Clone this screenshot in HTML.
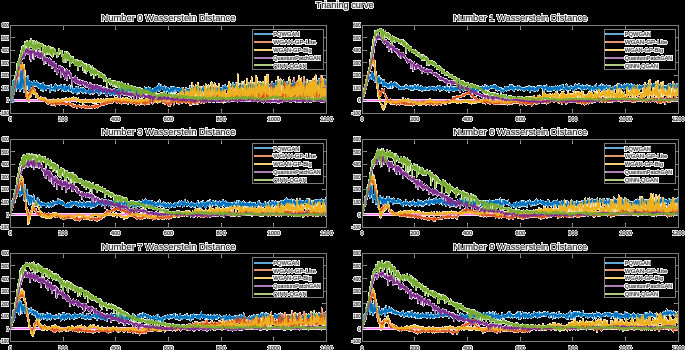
<!DOCTYPE html><html><head><meta charset="utf-8"><style>html,body{margin:0;padding:0;background:#000;width:685px;height:350px;overflow:hidden}svg{display:block}text{font-family:"Liberation Sans",sans-serif;fill:#1a1a1a;stroke:#d6d6d6;stroke-width:1.15px;paint-order:stroke fill;stroke-linejoin:round}.c{fill:none;stroke-width:1.10;stroke-linejoin:round;vector-effect:non-scaling-stroke}</style></head><body>
<svg width="685" height="350" viewBox="0 0 685 350">
<defs><filter id="key" x="0" y="0" width="685" height="350" filterUnits="userSpaceOnUse" color-interpolation-filters="sRGB"><feOffset in="SourceGraphic" dx="0" dy="0" result="b"/><feColorMatrix in="b" type="matrix" values="0 0 0 0 0 0 0 0 0 0 0 0 0 0 0 0.33334 0.33334 0.33334 0 0" result="lum"/><feComponentTransfer in="lum" result="mask"><feFuncA type="linear" slope="-255" intercept="255"/></feComponentTransfer><feComposite in="b" in2="mask" operator="in"/></filter></defs>
<rect width="685" height="350" fill="#000"/><g filter="url(#key)"><rect width="685" height="350" fill="#fff"/>
<text x="344.8" y="7.8" font-size="9.2" text-anchor="middle">Trianing curve</text>
<clipPath id="c0"><rect x="10.30" y="25.00" width="316.30" height="88.00"/></clipPath>
<text x="168.45" y="21.10" font-size="9.40" font-weight="normal" text-anchor="middle">Number 0 Wasserstein Distance</text>
<g clip-path="url(#c0)">
<path d="M10.30 100.50H326.60" stroke="#FF00FF" stroke-width="1.5" stroke-opacity="0.55" fill="none"/>
<g transform="matrix(0.263583 0 0 -0.125714 10.300 100.429)">
<path class="c" d="M0 0l1 5 1 7 1-2 1 46 1-70 1 123 1-71 1 49 1-19 1 88 1-170 1 91 1 2 1 82 1-109 1 52 1-32 1 52 1 33 1-86 1 118 1-11 1-20 1 23 1-83 1 31 1-42 1 37 1 44 1-64 1 15 1-16 1-8 1 8 1 37 1-62 1 76 1 80 1-51 1-53 1-40 1 7 1 140 1-95 1-40 1 48 1 111 1-116 1 29 1-19 1-39 1-48 1 47 1 8 1 48 1 13 1 1 1-36 1 28 1-80 1 89 1-34 1-33 1 28 1-21 1 39 1 12 1 20 1-113 1-1 1 29 1 20 1 21 1-16 1-68 1 49 1 32 1-17 1 15 1-27 1 1 1 10 1 7 1-5 1-2 1-20 1 27 1-6 1 23 1 2 1-24 1-12 1-6 1 24 1-7 1-10 1 8 1-14 1 26 1-23 1 32 1-16 1 3 1-33 1 23 1 10 1-33 1 12 1 4 1-26 1 29 1 8 1-31 1 20 1-30 1 21 1-28 1 46 1-13 1-8 1-13 1 33 1 11 1-64 1 50 1 6 1-22 1-24 1 32 1-17 1-6 1-10 1 27 1 3 1-22 1 17 1-25 1 29 1-12 1-3 1 0 1 14 1-3 1-4 1-5 1-2 1 8 1-6 1 5 1-14 1-27 1 45 1 14 1-23 1-7 1-1 1 0 1 2 1-15 1 7 1-6 1 16 1-7 1 11 1-10 1 16 1-10 1 26 1-53 1 17 1 21 1 19 1-33 1 3 1-3 1 21 1-21 1 13 1-13 1-12 1 21 1 3 1 10 1-18 1-7 1 16 1-6 1 1 1-5 1 17 1-11 1 20 1-10 1-7 1-30 1 29 1-2 1 4 1 3 1-19 1 16 1-19 1 33 1-44 1-5 1 1 1 10 1-3 1 40 1-30 1-14 1 32 1-23 1-9 1 28 1-4 1-14 1 24 1-18 1 19 1-15 1 13 1-19 1-18 1 47 1-40 1 4 1-7 1 6 1 6 1-1 1 5 1 15 1-26 1-15 1 1 1 6 1-14 1 34 1-19 1 2 1 5 1-19 1 7 1 20 1 0 1-14 1 30 1-42 1 13 1 2 1-29 1 57 1-20 1-19 1 41 1-19 1-3 1-14 1 10 1-22 1 31 1-15 1 6 1 14 1-13 1 0 1 0 1-14 1 21 1 9 1-11 1 2 1-24 1 0 1-8 1 35 1-20 1 22 1-30 1 5 1 6 1 11 1-12 1 1 1-3 1 2 1-18 1 16 1-3 1 1 1 7 1-16 1 8 1-4 1 10 1 5 1-24 1 21 1 19 1-47 1 8 1-1 1 8 1 26 1-22 1-9 1 18 1-17 1 24 1-11 1 15 1-27 1 40 1-20 1-2 1-9 1-8 1-2 1 10 1-9 1 14 1-14 1 19 1 5 1-22 1 25 1-19 1 19 1-9 1 9 1-28 1 12 1 21 1-28 1-19 1 1 1-6 1 3 1 23 1 22 1-23 1 10 1-6 1 2 1-3 1-1 1 8 1-22 1 30 1-2 1-15 1 13 1-20 1 2 1 9 1-5 1-4 1-3 1 2 1 19 1-38 1 31 1-9 1 13 1-3 1-39 1 39 1-3 1-4 1-7 1 17 1-17 1 30 1-18 1 21 1-39 1-14 1 33 1 1 1-10 1-22 1 14 1 15 1-11 1 0 1 0 1-11 1 6 1-12 1 43 1-29 1 13 1-20 1 25 1-35 1 38 1-12 1 29 1-45 1 19 1 4 1 12 1-21 1 7 1-29 1 18 1 18 1 9 1-18 1 32 1-4 1-24 1-31 1 8 1 14 1 26 1-11 1-32 1 25 1 25 1-27 1-5 1 38 1-27 1-7 1 12 1-5 1-5 1 22 1-1 1-3 1-13 1 18 1-16 1 7 1 8 1-2 1 14 1-18 1-29 1 8 1 34 1-22 1 10 1-17 1 25 1-18 1 25 1-27 1 22 1-5 1-20 1 25 1-27 1 1 1 20 1-18 1 0 1 3 1-9 1 28 1-7 1-9 1-1 1 7 1 17 1-13 1-19 1 17 1-12 1-2 1 28 1-32 1-1 1-21 1 7 1 25 1-16 1 16 1-22 1 5 1 19 1 11 1-12 1 8 1 7 1-9 1-27 1 11 1 10 1-14 1 13 1-27 1 10 1 19 1-38 1 17 1 15 1-22 1 24 1-11 1 7 1 1 1 7 1-11 1 9 1-8 1 16 1 15 1-20 1-1 1-17 1 25 1-20 1 0 1 18 1-5 1 12 1 4 1-27 1 9 1 22 1-11 1-4 1 7 1-26 1 17 1 10 1 2 1-33 1 7 1 9 1-9 1-2 1 15 1-14 1-20 1 30 1-10 1-4 1-11 1 35 1-43 1 8 1 20 1 21 1 2 1-33 1 15 1-17 1 35 1-33 1 19 1 18 1-16 1 23 1-30 1 18 1 7 1-13 1 22 1-11 1-29 1 54 1-23 1-7 1-20 1 20 1-7 1 15 1-4 1 20 1-24 1 4 1-3 1-8 1 0 1 16 1-5 1-20 1-8 1 13 1 16 1-17 1 24 1-35 1 11 1-35 1 24 1 3 1 11 1 15 1-23 1 19 1-11 1 4 1-19 1 25 1-33 1 21 1-19 1 6 1-12 1 13 1 12 1-5 1-17 1 39 1-15 1 10 1-2 1-19 1-17 1 15 1 30 1-31 1 25 1-19 1 14 1-30 1 41 1-16 1 12 1-9 1 8 1-13 1 12 1-32 1 6 1 24 1-11 1-2 1-1 1 9 1-16 1 15 1-20 1 6 1 19 1 0 1-30 1 26 1-26 1 23 1-36 1 10 1 8 1 4 1 22 1-7 1 9 1-5 1-21 1 0 1 18 1-14 1-2 1-17 1 17 1-31 1 26 1-7 1 23 1-16 1 2 1 23 1-33 1 19 1-30 1 27 1 5 1 6 1-24 1 17 1 1 1-5 1 3 1 4 1-1 1-18 1-2 1 49 1-5 1-45 1 26 1 3 1 2 1-8 1-14 1 11 1-4 1 9 1-5 1 3 1 16 1 3 1-33 1 11 1-5 1 29 1-18 1 21 1-26 1 6 1-19 1 37 1-24 1-15 1 12 1-24 1 31 1 1 1 2 1 16 1-25 1 15 1-8 1-7 1-27 1 41 1-21 1 7 1-19 1 21 1-3 1-1 1-3 1 16 1-2 1-4 1 23 1-41 1 3 1-9 1 20 1-15 1-23 1 16 1 17 1 14 1-35 1 14 1 7 1-8 1 18 1-7 1 5 1-14 1 32 1-20 1 18 1-23 1 15 1-18 1-3 1 4 1 9 1-2 1 24 1-36 1 1 1 39 1-15 1-35 1 33 1-3 1-33 1 24 1 5 1 11 1 3 1-13 1 13 1-17 1-10 1 0 1 20 1-35 1 36 1-25 1 10 1 11 1 10 1-44 1 16 1 11 1-9 1 20 1-41 1 33 1 1 1-5 1 15 1-33 1 32 1-25 1 20 1-15 1 16 1 0 1-31 1 19 1 1 1-1 1-7 1 37 1-22 1 19 1-29 1-7 1 17 1-9 1 42 1-29 1 12 1-18 1-1 1 4 1 6 1 8 1-13 1-7 1-5 1 14 1 9 1-1 1-6 1-8 1 11 1 6 1-7 1 2 1-3 1 15 1-18 1 9 1 3 1 5 1 11 1-11 1 0 1-29 1 29 1 24 1-44 1-3 1 12 1 17 1-7 1-14 1 6 1 15 1-5 1 24 1-20 1-9 1 4 1-14 1-9 1 16 1 5 1-27 1 13 1 2 1 9 1-7 1 10 1-5 1 14 1-39 1 48 1-4 1-18 1 8 1 0 1-19 1 13 1 8 1-6 1 11 1-13 1 0 1-12 1 6 1-1 1 30 1-20 1-17 1 20 1-9 1-30 1 40 1-28 1 30 1-22 1-7 1 28 1-27 1 15 1 9 1 6 1 2 1-11 1-10 1 39 1-35 1 33 1-31 1 23 1-2 1-29 1 20 1 5 1-1 1-12 1 7 1-10 1-11 1 30 1-22 1 28 1-11 1-21 1 10 1-1 1-8 1 19 1-14 1 30 1-10 1-25 1 13 1-3 1-18 1 35 1 1 1 0 1-19 1 22 1-17 1 16 1 13 1-23 1-21 1 15 1 13 1 9 1-34 1 14 1 6 1 3 1 6 1-26 1 6 1 20 1-9 1 1 1 9 1-15 1 5 1-12 1-15 1 0 1 19 1-4 1-7 1 14 1-17 1 14 1-3 1-11 1-21 1 53 1-16 1-37 1 27 1 12 1-8 1 11 1-21 1 16 1-3 1-1 1 0 1 7 1 10 1-20 1 2 1 9 1-3 1 7 1 6 1 8 1-19 1-30 1 32 1 7 1-7 1 1 1-31 1 41 1-11 1-15 1 9 1 1 1 21 1 0 1 14 1-12 1-28 1 0 1 37 1 6 1-25 1 11 1-28 1-7 1 11 1 12 1-2 1 3 1-3 1 16 1 10 1-20 1 28 1-38 1 0 1 12 1-11 1 21 1-26 1 27 1-17 1 30 1-41 1 4 1 4 1-33 1 39 1-2 1-6 1-24 1 0 1 30 1 9 1 6 1-35 1-2 1 11 1-24 1 19 1 21 1 11 1-18 1 20 1-18 1-3 1-5 1 6 1-7 1 2 1-7 1 12 1-3 1-21 1 17 1-9 1-17 1 35 1 15 1 11 1-12 1-35 1 29 1-1 1-45 1 40 1-4 1-7 1 1 1-3 1 22 1-29 1 3 1 3 1 4 1-29 1 45 1-16 1 5 1-4 1-6 1-2 1 7 1 1 1 14 1-11 1-7 1 31 1-46 1-1 1 25 1-9 1-22 1 21 1-6 1 26 1-25 1 24 1-9 1-10 1 3 1 6 1-40 1 38 1-10 1 30 1-35 1 26 1-50 1 46 1-8 1-7 1 1 1-1 1 10 1-7 1-23 1 23 1 35 1-31 1 4 1-10 1 9 1 1 1-6 1 17 1-25 1 12 1 9 1-10 1-13 1 25 1-21 1 8 1-5 1 10 1-4 1-1 1 17 1 16 1-30 1 13 1-12 1 7 1 15 1-15 1-12 1 2 1 2 1 10 1 13 1-31 1 5 1 2 1-11 1 44 1-18 1 28 1-47 1 40 1-28 1 4 1-7 1 0 1-5 1 22 1-22 1 16 1 3 1 10 1-8 1 3 1 2 1-8 1 5 1-20 1 3 1 38 1-28 1-11 1 29 1-23 1-8 1-11 1 31 1-27 1 7" stroke="#0072BD"/>
<path class="c" d="M0 0l1 5 1-1 1 18 1-7 1 9 1 11 1-3 1 6 1 6 1 13 1 15 1-7 1-2 1 16 1-3 1 13 1 17 1-6 1 15 1 1 1 14 1 12 1-2 1 14 1 9 1 5 1 3 1 5 1 22 1 5 1 33 1-45 1 33 1 9 1 18 1-4 1-10 1 15 1 13 1-4 1 18 1-26 1 50 1-8 1-26 1 7 1-12 1-15 1 7 1 7 1-41 1-24 1-20 1-17 1-12 1-49 1-9 1-27 1-33 1 14 1 0 1-4 1 0 1-36 1 23 1-14 1-5 1 29 1 8 1-13 1 23 1-10 1 11 1-9 1 36 1-41 1 31 1 12 1-28 1 23 1 4 1 12 1 7 1-14 1-8 1 31 1 1 1-21 1 3 1-4 1-3 1-8 1 7 1-34 1 21 1-11 1-9 1 7 1-34 1 24 1-11 1-18 1 9 1-11 1 18 1-9 1-12 1-10 1 1 1 2 1-3 1-3 1 3 1 2 1-2 1-2 1-2 1 27 1-31 1 3 1 12 1-7 1 6 1 3 1 3 1-5 1-15 1 16 1-24 1 12 1-4 1-5 1 11 1-7 1 8 1-21 1 17 1-5 1-4 1-14 1 8 1-12 1-5 1 33 1-12 1 6 1-18 1 8 1-1 1-1 1-5 1-3 1-15 1 20 1-3 1 5 1-11 1 16 1-18 1-6 1 17 1-12 1-6 1 11 1 4 1-4 1 2 1 14 1-12 1 6 1-27 1 18 1 3 1-9 1-3 1 10 1-6 1-2 1 14 1 1 1-7 1-5 1 7 1 3 1-1 1-16 1 9 1 5 1 3 1 2 1-1 1-14 1 3 1-4 1 22 1-11 1 2 1 4 1-10 1-7 1 6 1 2 1 13 1-5 1-15 1 13 1 0 1-14 1 7 1-13 1 15 1-5 1-7 1 4 1 7 1-7 1 6 1 2 1-10 1 3 1 17 1-15 1-7 1 5 1-10 1 17 1-6 1 4 1-1 1-5 1 4 1-6 1-7 1-4 1 4 1-14 1 29 1-26 1 11 1-10 1-5 1 13 1-2 1 0 1 5 1-9 1 7 1 0 1-6 1-1 1 6 1-4 1 1 1-18 1 17 1 2 1-4 1 3 1 11 1-12 1 4 1-11 1 1 1 2 1-3 1 6 1-6 1 5 1-9 1-1 1 7 1-3 1 3 1 0 1 1 1 10 1 2 1-5 1-7 1 12 1-21 1-3 1 15 1-3 1-1 1 0 1-11 1 2 1 16 1-2 1-12 1 17 1-20 1 3 1 6 1-9 1 5 1 2 1-1 1 8 1-2 1-11 1 3 1 6 1-1 1-5 1 9 1 3 1-9 1 9 1-16 1 0 1 15 1-9 1-1 1 5 1-3 1 7 1-12 1 7 1 20 1-16 1-14 1 18 1-1 1 6 1-9 1-5 1 15 1-5 1-18 1 19 1-7 1 10 1-10 1 8 1-3 1 3 1-4 1-2 1 4 1 6 1-1 1 11 1-8 1 3 1 12 1-15 1 5 1-7 1 6 1 13 1-9 1 9 1-17 1-2 1 14 1-12 1 29 1-8 1-19 1 9 1-3 1 8 1-3 1 8 1 5 1-13 1-7 1 14 1-5 1 10 1-10 1 8 1-3 1-4 1-2 1 10 1 13 1-11 1-7 1 7 1-4 1-10 1 14 1 10 1-14 1-6 1 13 1 12 1-7 1 1 1 11 1-6 1-7 1-7 1 3 1-2 1 7 1-14 1 20 1-11 1-5 1 10 1-25 1 10 1 1 1 13 1-12 1 17 1-17 1 8 1-11 1 16 1-13 1 6 1-10 1-5 1 7 1 12 1-19 1-5 1 11 1 9 1-16 1 4 1 7 1-5 1 6 1 8 1-10 1-1 1 8 1-7 1-8 1 0 1 0 1 28 1-18 1 6 1 1 1-14 1 14 1-11 1-14 1 17 1-7 1 7 1 7 1 18 1-26 1 3 1 5 1-3 1-2 1-9 1 0 1 7 1-9 1 4 1-6 1 22 1-25 1 32 1-24 1-4 1-2 1 19 1 2 1-18 1 11 1-5 1-1 1 4 1 6 1-26 1-4 1 23 1-2 1 7 1-23 1 7 1 25 1-28 1 16 1-11 1 4 1-10 1 25 1-31 1 7 1 3 1 21 1-9 1 4 1-7 1 2 1 2 1 11 1-14 1-17 1 26 1-10 1-12 1 10 1-8 1 32 1-25 1-17 1 24 1-11 1 22 1-12 1-19 1 13 1-5 1 4 1 1 1-14 1 24 1-11 1 1 1 18 1 12 1-27 1 27 1-40 1 28 1-11 1 5 1-9 1 4 1 3 1 0 1 8 1 22 1-31 1 5 1-17 1-6 1 41 1-29 1 7 1 9 1 10 1-5 1 17 1-22 1-18 1 22 1 1 1-11 1 6 1-3 1 26 1-26 1-8 1 19 1-24 1 26 1-1 1-14 1 3 1-1 1 25 1-15 1-19 1-1 1 13 1-1 1-9 1 11 1-6 1 13 1-8 1-7 1 1 1-13 1 20 1-7 1-10 1 5 1-8 1 33 1-34 1 10 1-3 1-15 1 9 1-5 1 6 1 0 1 6 1 0 1-14 1-2 1 0 1-4 1-10 1 28 1-8 1-1 1-18 1 3 1-10 1 28 1 9 1 0 1-7 1-11 1 14 1 0 1 10 1 2 1-12 1 4 1 10 1-3 1-6 1-24 1 19 1 19 1-8 1 11 1-15 1 5 1 10 1-1 1-3 1 9 1 3 1 1 1-38 1 15 1 3 1-1 1-16 1 37 1-29 1 13 1-31 1 23 1 3 1-10 1 22 1 20 1-41 1 0 1 33 1-15 1-12 1-13 1 26 1-7 1 17 1-32 1 9 1-3 1 1 1 17 1-3 1-20 1 6 1-2 1 15 1-14 1-13 1 10 1 4 1 12 1 5 1 0 1-12 1-12 1 15 1-11 1-6 1 12 1 1 1 6 1-24 1-11 1 30 1-20 1 27 1-28 1 6 1-16 1 52 1-34 1 5 1-5 1 4 1 15 1-10 1-1 1 17 1-35 1 35 1 7 1-40 1 23 1-20 1-10 1 18 1 20 1 4 1-15 1-5 1 6 1-3 1 2 1-23 1 30 1 2 1 32 1-21 1-11 1 4 1 3 1-15 1-19 1 18 1 7 1 4 1-11 1-4 1 9 1 4 1 7 1-12 1 8 1-21 1 25 1-13 1-19 1 15 1 6 1-17 1 26 1-16 1 12 1-20 1 19 1 6 1-16 1 5 1-5 1 14 1-3 1 8 1-7 1-15 1 0 1 15 1 14 1 28 1-19 1-17 1-22 1 41 1-9 1-16 1 31 1-11 1-5 1-18 1 39 1-12 1-4 1-9 1 9 1 35 1-21 1 22 1-14 1-10 1 15 1-17 1-24 1 13 1 14 1-19 1 6 1-5 1 43 1-50 1 4 1 3 1 35 1 12 1-43 1 16 1-10 1 1 1 35 1-21 1-15 1-19 1 15 1-16 1-13 1 51 1-10 1-5 1 11 1-29 1 36 1-37 1 21 1 1 1 44 1-20 1-25 1-11 1 9 1 1 1-17 1 25 1-14 1 13 1-14 1-11 1 18 1 12 1 0 1 38 1-48 1 26 1-36 1 22 1 7 1 37 1-18 1-49 1 33 1-24 1-10 1 60 1-44 1 3 1 22 1-47 1 0 1 20 1-25 1 40 1-25 1-13 1 27 1-7 1 9 1 18 1-10 1-18 1-44 1 10 1-1 1 34 1 18 1-31 1-18 1 31 1-4 1 31 1-31 1-6 1-19 1 29 1-19 1-7 1 21 1 31 1-7 1-9 1 30 1-68 1 21 1-8 1 4 1-9 1-3 1 15 1 8 1 4 1-27 1 20 1 14 1-21 1 1 1 10 1 25 1-18 1 23 1-39 1-7 1 25 1-15 1-6 1 23 1 4 1-19 1-8 1-6 1 71 1-50 1-12 1-13 1 27 1-18 1 14 1-11 1-13 1 25 1 27 1-41 1-32 1 96 1-41 1-22 1-14 1-9 1 88 1-54 1 42 1-38 1-13 1 77 1 7 1-87 1 11 1 0 1-12 1-11 1 4 1 43 1 6 1-36 1-18 1 54 1-49 1 61 1 17 1-26 1 18 1-55 1 41 1-33 1-34 1 13 1 6 1-6 1 7 1 84 1-123 1 47 1-8 1-11 1 58 1-41 1-8 1 9 1-21 1 53 1 49 1-104 1 25 1-9 1 36 1 9 1 24 1-103 1 47 1 4 1 4 1-14 1 9 1-19 1-14 1 92 1-77 1 21 1-3 1-22 1 2 1 6 1 7 1 87 1-50 1-21 1 25 1-59 1 131 1-108 1 6 1-7 1 33 1-43 1 78 1-75 1 46 1-60 1 16 1-18 1 22 1 18 1-24 1 64 1-55 1-24 1 7 1 10 1 9 1-17 1-11 1 16 1-5 1 13 1 26 1 36 1-100 1 16 1 66 1-45 1-2 1-10 1 11 1-22 1 3 1 11 1-24 1 46 1 19 1-67 1 26 1-23 1 31 1 27 1-18 1 105 1-124 1-26 1 27 1 110 1-61 1-46 1 22 1-19 1-22 1 5 1-19 1 38 1 14 1 2 1-39 1-12 1 31 1 8 1-20 1 14 1 111 1-101 1-6 1 4 1 84 1-78 1-11 1 36 1-45 1 2 1-4 1 7 1-3 1-19 1 64 1-31 1 138 1-149 1 90 1-87 1 30 1-11 1-3 1-17 1 6 1 110 1-149 1 22 1-10 1 5 1 30 1 110 1-129 1 23 1-34 1 2 1 56 1-2 1-48 1-18 1 29 1 66 1-84 1 7 1-20 1 19 1-17 1 19 1 25 1-18 1-23 1 28 1-46 1 196 1-158 1-25 1 14 1-10 1 53 1-25 1 84 1-29 1-62 1 122 1-91 1-26 1-33 1 125 1-67 1 80 1-98 1-17 1-3 1 15 1-22 1 91 1-58 1-16 1 5 1-1 1 6 1 3 1 67 1-83 1 21 1-21 1 103 1-2 1-92 1 53 1-28 1 96 1-134 1-16 1 17 1 54 1-36 1 14 1-22 1 85 1-100 1 25 1 13 1 45 1-6 1-77 1 21 1-24 1 22 1 6 1-26 1 29 1-16 1 33 1-31 1 59 1-33 1 136 1-40 1-154 1 49 1-39 1 7 1-31 1 82 1-52 1 8 1-14 1 15 1-11 1 10 1 103 1-106 1 82 1-79 1-26 1 105 1-48 1-20 1 30" stroke="#D95319"/>
<path class="c" d="M0 0l1 7 1 4 1-2 1 11 1 5 1 7 1 2 1 8 1 3 1 1 1 18 1 5 1 11 1-5 1 2 1 9 1 2 1 30 1-7 1 9 1 18 1 25 1-1 1-1 1 12 1 23 1 3 1 3 1 16 1 20 1 18 1-31 1 11 1 3 1-14 1 21 1 3 1 30 1-11 1-13 1 31 1-8 1-13 1 19 1 4 1-9 1 7 1-34 1 20 1 12 1-7 1-1 1-21 1-16 1-56 1 5 1-58 1-4 1-39 1 20 1-17 1-42 1 20 1-40 1 4 1-6 1-22 1 13 1 12 1-43 1 29 1-7 1 29 1-9 1 7 1 6 1 1 1-12 1 37 1-25 1 20 1 7 1-13 1 13 1 13 1-10 1-6 1-12 1 16 1 6 1-4 1-9 1 8 1-13 1 0 1 2 1-17 1 1 1 16 1-16 1-20 1 7 1 2 1 3 1-12 1-8 1-4 1 8 1-4 1-10 1 3 1-2 1 10 1-11 1 10 1 3 1-3 1-10 1 17 1-16 1 9 1-9 1-9 1 16 1 0 1-4 1 3 1-8 1-2 1 4 1 16 1-10 1-11 1 7 1-9 1-1 1 10 1-12 1-10 1 4 1 7 1-1 1 7 1-16 1 10 1-3 1-5 1 8 1-4 1-11 1 15 1-18 1 10 1-1 1 4 1-9 1 6 1-1 1 9 1-13 1 7 1-2 1-7 1 29 1-18 1-11 1 23 1-19 1 12 1 5 1-12 1 3 1-1 1 4 1-12 1 3 1 9 1 9 1-3 1 8 1-7 1-10 1 3 1-15 1 8 1-1 1 10 1 3 1-9 1 0 1-8 1 11 1 2 1 2 1-9 1 21 1-6 1-9 1-3 1 2 1 3 1 0 1 4 1 2 1 5 1-2 1-8 1 4 1-6 1-1 1 19 1-17 1 17 1-17 1 5 1 7 1-8 1 2 1-4 1-2 1 2 1-3 1 17 1-13 1 14 1-29 1 17 1 4 1-6 1 10 1-3 1-6 1 5 1 14 1-14 1 0 1-5 1 5 1-11 1 9 1 18 1-9 1-3 1 3 1 5 1-8 1 10 1-7 1-7 1 10 1-30 1 12 1 5 1-9 1 5 1-5 1-1 1 20 1-13 1-5 1 8 1-11 1 7 1-5 1 8 1-21 1 15 1-6 1-9 1 15 1-14 1 17 1-8 1 1 1-4 1 6 1-19 1 13 1-4 1 6 1-2 1 5 1-9 1 18 1 3 1-17 1 2 1 3 1 6 1 5 1-21 1 5 1-3 1-1 1-3 1 13 1-10 1 18 1-3 1-13 1 0 1 3 1 14 1-16 1-4 1 10 1 3 1-7 1 15 1-9 1 1 1-8 1 5 1-1 1-14 1 17 1-14 1 12 1-9 1 22 1-11 1 4 1 0 1-15 1-6 1 14 1 8 1-5 1 5 1 1 1-16 1 12 1 12 1-17 1-10 1 13 1-1 1 7 1-9 1 6 1-15 1 21 1 5 1-1 1-19 1 12 1-18 1 18 1-2 1-7 1 9 1-1 1 6 1-7 1 1 1-15 1 5 1 5 1 5 1-2 1 10 1-16 1 5 1 3 1-3 1 5 1-7 1 13 1-11 1 10 1-8 1 12 1-20 1 14 1-6 1 5 1 7 1-16 1 0 1 3 1 9 1-15 1 15 1-10 1 1 1 6 1 6 1-7 1 1 1 4 1-2 1-15 1 14 1 4 1 6 1 7 1-10 1-4 1-8 1 8 1 4 1 3 1-16 1 8 1 4 1 7 1-12 1-6 1-2 1 3 1-3 1 10 1 2 1-2 1 3 1-12 1 6 1-6 1 3 1 9 1-9 1-13 1 12 1-3 1-6 1 6 1 12 1 6 1-16 1 11 1 1 1-17 1 9 1 0 1 1 1-14 1 9 1 11 1 1 1 3 1-16 1 16 1-10 1-15 1 14 1-8 1 6 1-5 1 9 1-8 1-4 1 9 1-6 1-6 1 13 1-13 1-2 1 0 1-7 1 7 1 18 1-21 1 7 1-8 1 4 1 16 1-4 1-11 1 4 1-6 1 1 1-1 1 0 1 9 1 2 1 0 1-5 1-9 1 10 1-7 1 14 1-3 1 2 1-9 1-11 1 21 1 1 1-20 1 12 1 8 1-18 1 22 1-16 1-6 1 19 1-8 1-7 1 12 1-21 1 28 1-19 1 8 1-4 1 6 1 5 1-13 1 12 1-7 1-2 1 4 1-6 1 2 1 14 1-8 1 10 1-5 1-11 1-6 1 10 1 7 1-2 1-6 1 14 1-21 1 3 1 11 1 16 1-14 1-12 1 13 1 0 1 2 1-10 1-4 1 8 1 2 1 9 1 4 1-23 1 1 1 4 1-2 1 6 1 0 1-2 1 8 1-12 1-7 1-4 1 4 1 0 1-7 1 20 1-4 1-5 1-4 1-6 1 5 1 21 1-32 1 18 1 5 1-5 1-3 1 8 1-15 1 14 1 6 1-19 1 2 1 8 1 7 1 2 1-5 1-10 1-3 1 11 1 2 1-12 1 10 1 2 1 6 1-16 1 13 1-13 1 6 1 3 1 13 1 7 1-16 1 2 1 4 1-20 1 18 1-17 1 24 1-2 1-7 1-10 1 20 1-11 1-1 1 4 1-18 1 18 1 5 1-4 1-1 1-8 1 14 1-3 1-1 1-3 1 12 1 5 1-6 1 5 1 5 1 2 1-10 1-1 1-1 1 6 1 4 1 7 1-14 1 10 1-14 1 24 1-16 1 8 1-11 1 6 1-5 1 26 1-14 1-6 1-8 1 3 1 14 1 13 1-37 1 36 1 10 1-38 1-14 1 56 1-5 1-52 1 65 1-32 1 9 1-28 1 75 1-62 1-20 1 26 1-31 1 30 1-16 1 14 1-21 1 37 1-4 1 41 1-64 1 42 1-69 1 34 1 0 1 42 1-35 1 27 1-38 1 12 1 5 1 13 1-69 1 69 1-9 1-64 1 42 1 63 1-59 1 65 1-26 1-20 1 2 1-37 1 24 1 99 1-78 1-41 1-17 1 64 1-48 1 67 1 10 1-13 1-63 1 77 1-39 1 59 1-43 1-25 1 5 1-10 1-7 1 1 1 16 1 83 1-30 1-86 1 94 1-84 1 21 1-16 1 4 1 1 1 30 1-13 1 6 1 41 1-70 1-14 1-36 1 63 1-46 1 58 1-26 1-1 1-34 1-4 1 23 1 15 1-5 1 76 1-83 1 65 1-7 1 47 1-99 1-14 1 76 1-34 1 5 1-37 1 6 1-33 1 118 1-31 1-75 1 108 1-113 1-2 1 29 1 50 1-67 1 39 1-58 1 39 1-28 1 136 1-79 1 72 1-72 1 65 1-84 1-18 1-8 1 33 1 17 1-24 1 64 1 25 1-90 1-4 1-14 1 12 1-3 1 78 1-63 1 18 1-15 1-7 1 3 1 7 1 22 1 11 1-62 1 22 1 83 1-47 1-42 1 1 1-15 1-4 1-32 1 85 1-67 1-8 1 41 1 14 1-9 1-13 1 50 1-61 1-29 1-17 1 75 1 16 1-62 1 77 1-81 1 76 1-67 1 2 1-20 1 10 1 42 1-12 1-20 1-19 1 46 1-24 1 14 1 82 1-132 1 165 1-121 1 11 1 95 1-87 1-20 1 29 1 55 1-75 1-26 1 54 1-2 1 15 1-27 1 57 1 20 1-109 1 52 1-24 1 17 1 40 1-97 1 19 1 3 1 46 1-5 1-31 1 83 1-25 1 9 1 23 1-68 1 77 1-89 1 159 1-184 1 80 1-65 1 64 1-40 1-41 1 36 1 32 1-58 1-6 1 75 1-43 1 15 1-10 1 89 1-79 1-31 1 19 1 27 1-21 1 1 1-49 1 44 1 6 1 84 1-48 1-85 1 48 1 53 1-82 1 43 1-44 1 29 1-41 1-17 1 164 1-129 1 12 1-17 1 61 1-31 1 21 1-56 1 102 1-61 1-7 1-13 1-29 1 73 1-5 1-32 1 94 1 29 1-93 1-57 1 32 1 16 1-9 1-23 1 5 1 87 1-55 1-78 1 37 1-54 1 65 1 11 1 127 1-141 1-25 1 85 1 65 1-165 1 97 1-117 1 94 1-20 1-11 1 81 1-42 1 31 1-53 1-13 1 85 1-90 1-26 1 47 1 48 1-90 1 74 1-30 1-30 1 54 1 47 1-101 1 60 1-13 1-11 1-13 1 76 1-71 1 109 1-130 1-31 1 15 1 79 1-45 1-16 1 46 1-45 1 146 1-135 1-5 1-15 1 149 1-133 1-5 1-7 1-25 1 45 1-42 1 52 1-1 1-53 1 23 1-47 1 74 1 27 1-44 1-30 1 32 1 3 1 1 1-22 1 48 1-32 1-25 1 57 1-83 1 18 1 28 1 6 1 54 1-78 1 83 1-89 1 37 1-46 1 24 1 57 1-67 1 148 1-154 1 106 1-82 1-16 1-9 1 124 1-122 1 6 1 73 1 55 1-104 1-23 1 3 1 5 1 28 1-24 1 19 1 79 1-94 1 17 1 13 1 6 1-19 1 14 1-78 1 49 1 31 1-7 1-30 1 23 1 64 1-59 1 31 1-45 1-43 1 98 1-87 1-12 1 8 1 25 1 69 1-84 1 1 1 141 1-175 1 155 1-179 1 64 1-44 1 63 1 13 1-66 1 18 1 75 1-61 1 16 1-48 1 93 1-40 1 42 1-68 1 29 1-5 1 32 1-51 1 2 1 58 1 15 1-58 1 55 1-88 1 119 1-78 1 61 1-96 1 77 1-11 1-4 1-69 1 18 1 148 1-153 1 81 1-78 1 106 1-56 1-43 1-1 1 125 1-60 1 17 1-55 1-55 1 63 1 37 1-23 1 41 1-69 1 87 1-125 1 2 1 37 1 1 1-25 1 58 1-79 1 8 1 2 1 127 1-111 1 17 1 48 1-30 1-51 1 57 1 40 1-107 1 0 1 119 1-56 1-53 1 117 1-118 1 112 1-125 1 57 1 66 1-57 1 69 1-109 1-36 1 31 1 129 1-95 1-4 1 78 1-114 1 72 1 38 1-55 1 33 1-117 1 195 1-145 1 8 1 91 1-44 1-37 1 1 1 46 1-9 1-92 1 35 1-11 1 35 1-29 1 105 1-66 1-22 1 20 1-44 1 46 1-59 1 107 1-72 1-24 1-17 1 159 1-130 1 114 1-135 1 26 1 10 1 100 1-63 1-110 1 12 1 100 1-64 1 67 1-72 1-8 1 0 1-1 1 9" stroke="#EDB120"/>
<path class="c" d="M0 0l1 7 1 10 1 5 1 6 1 1 1 16 1-6 1 10 1 9 1 12 1-3 1 8 1 20 1-10 1 16 1-3 1 18 1 1 1 33 1-3 1 24 1 6 1 12 1-11 1 7 1 26 1-4 1 29 1-1 1 14 1 21 1-28 1 11 1 8 1 22 1 6 1 12 1-3 1 18 1-4 1-22 1 53 1-20 1 12 1 10 1 12 1-19 1 18 1 7 1 17 1-25 1-20 1 17 1 19 1-15 1 45 1-25 1 26 1-22 1 33 1-30 1-4 1 15 1 17 1 1 1-16 1-30 1 30 1-21 1 29 1 9 1-23 1 5 1-33 1 28 1-61 1 65 1-16 1 24 1-89 1 48 1 33 1-11 1 2 1 16 1-23 1 19 1-19 1 24 1-16 1-59 1 40 1 29 1-31 1-10 1 17 1-5 1 13 1-10 1-10 1 8 1-1 1 28 1 4 1-53 1-2 1 38 1-5 1 8 1-30 1-18 1 32 1-30 1 36 1 1 1-24 1 31 1-47 1 44 1-30 1 16 1-2 1 12 1-3 1-56 1-2 1 29 1-55 1 59 1-9 1 6 1-14 1-12 1 4 1 20 1-43 1 4 1 30 1-22 1 5 1 21 1-27 1 7 1 12 1-11 1-24 1 13 1-24 1 54 1-55 1 2 1 34 1 4 1-45 1 41 1-4 1-8 1-46 1 28 1-7 1 25 1-31 1-3 1-6 1 37 1 1 1-12 1-43 1-2 1-14 1 55 1 0 1-16 1 16 1-48 1-23 1 31 1-39 1 35 1-12 1 14 1-21 1 28 1 22 1-29 1 9 1-1 1 18 1-13 1 5 1-29 1 32 1-84 1 53 1 19 1-24 1 31 1-2 1-42 1 3 1-11 1 45 1-55 1 26 1-7 1-47 1 55 1-52 1 21 1 12 1 16 1 23 1-60 1 57 1-80 1 54 1 2 1 18 1-3 1-25 1 12 1 10 1-15 1-15 1 23 1-27 1 8 1-28 1 12 1 22 1-18 1-18 1-10 1 4 1-50 1 47 1 7 1-20 1 11 1 5 1 7 1 2 1-29 1-4 1 3 1 42 1-48 1 16 1 23 1-17 1-30 1 44 1-27 1-13 1 8 1 13 1-30 1 31 1-3 1-20 1 9 1-13 1-10 1 28 1-8 1 20 1-34 1 12 1 10 1-31 1 13 1 16 1-23 1 5 1 10 1-9 1 22 1-2 1-3 1-21 1-13 1 21 1-12 1 3 1 6 1 13 1-7 1-35 1 38 1-12 1-18 1 19 1-13 1 4 1 0 1-21 1 10 1 3 1-19 1 32 1-20 1 7 1 23 1-29 1-4 1-37 1 50 1-22 1 31 1-22 1-10 1 27 1-34 1-36 1 61 1 9 1-35 1 29 1-20 1 8 1-17 1 20 1 19 1-30 1-12 1 35 1 4 1-22 1 18 1 0 1-9 1 4 1-31 1 31 1-21 1-31 1 37 1 13 1-20 1-16 1 8 1 0 1 18 1 11 1-19 1-13 1 19 1-25 1-4 1 25 1-13 1 3 1-17 1 16 1 6 1 15 1-42 1 21 1-3 1 6 1 8 1-16 1 3 1-4 1 12 1 4 1-52 1 16 1 24 1-13 1 18 1-5 1-9 1 3 1 16 1-13 1-1 1-10 1 16 1 3 1-23 1 1 1 14 1-16 1-9 1 8 1 17 1-9 1 3 1 2 1-4 1 17 1-7 1 6 1-11 1 4 1-3 1 7 1-24 1-1 1-13 1 2 1 35 1-20 1-15 1-1 1 16 1 5 1-32 1 28 1-45 1 50 1-20 1 5 1-34 1 47 1-5 1-4 1-8 1 23 1-16 1 19 1-24 1 14 1 4 1-22 1 0 1 22 1-25 1 14 1-15 1 32 1-5 1-23 1 22 1-4 1-24 1 5 1 13 1 2 1-14 1-8 1 13 1 8 1-9 1-13 1 4 1 15 1-11 1 10 1-21 1 17 1 4 1 2 1-21 1 21 1-12 1-10 1-10 1 22 1 9 1-13 1-9 1 1 1 5 1 17 1-19 1-2 1 4 1-37 1 30 1 17 1 3 1-17 1 3 1 14 1-6 1-9 1 17 1-3 1-14 1-32 1 43 1 2 1-7 1 4 1-26 1 20 1 5 1-17 1-4 1 23 1-4 1-13 1 6 1-11 1 3 1 11 1 2 1-14 1-10 1 25 1-19 1 16 1 8 1-3 1-4 1 3 1-26 1 9 1 9 1-2 1-17 1 7 1 9 1-16 1 0 1 9 1-8 1 9 1 7 1-6 1-14 1 27 1-21 1-8 1 13 1 12 1 2 1-24 1-23 1 43 1-1 1 2 1-4 1-18 1 18 1-24 1 4 1-23 1 16 1 18 1 11 1-32 1 6 1 0 1 22 1-1 1-10 1 4 1-4 1 3 1 8 1-27 1 1 1-1 1 17 1-17 1 1 1 22 1 1 1-23 1-7 1 32 1-2 1-19 1 7 1 9 1-23 1 28 1-16 1 7 1-15 1 17 1-16 1-9 1 30 1-18 1 10 1 4 1-7 1 13 1-24 1 0 1 0 1 25 1-12 1-5 1 7 1-14 1 7 1-3 1 10 1-24 1 31 1-25 1 2 1 1 1 22 1-20 1 11 1 0 1-9 1-2 1 12 1-18 1-2 1 10 1-2 1-7 1 1 1-2 1 24 1-18 1-2 1 5 1 8 1-15 1 2 1-3 1 10 1 2 1-3 1-10 1-6 1 12 1-9 1 1 1 25 1-16 1 14 1 2 1-18 1-4 1 17 1-21 1 2 1 2 1-5 1 6 1-7 1 7 1 6 1 3 1-14 1 10 1 4 1-17 1 10 1-2 1-7 1 12 1-13 1 3 1 7 1 8 1-9 1 8 1-11 1-7 1 12 1 2 1-9 1-7 1 15 1 1 1 3 1-7 1 4 1-14 1 3 1 1 1-1 1-1 1 7 1 4 1-7 1 5 1-4 1 3 1-3 1-10 1 16 1-16 1 3 1-4 1 13 1-2 1-10 1-2 1 13 1-1 1 4 1-12 1 3 1-5 1-10 1 13 1-2 1-1 1 13 1 8 1-12 1-15 1 13 1-1 1 10 1-11 1 8 1 8 1-15 1 7 1-5 1 7 1-8 1 10 1-13 1 9 1-11 1 12 1-6 1-6 1 11 1-24 1 23 1 0 1-5 1 0 1 5 1-4 1-18 1 7 1 19 1-10 1 3 1-6 1 0 1 7 1-8 1-4 1-6 1 6 1 9 1 7 1-4 1-12 1 8 1 10 1-6 1-11 1 6 1-4 1-4 1 11 1 3 1-17 1 16 1-4 1-7 1 9 1 6 1-5 1-4 1-8 1 5 1 7 1 1 1-16 1 6 1 12 1-15 1 7 1 4 1-2 1-10 1 3 1-1 1 7 1-6 1 11 1-14 1 6 1 11 1 1 1-14 1-2 1-4 1 14 1-13 1 20 1-15 1 14 1-4 1-14 1 5 1 7 1 6 1-22 1 16 1-4 1-8 1 0 1 0 1 0 1 6 1 10 1 4 1-11 1 7 1 3 1-13 1 7 1 7 1-8 1 3 1-12 1 6 1-2 1 9 1-20 1 20 1-5 1 2 1 6 1-4 1-5 1-5 1 2 1-3 1-9 1 17 1-5 1 12 1-16 1 11 1-10 1 13 1-8 1 8 1 0 1 2 1-4 1-3 1-3 1 8 1-8 1 10 1-4 1-4 1-6 1 1 1-3 1 13 1-2 1 1 1-6 1 11 1-17 1 4 1-5 1-1 1 14 1-9 1-1 1 8 1 5 1-17 1 10 1-2 1 12 1-19 1 1 1 17 1-10 1 0 1 1 1-6 1 9 1 1 1-2 1-1 1-3 1 5 1-12 1 6 1-7 1 6 1 13 1 0 1-4 1-4 1 6 1-12 1 1 1 2 1 2 1 9 1-9 1 2 1 0 1-6 1 4 1 6 1 4 1-5 1 2 1 1 1-2 1 3 1-3 1 4 1 0 1 1 1-4 1-15 1 11 1-10 1 16 1-8 1-10 1 7 1 9 1 0 1 2 1-6 1 2 1-13 1-1 1 1 1 1 1 6 1-5 1 10 1 3 1-14 1 14 1-19 1 18 1-4 1-2 1-2 1 9 1-6 1 4 1 3 1-16 1 2 1 8 1-10 1-1 1 16 1-1 1-6 1-7 1-2 1 6 1-9 1 0 1 2 1 5 1-5 1-9 1 14 1 7 1-15 1 11 1-5 1 13 1-5 1 3 1-3 1-2 1-12 1 7 1-7 1 17 1-7 1-8 1 1 1-5 1 12 1-7 1 13 1-14 1 12 1-7 1-17 1 13 1-1 1 14 1-12 1 5 1-6 1 10 1-7 1 0 1 1 1-7 1 4 1 6 1-1 1 1 1 6 1-14 1 1 1 11 1-7 1-9 1 18 1-1 1-10 1 1 1 3 1-4 1-13 1 20 1-9 1-1 1 10 1-21 1 27 1-15 1 3 1 11 1-6 1-12 1 18 1-12 1-8 1 7 1 6 1 5 1-5 1-1 1 6 1 4 1-9 1-7 1 1 1 16 1 0 1-4 1-11 1 14 1-1 1-1 1-3 1 3 1-7 1 10 1-1 1-5 1-9 1 7 1-5 1 0 1 9 1-12 1 5 1-2 1 8 1-15 1 7 1 9 1-15 1 13 1-6 1-4 1 14 1-7 1 2 1-9 1 3 1-1 1 10 1 0 1 5 1-11 1 9 1-2 1-1 1 3 1 1 1-5 1-12 1-7 1 16 1-1 1 8 1-17 1 5 1 5 1-11 1 5 1 2 1-7 1 7 1 2 1 4 1-3 1-1 1 5 1-16 1 17 1-10 1 4 1-6 1 0 1 4 1 9 1-10 1 11 1-1 1-3 1-11 1 4 1 8 1-8 1-6 1 10 1-5 1 7 1 2 1-1 1 5 1-9 1 8 1-17 1 8 1 2 1 1 1-7 1 11 1 2 1 1 1-17 1 18 1-12 1-2 1 9 1-14 1 4 1-2 1 4 1 11 1-14 1 16 1-4 1 2 1-7 1 9 1-6 1 6 1-12 1 13 1 0 1-11 1-4 1 16 1-15 1 11 1 3 1-18 1 13 1-12 1 8 1 7 1-15 1 2 1 11 1-1 1 1 1-5 1-5 1 1 1 7 1 6 1-21 1 5 1 2 1-4 1 1 1 13 1-14 1 1 1 9 1-13 1 18 1-12 1-3 1 5 1-8 1 8 1 2 1 8 1-5 1-7 1 0 1 1 1-4" stroke="#7E2F8E"/>
<path class="c" d="M0 0l1 11 1 1 1 17 1 1 1 13 1 11 1-1 1 10 1 6 1-3 1 34 1 6 1 5 1 29 1-2 1 15 1 9 1 1 1 32 1 13 1-1 1 11 1 8 1 13 1 3 1-16 1 68 1 10 1-22 1 2 1 13 1 27 1 9 1-62 1 63 1-23 1-13 1 55 1 25 1-31 1-8 1 54 1 10 1-45 1 34 1 36 1-27 1 32 1-14 1-40 1 40 1-27 1 5 1 3 1 12 1 50 1-20 1 15 1-15 1 7 1 14 1 9 1-40 1 34 1-51 1 20 1-23 1 38 1 19 1-52 1 10 1 13 1-8 1 40 1-31 1 21 1-10 1-30 1 64 1 1 1-60 1 51 1-35 1-19 1 19 1-49 1 38 1 8 1-26 1 59 1-54 1 25 1 25 1-64 1 34 1-12 1-20 1 38 1-13 1 40 1-14 1-54 1 8 1 18 1 16 1-27 1 1 1 38 1 1 1-39 1 33 1-41 1-18 1 30 1 8 1 15 1 5 1-15 1-1 1-4 1-2 1 4 1 13 1-77 1 14 1 10 1-2 1 9 1 31 1-53 1 26 1 25 1-90 1 36 1 12 1-12 1 50 1-45 1 1 1 42 1-1 1-16 1 22 1-61 1 62 1-28 1-18 1 35 1-12 1 22 1-61 1 32 1-8 1 12 1-29 1-15 1 35 1-13 1 35 1-72 1 39 1 14 1-8 1 29 1-12 1-20 1-21 1 26 1 10 1 0 1-29 1-8 1 13 1 0 1-8 1 3 1 7 1-39 1 23 1-9 1 12 1-12 1 12 1 25 1-6 1 27 1-29 1-1 1 6 1 6 1-8 1-2 1 2 1-17 1 27 1-45 1 12 1-5 1-47 1 51 1-24 1 9 1-8 1-37 1 55 1 14 1 11 1-11 1-32 1 47 1-52 1-33 1 64 1-11 1-24 1 30 1 21 1-16 1-41 1-6 1 52 1-4 1-12 1-1 1-41 1 42 1-42 1-41 1 51 1-28 1 53 1-46 1 35 1-11 1 10 1-13 1 22 1-38 1 6 1-12 1 24 1-30 1 30 1-46 1 9 1 12 1-20 1 4 1 39 1-30 1-10 1 38 1-17 1 2 1-31 1 35 1-66 1 21 1 33 1 9 1 5 1-38 1 26 1 18 1-42 1 1 1 7 1 9 1 24 1-25 1 17 1-15 1-12 1-11 1 2 1 24 1-37 1-36 1 37 1 26 1-19 1-11 1 6 1-15 1 20 1 21 1-23 1-46 1 20 1 13 1-13 1-3 1 47 1-10 1 6 1-42 1 13 1 30 1-28 1-14 1 42 1-56 1 24 1 7 1-14 1-39 1 37 1-9 1-13 1 39 1 14 1-56 1 45 1-19 1-31 1 1 1 24 1-25 1-36 1 43 1 37 1-30 1-12 1 35 1 0 1-15 1-33 1 39 1-26 1 18 1-5 1-6 1 5 1 1 1-20 1 0 1-22 1 14 1 26 1-36 1 27 1 2 1-34 1 29 1-7 1 16 1-33 1 19 1 3 1-25 1-10 1 7 1 14 1-23 1 30 1-31 1-21 1 20 1 8 1 18 1-22 1 6 1-16 1 5 1-23 1 22 1-5 1-51 1 33 1 7 1-4 1 2 1 20 1 3 1 0 1-27 1 23 1-17 1 19 1-45 1 31 1-10 1-4 1 10 1 3 1-2 1-25 1 1 1 10 1-28 1 37 1-11 1-7 1 8 1 16 1-8 1-7 1-22 1 37 1-29 1 25 1-19 1 8 1 10 1-40 1 11 1-6 1-7 1 14 1 27 1-62 1 23 1 38 1-21 1-1 1 10 1 5 1-28 1-44 1 53 1 18 1 3 1-34 1 22 1-12 1 19 1-28 1-1 1-12 1 37 1-32 1 4 1-38 1 66 1-38 1 11 1 15 1-24 1 18 1-39 1 14 1 25 1-11 1-6 1 33 1-7 1-52 1 29 1-14 1 31 1-20 1 10 1 5 1 5 1-26 1-3 1 29 1-32 1 15 1-16 1-21 1-1 1 54 1-5 1-22 1 14 1-5 1-42 1 35 1 15 1-26 1 3 1 4 1-49 1 64 1-17 1 9 1-5 1 10 1-6 1-11 1-12 1 11 1-17 1-18 1 49 1-35 1 31 1-27 1 15 1 7 1 8 1-1 1-59 1 57 1-18 1-11 1-20 1 33 1 12 1 0 1-14 1 9 1-11 1-17 1 13 1 9 1 2 1-3 1-26 1 26 1 11 1-29 1 18 1-19 1-5 1 32 1-28 1 7 1-4 1 21 1-31 1 26 1-20 1 5 1-8 1 23 1-23 1 5 1 0 1-4 1-3 1 18 1-26 1 25 1-22 1 13 1-18 1 0 1 11 1 5 1 4 1-6 1-18 1 10 1 11 1 7 1-3 1-15 1-3 1-6 1 12 1-14 1-8 1-19 1 30 1-4 1-17 1 27 1 3 1-5 1 7 1-13 1 2 1-8 1 3 1 9 1 11 1-12 1 14 1 2 1-25 1 20 1-25 1 23 1-22 1 24 1-10 1-11 1 28 1-24 1 26 1-6 1 5 1-9 1-9 1-5 1 9 1 9 1 7 1-29 1 4 1 8 1-13 1 11 1 2 1-8 1-5 1 8 1-2 1 14 1-9 1 14 1-19 1 7 1-18 1 18 1-9 1 11 1-10 1-4 1 11 1 4 1-5 1-5 1-1 1-9 1-2 1 1 1 23 1-21 1 8 1 2 1-12 1-6 1 15 1 13 1-6 1-21 1 8 1-7 1 4 1 12 1-11 1 5 1-6 1 3 1-1 1-7 1-16 1 40 1-25 1-2 1 10 1-2 1-11 1 7 1 15 1-2 1-3 1 5 1-10 1 12 1-18 1 6 1 9 1-8 1-9 1 3 1 14 1-9 1-6 1 8 1-13 1 15 1-10 1 4 1-5 1 14 1-18 1 18 1-6 1-13 1 0 1 2 1 5 1 13 1-4 1-13 1 5 1-11 1 7 1 9 1-2 1-1 1-14 1 12 1 1 1 1 1 6 1-14 1-2 1 5 1 4 1 5 1-3 1-13 1 4 1 9 1-9 1 1 1-10 1 12 1-8 1 18 1-21 1-1 1 11 1 11 1-30 1 10 1-1 1-11 1 23 1-19 1 24 1-15 1 8 1-12 1 7 1 13 1-7 1-4 1 11 1-26 1 6 1 9 1 3 1 5 1-10 1 4 1 9 1-7 1-8 1 15 1-8 1 6 1 0 1-3 1-9 1 8 1-12 1 13 1-3 1-5 1 3 1-3 1-8 1 11 1 1 1-24 1 15 1 18 1-16 1-6 1 18 1-7 1-12 1 4 1 9 1 3 1-3 1-2 1-5 1 5 1-8 1 6 1-7 1 4 1-3 1 21 1-10 1-7 1 9 1-8 1 9 1-4 1-14 1 23 1-16 1 17 1-26 1 13 1 6 1-1 1-9 1-11 1 24 1-12 1-8 1 16 1-9 1 10 1-15 1 4 1 15 1-7 1-5 1 11 1-5 1-12 1 3 1 14 1-10 1 6 1-4 1 9 1-5 1 0 1 1 1-11 1 15 1-8 1-5 1-10 1 9 1 7 1-12 1 7 1-2 1-4 1-2 1 8 1 12 1-8 1-19 1-3 1 23 1-4 1 0 1 3 1 6 1-12 1 7 1 7 1-17 1-6 1 25 1-3 1-5 1-1 1-3 1 13 1-8 1-5 1 1 1-7 1-1 1 2 1 12 1 1 1 4 1-18 1 1 1 7 1-6 1 9 1-8 1 2 1 14 1-8 1 5 1-24 1 17 1-1 1 13 1-5 1-8 1-4 1-3 1 16 1-1 1 0 1-6 1-4 1 6 1-2 1-7 1 15 1-8 1-6 1 11 1 8 1-10 1-11 1 21 1-18 1-3 1 20 1-12 1-5 1-5 1 18 1-27 1 26 1-17 1 13 1-14 1 15 1-16 1 14 1-1 1 5 1 2 1-8 1 0 1 9 1-6 1 3 1-7 1 11 1-10 1-9 1-2 1 18 1-17 1 11 1-1 1 7 1-10 1-5 1 0 1-1 1 9 1-10 1 8 1-5 1-12 1 23 1 1 1-1 1-9 1 2 1 5 1-11 1 6 1-7 1 0 1 7 1 5 1-10 1 4 1 10 1-15 1 9 1-5 1-4 1 2 1-10 1 11 1 0 1-12 1 3 1-3 1 1 1 12 1-2 1-8 1 4 1-5 1 13 1 0 1 7 1-6 1 5 1-2 1-5 1-1 1-16 1 9 1 10 1-4 1-6 1 16 1-9 1-7 1 2 1-1 1 4 1 8 1-1 1-6 1-2 1 9 1-3 1-5 1 10 1 9 1-1 1-2 1-8 1-4 1 13 1-7 1-8 1 14 1 4 1-12 1 11 1-1 1-11 1-4 1 0 1 11 1 0 1-9 1 20 1-17 1 12 1-8 1 1 1 8 1 3 1-21 1 15 1-2 1-11 1 4 1-5 1 2 1 14 1-18 1-6 1 18 1-6 1 3 1-1 1 2 1-13 1 12 1-9 1 8 1-8 1 10 1 0 1-5 1-18 1 12 1-1 1-4 1-3 1 3 1 5 1-9 1 13 1-10 1 7 1-9 1 8 1 1 1-9 1-2 1 21 1 0 1-2 1-8 1 5 1-14 1 7 1 6 1-15 1 19 1-1 1-11 1-5 1 13 1-17 1 20 1-4 1 7 1-18 1 9 1 2 1 6 1 1 1-17 1 9 1 3 1-2 1-11 1 17 1-1 1-5 1-8 1 1 1-3 1 12 1 3 1-1 1-3 1-2 1 6 1-3 1 0 1-10 1 11 1-13 1 14 1 1 1-7 1 7 1 1 1-1 1 1 1-13 1 9 1-9 1 9 1-4 1-1 1-4 1 15 1-15 1 1 1 15 1-1 1-3 1-16 1 14 1-8 1-1 1-3 1-5 1 3 1 2 1-6 1 8 1 2 1 10 1-18 1 11 1-10 1 1 1 14 1-9 1 6 1 3 1-9 1 7 1 1 1-11 1-7 1 8 1-4 1 13 1 2 1-25 1 14 1-5 1 5 1-13 1 10 1-5 1 7 1-8 1 8 1 11 1-1 1-8 1-9 1 16 1-6 1-8 1 10 1 3 1-10 1 9 1-9 1 10 1-4 1 6 1-13 1 11 1-10 1 4 1 9 1-4 1 3 1-5 1 1 1 7 1-15 1 13 1-4 1 6 1 2 1-15 1 14 1-15 1-2 1 19 1-17 1 3 1 13 1-11 1 3 1-5 1 5 1 0 1 10" stroke="#77AC30"/>
</g></g>
<rect x="10.50" y="25.50" width="316.00" height="88.00" fill="none" stroke="#7c7c7c" stroke-width="1.00"/>
<path d="M10.50 113.50h4M326.50 113.50h-4M10.50 100.50h4M326.50 100.50h-4M10.50 87.50h4M326.50 87.50h-4M10.50 75.50h4M326.50 75.50h-4M10.50 62.50h4M326.50 62.50h-4M10.50 50.50h4M326.50 50.50h-4M10.50 37.50h4M326.50 37.50h-4M10.50 25.50h4M326.50 25.50h-4M10.50 113.50v-4M10.50 25.50v4M63.50 113.50v-4M63.50 25.50v4M115.50 113.50v-4M115.50 25.50v4M168.50 113.50v-4M168.50 25.50v4M221.50 113.50v-4M221.50 25.50v4M273.50 113.50v-4M273.50 25.50v4M326.50 113.50v-4M326.50 25.50v4" stroke="#7c7c7c" stroke-width="1.00" fill="none"/>
<text x="8.80" y="115.00" font-size="5.6" style="stroke-width:1.00px;stroke:#c4c4c4" text-anchor="end" textLength="9.0" lengthAdjust="spacingAndGlyphs">-100</text>
<text x="8.80" y="102.43" font-size="5.6" style="stroke-width:1.00px;stroke:#c4c4c4" text-anchor="end" textLength="2.6" lengthAdjust="spacingAndGlyphs">0</text>
<text x="8.80" y="89.86" font-size="5.6" style="stroke-width:1.00px;stroke:#c4c4c4" text-anchor="end" textLength="7.3" lengthAdjust="spacingAndGlyphs">100</text>
<text x="8.80" y="77.29" font-size="5.6" style="stroke-width:1.00px;stroke:#c4c4c4" text-anchor="end" textLength="7.3" lengthAdjust="spacingAndGlyphs">200</text>
<text x="8.80" y="64.71" font-size="5.6" style="stroke-width:1.00px;stroke:#c4c4c4" text-anchor="end" textLength="7.3" lengthAdjust="spacingAndGlyphs">300</text>
<text x="8.80" y="52.14" font-size="5.6" style="stroke-width:1.00px;stroke:#c4c4c4" text-anchor="end" textLength="7.3" lengthAdjust="spacingAndGlyphs">400</text>
<text x="8.80" y="39.57" font-size="5.6" style="stroke-width:1.00px;stroke:#c4c4c4" text-anchor="end" textLength="7.3" lengthAdjust="spacingAndGlyphs">500</text>
<text x="8.80" y="27.00" font-size="5.6" style="stroke-width:1.00px;stroke:#c4c4c4" text-anchor="end" textLength="7.3" lengthAdjust="spacingAndGlyphs">600</text>
<text x="10.30" y="121.10" font-size="5.8" style="stroke-width:1.00px;stroke:#c4c4c4" text-anchor="middle" textLength="3.0" lengthAdjust="spacingAndGlyphs">0</text>
<text x="63.02" y="121.10" font-size="5.8" style="stroke-width:1.00px;stroke:#c4c4c4" text-anchor="middle" textLength="9.3" lengthAdjust="spacingAndGlyphs">200</text>
<text x="115.73" y="121.10" font-size="5.8" style="stroke-width:1.00px;stroke:#c4c4c4" text-anchor="middle" textLength="9.3" lengthAdjust="spacingAndGlyphs">400</text>
<text x="168.45" y="121.10" font-size="5.8" style="stroke-width:1.00px;stroke:#c4c4c4" text-anchor="middle" textLength="9.3" lengthAdjust="spacingAndGlyphs">600</text>
<text x="221.17" y="121.10" font-size="5.8" style="stroke-width:1.00px;stroke:#c4c4c4" text-anchor="middle" textLength="9.3" lengthAdjust="spacingAndGlyphs">800</text>
<text x="273.88" y="121.10" font-size="5.8" style="stroke-width:1.00px;stroke:#c4c4c4" text-anchor="middle" textLength="12.4" lengthAdjust="spacingAndGlyphs">1000</text>
<text x="326.60" y="121.10" font-size="5.8" style="stroke-width:1.00px;stroke:#c4c4c4" text-anchor="middle" textLength="12.4" lengthAdjust="spacingAndGlyphs">1200</text>
<rect x="252.70" y="29.50" width="70.80" height="39.70" fill="#fff" stroke="#ffffff" stroke-width="0.10"/>
<rect x="252.50" y="29.50" width="71.00" height="40.00" fill="none" stroke="#7c7c7c" stroke-width="1.00"/>
<path d="M254.00 34.00h18.2" stroke="#0072BD" stroke-width="2" stroke-opacity="0.62"/>
<text x="273.30" y="36.30" font-size="6.0" textLength="26.1" lengthAdjust="spacingAndGlyphs">PQWGAN</text>
<path d="M254.00 42.00h18.2" stroke="#D95319" stroke-width="2" stroke-opacity="0.62"/>
<text x="273.30" y="44.10" font-size="6.0" textLength="42.6" lengthAdjust="spacingAndGlyphs">WGAN-GP-Lite</text>
<path d="M254.00 50.00h18.2" stroke="#EDB120" stroke-width="2" stroke-opacity="0.62"/>
<text x="273.30" y="51.90" font-size="6.0" textLength="38.3" lengthAdjust="spacingAndGlyphs">WGAN-GP-Big</text>
<path d="M254.00 58.00h18.2" stroke="#7E2F8E" stroke-width="2" stroke-opacity="0.62"/>
<text x="273.30" y="59.70" font-size="6.0" textLength="47.4" lengthAdjust="spacingAndGlyphs">QuantumPatchGAN</text>
<path d="M254.00 65.00h18.2" stroke="#77AC30" stroke-width="2" stroke-opacity="0.62"/>
<text x="273.30" y="67.50" font-size="6.0" textLength="33.3" lengthAdjust="spacingAndGlyphs">QINN-QGAN</text>
<clipPath id="c1"><rect x="362.10" y="25.00" width="316.30" height="88.00"/></clipPath>
<text x="520.25" y="21.10" font-size="9.40" font-weight="normal" text-anchor="middle">Number 1 Wasserstein Distance</text>
<g clip-path="url(#c1)">
<path d="M362.10 100.50H678.40" stroke="#FF00FF" stroke-width="1.5" stroke-opacity="0.55" fill="none"/>
<g transform="matrix(0.263583 0 0 -0.125714 362.100 100.429)">
<path class="c" d="M0 0l1 9 1 8 1-5 1 28 1 6 1 7 1 21 1 12 1-16 1 11 1 15 1 29 1 4 1-30 1 11 1 42 1 23 1-25 1-6 1 42 1-26 1 23 1 18 1-16 1-9 1 16 1-26 1 12 1-5 1 11 1-3 1 8 1-1 1 13 1 2 1 4 1 22 1-63 1 58 1-33 1-22 1 21 1 4 1 19 1-48 1 25 1-4 1-41 1 9 1 37 1 0 1 6 1-14 1-5 1-8 1 21 1-45 1 13 1 8 1-39 1 53 1-39 1 12 1 37 1-51 1 5 1 33 1-43 1 9 1 14 1-1 1 1 1-4 1 14 1-7 1-7 1-20 1-2 1-19 1 37 1-37 1 38 1 13 1-43 1 4 1 0 1 17 1-25 1 8 1-6 1 2 1 19 1-31 1 13 1 1 1 7 1-28 1 29 1-8 1 5 1-9 1-20 1 12 1 18 1-9 1-1 1 23 1 5 1-25 1 23 1-45 1 0 1 35 1-12 1 10 1 0 1-7 1 9 1-6 1-20 1 19 1 0 1 18 1-34 1 12 1-6 1 3 1 18 1-15 1-11 1 5 1 5 1-20 1 7 1 18 1-8 1-11 1-6 1 2 1-16 1 24 1-7 1-4 1-15 1 6 1 11 1-2 1-8 1 10 1 4 1-15 1 1 1-3 1-3 1 20 1-2 1-2 1-14 1 2 1 9 1-3 1 6 1-8 1 14 1 12 1-2 1 0 1-15 1 8 1-12 1 12 1-13 1-1 1-2 1 13 1-5 1-1 1-13 1 13 1-16 1 29 1-16 1 3 1-4 1-15 1 2 1 14 1 15 1-27 1 5 1 6 1-16 1 0 1 13 1 4 1-3 1 20 1-17 1 6 1 13 1 1 1-32 1 12 1 16 1-25 1 5 1-4 1 0 1 2 1 13 1 11 1 2 1-15 1-20 1 19 1-3 1 7 1-5 1-17 1 21 1-25 1 13 1 9 1 0 1 11 1-40 1 26 1 3 1-11 1 9 1-19 1 18 1-2 1-16 1 3 1 5 1-5 1 16 1-8 1 11 1-2 1-11 1-3 1-8 1 2 1 0 1 12 1-13 1 10 1 1 1-7 1 4 1 16 1 2 1-24 1 6 1-1 1 1 1 18 1-8 1 5 1 5 1-23 1 3 1 2 1 10 1-11 1 8 1 6 1 0 1-8 1-12 1-7 1 27 1-6 1-14 1 5 1 0 1-12 1 20 1-10 1 5 1 11 1-9 1 8 1-1 1-4 1 1 1 18 1-20 1 18 1-26 1 17 1-5 1-9 1-17 1 40 1-28 1 2 1 11 1-1 1 2 1-6 1-13 1 24 1-18 1 12 1 3 1 6 1-14 1-1 1 1 1-17 1 11 1-3 1-2 1 14 1-6 1 20 1-1 1-35 1 20 1-11 1 16 1-5 1 8 1-7 1 5 1-11 1-22 1 12 1 3 1 4 1-6 1 27 1-20 1 15 1-17 1 20 1-29 1 18 1-20 1 18 1 12 1-33 1 8 1 11 1-4 1-12 1 26 1-11 1 13 1-10 1-14 1 7 1 19 1-28 1 10 1 11 1 5 1-2 1-23 1 37 1-23 1 3 1 0 1-3 1-7 1 7 1 17 1-28 1-10 1 29 1-2 1 4 1 10 1-25 1 9 1 3 1 7 1-2 1-20 1-6 1 11 1-14 1 28 1-16 1 0 1-6 1 25 1-14 1-7 1 10 1-7 1 7 1 7 1-17 1 8 1 0 1 6 1-6 1-6 1-7 1 10 1-14 1 17 1-6 1 5 1-11 1-3 1-1 1 20 1-14 1 0 1-16 1 18 1-24 1 38 1-16 1 3 1-15 1 4 1 18 1-9 1 7 1 9 1-6 1-27 1 10 1-1 1 2 1-11 1 0 1 14 1 2 1 13 1-9 1 19 1-35 1 5 1 18 1-6 1-7 1 19 1 3 1 3 1-18 1 4 1 3 1-2 1 10 1-16 1 9 1-27 1 32 1 9 1-17 1 11 1-28 1 14 1-12 1 20 1 2 1-19 1 5 1 2 1 32 1-26 1 2 1 3 1 0 1-6 1-11 1 7 1 25 1-14 1-6 1-11 1 14 1 1 1-6 1 16 1-15 1 5 1 10 1-5 1 9 1-14 1-1 1 10 1-2 1 10 1-7 1-4 1 5 1 3 1-18 1 11 1-1 1 16 1-17 1 16 1-25 1 13 1 12 1-15 1 15 1-35 1 22 1 0 1-4 1-16 1 22 1-33 1 34 1-8 1 6 1-15 1-11 1 5 1-1 1 9 1-11 1 6 1 0 1 8 1-37 1 16 1 11 1-1 1-14 1 3 1 1 1 3 1-7 1 0 1-5 1 8 1 19 1-24 1 21 1 12 1-18 1 24 1-26 1 21 1-18 1-11 1 17 1 17 1-25 1 12 1-15 1 2 1 15 1-6 1 8 1 8 1-26 1 5 1 9 1 24 1-28 1-2 1 10 1 18 1-29 1 2 1 4 1 7 1 16 1-37 1-5 1 20 1 4 1-29 1 17 1 17 1-16 1 11 1-4 1 6 1-3 1-2 1 11 1-20 1 8 1 11 1-18 1 2 1-5 1-2 1 32 1-16 1 15 1-13 1-7 1-4 1 6 1-4 1 10 1-20 1 11 1 2 1-7 1 0 1 8 1-1 1-8 1 1 1-6 1 12 1-8 1-16 1 14 1 10 1-3 1-14 1 18 1-1 1 0 1 10 1-20 1 10 1-9 1 14 1 2 1-6 1 3 1-17 1 16 1-20 1 37 1-11 1-29 1-9 1 40 1-23 1 15 1-20 1 14 1-8 1 14 1-11 1 20 1-24 1 22 1-15 1 6 1-23 1-2 1 31 1-25 1 9 1 0 1-6 1 12 1-17 1 2 1 24 1-19 1 18 1 0 1 10 1-11 1-24 1 14 1 3 1 18 1-9 1-8 1 11 1-8 1 10 1-3 1 10 1-8 1 8 1-11 1 8 1-10 1 9 1-5 1-4 1-4 1 2 1 7 1-31 1 39 1-41 1 24 1-2 1 10 1-6 1-3 1 0 1 9 1 14 1-22 1-27 1 18 1 9 1 21 1-34 1 4 1 10 1-3 1-18 1 25 1-25 1 11 1 18 1-29 1 11 1 22 1-21 1-8 1 6 1 16 1-27 1 11 1-9 1 4 1 27 1-15 1-4 1 10 1-13 1-5 1 26 1-3 1-19 1 18 1 8 1-11 1 1 1-20 1 13 1-20 1 34 1-15 1 17 1-23 1 19 1-28 1 14 1 11 1-2 1-5 1-17 1 33 1-8 1 6 1 0 1-16 1 9 1 22 1-36 1 15 1-11 1 27 1-18 1-14 1 5 1-9 1-10 1 0 1 19 1-5 1 14 1-11 1 12 1 17 1-33 1-1 1 25 1 15 1-36 1-10 1 16 1-2 1 13 1-21 1 8 1 0 1-15 1 0 1 23 1 1 1-16 1 27 1-8 1-5 1 2 1-3 1 5 1 1 1-9 1-24 1 22 1-7 1-4 1 21 1-27 1 30 1-17 1-6 1 4 1 37 1-10 1-19 1 15 1 9 1-30 1 7 1 14 1-6 1-9 1 23 1-13 1 3 1 18 1-21 1 21 1-24 1-5 1 3 1 9 1-3 1-3 1-21 1 5 1 10 1 11 1 9 1-43 1 24 1-3 1 4 1 4 1-12 1-5 1 27 1-3 1-14 1 4 1-7 1-8 1 24 1-15 1-6 1 6 1 26 1-15 1-2 1-2 1 9 1-2 1-24 1 11 1-5 1 10 1-4 1-22 1 36 1-10 1-24 1 33 1-11 1 4 1-5 1 1 1-7 1-13 1 13 1 9 1-2 1 8 1-8 1-25 1 35 1-17 1-6 1 12 1-12 1 21 1-15 1 34 1-26 1-3 1-1 1-18 1 15 1 1 1 5 1-23 1 26 1 14 1-20 1 4 1 5 1-14 1 3 1 16 1-9 1-17 1-7 1 48 1-22 1-24 1 20 1 7 1-7 1-23 1 43 1-14 1-9 1 11 1-11 1-1 1 15 1-33 1 35 1-7 1 5 1 2 1 7 1-1 1-7 1-15 1 12 1-14 1-6 1 16 1-2 1 9 1-40 1 32 1 0 1-8 1 15 1-28 1 14 1-9 1 3 1-12 1 10 1 8 1-6 1 2 1-13 1 28 1-27 1 9 1 7 1-8 1 11 1-5 1 19 1-13 1-2 1-12 1 15 1 8 1-6 1-15 1 5 1 5 1 4 1-16 1 39 1-23 1 3 1-6 1 5 1 24 1-34 1 5 1-6 1 6 1 25 1-26 1 3 1-17 1 17 1 7 1-8 1 1 1 14 1-3 1-8 1-8 1-8 1 37 1-38 1 26 1-9 1-7 1 19 1-18 1 23 1-27 1 18 1 10 1-26 1 36 1-15 1-35 1 42 1 6 1-26 1 1 1 7 1-27 1 23 1 10 1-18 1 19 1 13 1-50 1 3 1 13 1 15 1-3 1-16 1-2 1 4 1 28 1-31 1 4 1 17 1-15 1-8 1 28 1-13 1-13 1 3 1 16 1-16 1 8 1 6 1 1 1-33 1 15 1 2 1 5 1 7 1 5 1-19 1-8 1 15 1-10 1 28 1-16 1-3 1 11 1-20 1 4 1 3 1 10 1 8 1-5 1 1 1-12 1 8 1-7 1 18 1-21 1 7 1 4 1 7 1-17 1 7 1-7 1-5 1 29 1-7 1-22 1 7 1 18 1-13 1-5 1 28 1-21 1 2 1 12 1-16 1 9 1 2 1 7 1-18 1 21 1-9 1 17 1-18 1-9 1 0 1-7 1 13 1-1 1 11 1-10 1-11 1 22 1-17 1 7 1 15 1-2 1-25 1 8 1 17 1-5 1-5 1 4 1-37 1 22 1-13 1 9 1 3 1 10 1 8 1-5 1-6 1-9 1 20 1-13 1-25 1 20 1 7 1-18 1 13 1 16 1-22 1 2 1 0 1-12 1 6 1-7 1 9 1-7 1 22 1-13 1 11 1-26 1 15 1 7 1 2 1-15 1 6 1 3 1-6 1 0 1 11 1-20 1-7 1 16 1 10 1-30 1 44 1-14 1 6 1-17 1 11 1 23 1 0 1-14 1-11 1 3 1 17 1-24 1-2 1 10 1 13 1-24 1 18 1 1 1-3 1-3 1 13 1-4 1-24 1 37 1-14 1-1 1-8 1 0 1-24 1 25 1 10 1 0 1-16 1-18 1 12 1 10 1 19 1-36 1 20 1 7 1 0 1-9" stroke="#0072BD"/>
<path class="c" d="M0 0l1 8 1 13 1 3 1 18 1 1 1 16 1 10 1 6 1 27 1-6 1 16 1 14 1-5 1 27 1 0 1 17 1-6 1 8 1 26 1 3 1 5 1 13 1 8 1-7 1-2 1 13 1 7 1 4 1 25 1 9 1 11 1 8 1-1 1 7 1 9 1-7 1 9 1 14 1-3 1 7 1 3 1 15 1-14 1-11 1-5 1 3 1 10 1-78 1 17 1-24 1-11 1-46 1 23 1-35 1-24 1-7 1-21 1 0 1-12 1 4 1-18 1-16 1 1 1-6 1-8 1-26 1 29 1-32 1-1 1 7 1 13 1 16 1-31 1 42 1 7 1-19 1 9 1 1 1 5 1-3 1-11 1 10 1-2 1 9 1-36 1-18 1 15 1-13 1 4 1-12 1-13 1 1 1 9 1-9 1-16 1 13 1-26 1 4 1 6 1-14 1 2 1 9 1-1 1-2 1-3 1-5 1 3 1 25 1-25 1 17 1-18 1 15 1-2 1-7 1-9 1-7 1 18 1-19 1 0 1 22 1-1 1-13 1-3 1-4 1 8 1-6 1-9 1 6 1 8 1-15 1 5 1 8 1 13 1-12 1 0 1 15 1-23 1 3 1 12 1 2 1-4 1-22 1 24 1 0 1-5 1 5 1 6 1-10 1-8 1-7 1 15 1-6 1 1 1-5 1 11 1 3 1-2 1-13 1 16 1-5 1-21 1 22 1-21 1 7 1 16 1-3 1-11 1-2 1 9 1-17 1 17 1-5 1 7 1-7 1-8 1 10 1-4 1-9 1 2 1 2 1 8 1 5 1-6 1-9 1 6 1 8 1 3 1-15 1 10 1-5 1-14 1 7 1 6 1 0 1 2 1-2 1 8 1-11 1-4 1 16 1-9 1 11 1-11 1 15 1-18 1 1 1 14 1 8 1-18 1 17 1 0 1-5 1-6 1-14 1 5 1 5 1 10 1-4 1-3 1 6 1-13 1 15 1-9 1 17 1-9 1-6 1 1 1-7 1 13 1-9 1 6 1 9 1-6 1 1 1 13 1-12 1 3 1-10 1-7 1 10 1-10 1-10 1 21 1-3 1-10 1 16 1-10 1-2 1-4 1 15 1-12 1-1 1 0 1-2 1-7 1 7 1-1 1 11 1-14 1 14 1-8 1-3 1 5 1 1 1 0 1 4 1-3 1-12 1 5 1 16 1-12 1-15 1 17 1 10 1-4 1-7 1 0 1 3 1-5 1-3 1 15 1-14 1 9 1-18 1 6 1-3 1 11 1-7 1 0 1-2 1 8 1 6 1-10 1 8 1-4 1-4 1 7 1 7 1-24 1 21 1 8 1-12 1 6 1 2 1-3 1-1 1 8 1-1 1-6 1 4 1-10 1 5 1 2 1-1 1-4 1 14 1-6 1 3 1-14 1 6 1-1 1 4 1 13 1 4 1-14 1 1 1-4 1-2 1 9 1-9 1-2 1 13 1-4 1 5 1 1 1 6 1-1 1 4 1-6 1 2 1 4 1 1 1 3 1 0 1 14 1-15 1 6 1-2 1 10 1-14 1-2 1 18 1-2 1-3 1-5 1 15 1-4 1-6 1 2 1 0 1 15 1-10 1-6 1 4 1 12 1-4 1-8 1-3 1 5 1 7 1-5 1 0 1 4 1-3 1-3 1-1 1 4 1 2 1 8 1-1 1-6 1 15 1-16 1 16 1-14 1 7 1 9 1 1 1-11 1 8 1-8 1 7 1 5 1-6 1 15 1-6 1 2 1-7 1 4 1 4 1 4 1 0 1-7 1-2 1-4 1 23 1-8 1 1 1-13 1 14 1-12 1-3 1-7 1-8 1 13 1-6 1-2 1-11 1-7 1 5 1 12 1 6 1-21 1 1 1-11 1 2 1 8 1-10 1 4 1 7 1-12 1-9 1 19 1-10 1-4 1-1 1-5 1 5 1-16 1 9 1-9 1 7 1 4 1-7 1 13 1-14 1-6 1 7 1-1 1 1 1-2 1-1 1 7 1-19 1 17 1-9 1 3 1-6 1 16 1-25 1 6 1 6 1 8 1-15 1 13 1 4 1-16 1-10 1 22 1-6 1-1 1 9 1-3 1-11 1 5 1-9 1 10 1-5 1 4 1-9 1 6 1 0 1 2 1-4 1-16 1 18 1-13 1 16 1-8 1-1 1-5 1 18 1-18 1 15 1 2 1 6 1-8 1-11 1-7 1 2 1-6 1 22 1-8 1-11 1 14 1-5 1 7 1-6 1-11 1 10 1 5 1-5 1 0 1-11 1 5 1 5 1 5 1-10 1 1 1 18 1-23 1 6 1-5 1 7 1 7 1 0 1-3 1 6 1-9 1 5 1-12 1 15 1-12 1 15 1-18 1 11 1 0 1 1 1-3 1 13 1-9 1-12 1 5 1 13 1-16 1 21 1-16 1-11 1 21 1-14 1-10 1 18 1-10 1 11 1 4 1 1 1-8 1-10 1 22 1-10 1-1 1-12 1 7 1 6 1-2 1 3 1-9 1-5 1 16 1-3 1 10 1 2 1-12 1-1 1 13 1-3 1-13 1 21 1-12 1-3 1-9 1 8 1 7 1-1 1 8 1-4 1-15 1 6 1-1 1-3 1 0 1-2 1 0 1 6 1 3 1 6 1-17 1 2 1-14 1 16 1 3 1-6 1 4 1-7 1 0 1-6 1 3 1-7 1 24 1-3 1-6 1-2 1 13 1-8 1-10 1 6 1 2 1 0 1 0 1-16 1 7 1-10 1 18 1-6 1-7 1 27 1-7 1-15 1 11 1-11 1 12 1-2 1-10 1 9 1 9 1-7 1-17 1 13 1 2 1-4 1 7 1-14 1-13 1 32 1-21 1 8 1-12 1 20 1-15 1 10 1-1 1 13 1 4 1-9 1 3 1-5 1 0 1-8 1 12 1-21 1 24 1-6 1 0 1 10 1-24 1 8 1 13 1-7 1 8 1-6 1-7 1 14 1-2 1 3 1 0 1 13 1-24 1 3 1 16 1-19 1 8 1 9 1-6 1 1 1-5 1-15 1 22 1 1 1-4 1-8 1 5 1 4 1-9 1-2 1-5 1 13 1-14 1 6 1 14 1-28 1 11 1 14 1-10 1 12 1-20 1 3 1 18 1-18 1 9 1-2 1 14 1-20 1 10 1 8 1 3 1-8 1 6 1-12 1 23 1-12 1 3 1 10 1-13 1-1 1 6 1 6 1-23 1-2 1 19 1-7 1 3 1 17 1-19 1 0 1 12 1-19 1 8 1-3 1 3 1 0 1-12 1 5 1-1 1-7 1 15 1-10 1-5 1-5 1 9 1-6 1 12 1 5 1-13 1-3 1 2 1 10 1-13 1 11 1-11 1-15 1 34 1-6 1-10 1 3 1 0 1 14 1-18 1 5 1-5 1-3 1 10 1 0 1-8 1 25 1-41 1 34 1-22 1 4 1 13 1 4 1 4 1-24 1 32 1-26 1 12 1 9 1-10 1-1 1 9 1-6 1-10 1 21 1 0 1-4 1-1 1 7 1-1 1 3 1-7 1-21 1 24 1-1 1 2 1 6 1-27 1-10 1 31 1-3 1-7 1-12 1 26 1-20 1 22 1-17 1 6 1-33 1 27 1-13 1-6 1 9 1 22 1-27 1-12 1 26 1-20 1 7 1 15 1-6 1-5 1 4 1-12 1-11 1 10 1-4 1 4 1-1 1 5 1 4 1-14 1 3 1 6 1 8 1-14 1-15 1 27 1-21 1 9 1-1 1 11 1-22 1 30 1-15 1 15 1-12 1 24 1-19 1-4 1-2 1-15 1 39 1-29 1 16 1 7 1 0 1-7 1-5 1 13 1-6 1-14 1 7 1 16 1 3 1-30 1 26 1-5 1 12 1-7 1-2 1 13 1 2 1 1 1-11 1 6 1 13 1-18 1-5 1 11 1-13 1 18 1-16 1 5 1 14 1-20 1 6 1 7 1-1 1-17 1 22 1-11 1 3 1 5 1 0 1-6 1 5 1-6 1-16 1-1 1 3 1 0 1 4 1-18 1 21 1 5 1 0 1-7 1-11 1 31 1-28 1 2 1 5 1-14 1 0 1 13 1 10 1-14 1 7 1 1 1-3 1-10 1 23 1-17 1-6 1-2 1 20 1-6 1-10 1 16 1 2 1-12 1-12 1 15 1 0 1-12 1 32 1-23 1-2 1-11 1 26 1-11 1 1 1 1 1 7 1-3 1-13 1 8 1-8 1 17 1-4 1 11 1-4 1 3 1-25 1 10 1-4 1-3 1 8 1 17 1-2 1 16 1-18 1-1 1-8 1 3 1-4 1-5 1-6 1 14 1 11 1-23 1 1 1 18 1-4 1-23 1 14 1-21 1 26 1 5 1-21 1 15 1-4 1 18 1-22 1 11 1-4 1 7 1 14 1-11 1 12 1-32 1 32 1-1 1-17 1 14 1-1 1-29 1 15 1 17 1-7 1-4 1-15 1 19 1 0 1-5 1-12 1-5 1 9 1 6 1-16 1 6 1 10 1 11 1-9 1-30 1 17 1-1 1-12 1 21 1 2 1-22 1 10 1 1 1 23 1-11 1 7 1-37 1 22 1-7 1 2 1 1 1-2 1 3 1 13 1-3 1 9 1-9 1-1 1-5 1-5 1 12 1-14 1 3 1-7 1 2 1 29 1-27 1 12 1 4 1-6 1-10 1 4 1 5 1-8 1-10 1 13 1 16 1-9 1 14 1-12 1-7 1-13 1 34 1-27 1 6 1-2 1 11 1-15 1-13 1-1 1 7 1 18 1 4 1-4 1-14 1 11 1-6 1-9 1-3 1 12 1 10 1 0 1 0 1-16 1 18 1-23 1 13 1 7 1-17 1 0 1 27 1-19 1 1 1 44 1-35 1-18 1 14 1 1 1 8 1 4 1-33 1 17 1 17 1-16 1-1 1-7 1 18 1-19 1 6 1-2 1 20 1-35 1-3 1 8 1 19 1-9 1-3 1-2 1-12 1 8 1-8 1-5 1 12 1 19 1-4 1 0 1 19 1-45 1 24 1-9 1-5 1 9 1 21 1 6 1-22 1-9 1-4 1-1 1 10 1-9 1 15 1-32 1 40 1-5 1 15 1-6 1-10 1 24 1-35 1 2 1 2 1 12 1 3 1-30 1 21 1 6 1-25 1 38 1-40 1 20 1 9 1-11 1-1 1 15 1-11 1-1 1 38 1-34 1-2 1 7 1-6 1 2 1-5 1-1 1 0 1-8 1 9 1 26 1-34 1 5 1 34 1-37 1-1 1 9 1-3 1 14 1-2 1-4 1 3 1-2 1 2 1 1" stroke="#D95319"/>
<path class="c" d="M0 0l1 12 1 7 1 11 1 13 1 6 1 13 1 8 1 13 1-4 1 11 1 6 1 20 1 4 1 17 1 6 1 7 1 24 1-3 1 4 1 1 1 26 1 7 1-10 1 17 1 13 1-10 1 22 1 26 1-24 1 32 1 20 1-24 1 7 1 12 1 8 1 3 1-18 1 13 1 15 1-8 1 14 1-21 1-4 1 24 1-27 1-14 1-4 1-19 1-4 1-19 1-26 1-17 1-18 1 9 1-7 1-44 1-7 1-19 1-22 1-10 1-10 1-29 1 5 1 6 1-4 1-24 1-12 1 3 1 12 1-42 1-3 1-1 1 6 1-21 1 10 1-17 1 12 1-13 1-5 1 11 1-25 1 2 1 24 1 8 1 3 1-17 1 38 1 4 1-5 1-14 1 27 1 10 1-11 1 9 1-18 1 9 1-7 1-3 1 6 1-5 1 1 1-1 1 3 1 0 1 3 1-11 1 12 1-18 1 15 1 0 1-20 1 15 1 12 1-5 1-8 1-1 1 7 1-1 1 5 1-5 1 6 1-4 1-9 1-2 1 4 1 8 1-10 1 14 1-19 1 11 1-5 1 10 1-1 1-2 1-8 1 3 1 2 1 13 1-13 1 10 1 4 1-14 1 3 1-13 1 14 1 10 1-13 1 11 1 4 1-3 1-6 1 6 1-6 1 2 1 22 1-22 1-1 1 7 1 1 1 3 1-11 1-2 1 1 1 13 1 2 1-14 1 2 1 4 1-8 1 4 1 11 1-18 1 12 1 6 1-18 1 16 1-9 1-4 1 9 1-6 1-3 1-3 1-3 1 2 1 1 1 7 1-8 1 4 1-6 1 6 1-5 1 10 1-9 1-14 1 11 1-3 1 9 1-7 1 6 1-1 1-11 1 2 1 2 1-9 1 25 1-14 1-13 1-1 1 10 1-4 1-10 1-1 1 12 1-4 1 6 1-4 1 9 1-22 1 18 1-11 1-1 1 14 1-21 1 14 1-2 1 11 1-18 1 13 1 1 1-3 1 1 1-1 1-9 1 7 1-9 1 22 1 0 1-15 1 19 1-9 1-8 1 6 1 11 1-5 1-6 1 13 1-5 1-2 1-5 1 13 1 3 1-13 1 6 1 0 1 3 1-9 1 21 1-12 1 4 1-8 1 16 1-11 1-17 1 19 1-8 1-7 1 6 1-6 1 11 1-2 1-14 1 14 1 2 1-24 1 24 1-4 1 1 1 4 1-10 1-6 1 8 1-3 1 4 1-19 1 13 1 19 1-13 1 4 1-4 1-5 1 8 1-1 1-6 1 1 1 6 1-10 1 0 1 12 1 0 1-9 1 11 1-5 1-4 1-6 1 8 1-9 1 3 1-4 1 12 1-8 1-1 1 4 1 11 1-9 1-17 1 10 1 0 1-4 1-2 1 17 1-5 1 1 1-3 1 4 1-2 1-2 1-1 1-5 1 3 1 5 1-5 1 9 1-8 1 12 1-13 1 12 1 7 1-2 1-9 1 13 1-8 1 2 1-2 1-11 1 15 1-1 1 2 1-12 1 12 1-10 1-3 1 0 1 7 1-4 1 12 1-6 1 2 1-9 1-6 1-4 1 9 1 10 1-1 1-19 1 12 1 3 1-11 1 7 1-5 1 6 1 1 1-3 1 1 1-3 1 6 1-16 1 19 1 4 1-15 1 8 1 5 1-7 1 0 1 4 1 5 1-13 1 11 1 2 1-13 1 10 1 9 1-10 1-1 1 10 1-13 1 2 1 10 1 2 1-19 1 5 1 5 1 4 1-5 1-8 1 9 1-21 1 16 1 3 1 2 1-4 1-13 1 16 1-10 1 0 1 10 1-21 1 28 1-9 1 0 1-7 1 6 1-1 1-2 1-11 1 13 1-1 1 4 1-3 1 0 1-1 1-11 1-2 1 13 1-4 1 8 1-11 1 5 1 9 1-4 1-6 1 11 1-1 1-8 1 3 1 6 1-2 1 0 1-2 1-11 1 19 1 0 1-3 1-10 1 9 1 3 1-1 1 1 1-13 1 19 1 0 1 0 1 5 1-6 1 8 1-17 1 13 1-6 1 11 1-13 1 0 1-1 1 8 1-9 1 11 1-1 1-6 1 0 1-5 1 16 1-7 1-14 1 13 1-14 1 9 1 1 1-7 1-3 1 5 1 2 1-4 1 0 1-12 1 8 1-6 1 7 1-9 1 2 1-2 1 4 1 1 1 0 1 5 1-10 1 17 1-12 1-3 1 8 1-4 1 0 1 5 1-10 1 15 1-15 1 5 1 12 1 0 1-5 1-11 1 6 1-1 1 0 1 2 1 4 1 3 1-5 1-8 1 5 1 1 1 3 1-10 1 0 1-2 1-3 1 9 1-7 1 9 1-1 1-6 1 1 1-4 1 3 1-1 1 7 1-11 1 10 1-2 1-2 1-9 1 1 1 7 1 1 1-8 1 20 1-10 1-1 1 4 1-7 1-8 1 13 1-3 1 5 1 2 1-11 1 5 1 12 1 4 1-10 1 1 1 2 1 0 1 14 1-5 1-15 1 3 1 10 1-4 1 3 1-2 1-10 1-2 1-1 1 5 1 8 1-6 1 17 1-24 1 9 1 9 1 6 1-18 1 9 1 3 1-18 1 19 1-5 1-3 1 9 1-5 1-5 1 14 1-13 1 13 1-25 1 23 1-8 1 4 1-1 1 7 1-14 1 6 1-1 1 6 1-3 1 2 1 2 1-16 1 12 1 3 1 1 1 19 1-12 1 4 1-15 1 12 1 10 1-20 1-2 1-7 1 1 1 30 1-30 1 14 1 8 1-6 1 2 1-4 1 11 1-25 1 10 1 4 1-19 1 11 1 6 1 19 1-24 1 19 1-21 1 27 1-24 1 16 1 16 1-16 1 6 1-30 1 20 1 2 1-12 1 6 1-18 1 9 1-9 1-4 1 29 1-20 1 15 1 21 1-9 1-23 1 6 1-5 1 10 1 24 1 0 1-30 1-11 1 35 1-47 1 42 1-41 1 40 1-2 1-8 1-9 1 25 1 0 1-4 1 35 1-38 1-4 1 31 1 15 1-46 1 8 1-3 1 13 1 9 1-24 1 8 1-10 1 19 1-8 1 11 1-11 1 6 1-29 1 17 1 3 1 10 1-21 1 8 1 25 1-9 1-18 1 10 1-6 1 9 1-9 1-11 1 17 1-28 1 36 1 4 1-1 1-38 1 20 1 16 1-11 1 1 1-3 1 11 1-17 1-25 1 32 1 31 1-24 1-3 1 23 1-46 1-4 1 9 1 14 1 22 1-12 1-19 1 24 1-19 1 0 1-8 1-13 1 12 1-13 1-18 1 21 1 36 1-27 1-19 1 26 1 36 1-41 1 41 1-29 1-44 1 40 1 31 1-27 1-29 1 28 1 16 1-49 1 29 1 4 1 12 1-25 1-8 1 26 1-5 1-7 1-6 1 23 1-23 1 46 1-43 1 28 1-2 1-11 1-9 1 22 1-17 1-16 1 17 1 6 1-36 1 49 1-50 1 37 1-4 1-27 1 26 1-13 1 25 1-17 1 16 1 3 1 13 1-33 1 45 1-64 1 17 1 11 1-21 1-2 1 37 1-36 1 17 1 27 1 6 1-27 1 19 1 1 1-4 1-14 1-13 1-8 1 49 1-16 1-12 1 0 1 14 1 2 1-17 1-18 1 32 1-21 1-19 1 49 1 9 1-27 1-7 1-2 1-5 1-2 1-7 1 0 1 4 1 7 1 3 1 7 1-26 1 28 1-28 1 0 1 25 1-38 1 28 1-32 1 25 1 20 1 3 1-33 1 1 1 46 1-19 1 18 1-52 1 52 1-18 1-28 1 24 1 25 1-16 1-31 1-7 1 49 1-26 1-8 1 5 1-3 1-13 1 22 1 8 1-30 1 45 1-32 1 18 1 10 1 0 1 11 1-56 1-4 1 7 1 21 1 15 1-20 1 2 1 14 1-13 1 57 1-63 1 50 1 9 1-42 1-1 1 2 1-10 1 1 1-12 1 30 1 10 1-30 1 29 1-24 1 5 1 6 1-8 1 36 1-6 1 0 1-10 1-38 1 13 1 31 1 10 1-47 1 36 1-41 1 11 1 2 1 39 1-15 1-14 1 4 1-31 1-8 1 60 1 14 1-23 1-26 1 63 1-89 1 59 1-33 1 30 1-19 1 25 1-18 1-18 1-10 1 30 1-11 1-3 1-40 1 68 1-38 1 55 1 0 1-24 1-24 1 8 1-37 1 9 1 27 1-19 1 0 1 22 1-31 1 0 1 3 1 102 1-96 1 4 1 26 1-33 1 18 1-46 1 27 1 72 1-78 1 22 1-15 1 18 1 48 1-63 1 19 1-32 1 20 1-2 1-29 1 57 1-3 1-22 1 6 1 12 1-34 1 17 1 24 1-26 1-9 1 2 1 0 1 0 1-1 1-25 1 34 1 3 1 69 1-89 1 85 1-58 1 16 1-16 1 14 1-7 1-12 1 14 1-21 1 42 1-27 1 25 1-18 1 8 1-27 1 38 1-65 1 22 1 75 1-41 1-14 1 46 1-48 1-2 1-17 1 28 1-22 1-23 1 98 1-74 1 24 1 21 1-19 1-9 1-18 1 46 1-46 1 20 1 65 1-81 1 2 1-13 1 33 1 17 1-12 1 2 1-12 1-9 1 5 1-5 1 1 1-47 1 42 1 9 1-45 1 34 1 8 1-15 1-17 1 33 1 51 1-43 1 24 1-10 1-52 1 114 1-103 1 27 1 15 1 7 1-23 1-23 1 66 1-66 1 14 1 4 1-18 1 79 1-89 1 51 1-19 1-38 1 131 1-94 1-9 1 89 1 27 1-119 1 17 1-12 1-14 1 28 1-19 1 5 1 20 1-54 1 82 1-38 1-5 1 7 1-5 1 2 1 27 1-46 1 12 1 66 1-69 1-19 1 48 1 70 1-89 1 3 1-26 1 98 1-109 1 29 1 98 1-92 1-39 1 47 1 1 1-16 1-36 1-5 1 24 1-15 1 36 1 76 1-56 1-8 1 2 1 2 1-18 1-19 1 52 1 59 1-57 1-14 1-14 1-22 1 50 1-42 1-3 1 4 1 23 1-36 1 15 1-15 1 16 1 21 1-5 1-23 1-1 1-28 1 51 1 54 1-52 1-21 1-5 1-4 1 73 1-28 1-28 1 46 1-52 1-7 1-13 1 19 1-34 1 21 1 28 1 14 1-33 1 100 1-98 1-10 1 19 1-14 1 0 1 15 1-29 1 46 1 2 1 8 1 35 1-90 1 4 1 14 1 12 1-18 1 61 1-9 1-32 1-26" stroke="#EDB120"/>
<path class="c" d="M0 0l1 8 1 8 1 1 1 9 1 12 1 3 1 5 1 9 1 3 1 13 1 2 1 8 1 1 1 14 1 1 1 20 1 2 1 15 1 10 1 12 1-3 1 13 1 13 1 14 1 1 1 19 1 9 1 1 1 13 1 23 1-9 1 3 1 17 1 27 1 11 1 2 1 26 1-3 1 3 1 15 1 21 1 1 1 2 1 18 1 31 1-10 1 15 1 19 1 18 1-14 1 12 1 7 1 7 1 31 1-22 1-1 1 18 1 3 1 13 1 0 1-30 1 10 1 14 1-17 1 1 1 10 1-2 1 11 1-26 1 6 1-7 1 10 1 0 1-1 1-18 1 5 1-1 1-16 1 15 1-15 1-9 1 32 1-34 1 22 1-11 1-17 1 14 1-4 1 3 1 13 1 1 1-14 1-12 1-28 1 41 1-7 1-21 1 19 1 10 1-28 1 5 1-50 1 63 1-52 1 24 1-1 1 2 1-11 1 25 1 3 1 0 1-25 1 5 1 7 1-48 1 27 1 3 1 16 1-8 1-26 1 3 1 23 1-19 1-9 1 3 1 1 1 11 1-24 1 24 1-19 1 2 1-14 1 4 1 24 1-19 1-13 1-18 1 33 1 7 1-17 1 18 1-53 1 34 1-5 1-6 1 10 1-20 1 14 1-37 1 42 1-18 1-5 1-3 1 27 1-21 1 17 1-5 1-19 1-3 1 7 1 8 1-7 1-14 1-1 1-11 1 10 1-22 1 16 1-19 1 13 1 1 1-30 1 23 1 2 1-6 1-11 1 0 1 3 1-5 1 6 1-8 1 18 1-15 1-5 1 17 1-58 1 35 1-1 1 11 1-7 1 4 1-10 1-8 1-47 1 3 1 49 1-12 1 26 1-27 1-2 1 5 1 0 1-31 1 22 1 12 1-36 1 24 1-13 1 10 1 27 1-17 1 3 1-7 1 11 1-18 1-2 1-9 1 23 1-27 1-2 1 20 1 6 1-30 1 5 1-7 1 7 1-32 1 44 1-15 1 11 1-14 1 1 1-2 1-8 1 2 1 21 1-31 1 18 1-18 1 12 1-11 1-6 1 16 1-3 1 7 1-14 1 23 1-18 1 7 1-23 1-10 1 33 1-17 1 15 1 4 1 0 1-13 1 6 1 8 1-14 1-2 1 15 1 1 1-3 1 0 1-24 1 11 1-5 1-2 1-6 1 3 1 0 1-15 1 7 1-3 1 1 1 13 1-11 1-12 1 1 1 18 1-26 1 6 1 1 1 1 1 11 1-18 1-5 1 14 1 2 1-29 1 27 1-10 1-18 1-4 1-3 1 16 1-10 1 5 1-11 1 22 1-13 1 7 1-16 1 16 1-14 1-3 1 10 1-12 1 13 1-15 1-11 1 10 1 7 1-19 1 1 1 13 1 7 1-25 1 24 1-46 1 38 1-5 1 9 1-4 1-15 1-2 1 7 1-4 1-6 1 6 1-1 1 5 1 9 1-13 1 12 1-4 1-14 1-20 1 35 1-16 1-4 1 20 1-20 1 18 1-24 1 2 1 15 1 6 1-19 1 3 1 1 1 0 1 3 1 9 1-10 1 7 1-11 1-15 1 11 1 5 1-5 1-26 1 11 1 14 1-40 1 39 1 4 1-9 1-7 1 6 1-53 1 48 1 7 1-12 1 0 1-4 1-3 1 13 1-22 1-3 1 14 1 3 1-12 1 8 1-3 1 1 1 2 1-6 1-7 1 14 1-20 1 7 1-2 1-8 1 21 1-23 1 18 1 0 1-18 1 6 1-4 1 16 1-7 1-11 1 5 1 10 1 2 1-16 1 1 1-7 1-29 1 33 1-2 1 11 1-23 1 1 1 1 1 11 1-1 1-20 1 7 1-10 1-1 1 18 1-14 1 9 1-1 1-6 1-9 1 6 1 4 1 1 1-17 1 19 1-1 1-19 1 8 1-6 1 4 1-6 1 10 1 1 1-11 1-2 1-2 1-5 1 11 1 4 1-12 1-6 1 12 1-12 1 7 1 0 1 2 1-25 1 27 1-11 1 8 1 7 1-15 1-2 1 6 1-10 1-17 1 33 1-8 1 3 1-10 1 3 1-3 1 1 1 11 1-24 1 10 1 13 1-9 1-21 1 13 1 10 1 0 1-12 1-2 1 9 1 2 1-12 1 18 1-20 1 18 1-18 1 14 1 3 1-28 1 13 1 8 1 8 1-17 1 16 1-11 1-17 1 24 1-3 1-6 1 10 1-4 1-3 1-6 1 13 1-16 1 11 1 6 1-13 1 2 1 6 1 1 1-13 1-2 1 12 1-12 1 9 1-11 1 9 1-3 1 6 1 2 1-7 1 3 1-12 1 3 1-1 1 12 1-17 1 4 1-1 1 14 1-4 1-7 1 1 1-9 1 10 1-6 1 1 1-5 1 4 1 4 1 1 1-11 1 7 1-4 1 5 1 7 1-12 1 5 1-7 1 4 1-2 1 1 1-6 1-1 1 10 1-4 1 9 1-7 1 6 1 2 1-12 1 5 1 1 1-3 1 1 1-2 1-4 1 15 1-6 1-4 1-1 1-1 1 8 1-12 1 0 1 14 1-7 1-2 1 0 1-3 1 5 1 7 1-7 1-6 1 11 1-4 1-10 1 11 1-12 1 5 1 3 1-5 1 7 1-12 1 1 1 4 1 8 1-12 1-1 1 0 1 12 1-6 1 3 1-8 1 5 1 4 1-2 1-10 1 1 1 9 1-9 1 0 1 8 1-6 1-2 1 1 1-2 1 9 1-1 1-6 1 4 1-4 1 1 1-2 1 4 1-4 1-5 1 12 1-5 1 2 1-6 1 7 1-6 1-3 1-1 1 7 1-2 1-1 1 11 1-10 1-3 1 9 1-9 1 8 1 0 1 3 1-1 1-15 1 6 1 5 1-1 1-3 1 6 1 2 1-15 1 6 1 6 1-2 1-8 1-4 1 8 1 4 1-2 1 2 1-13 1 3 1 2 1-3 1 1 1 10 1-3 1 3 1-7 1-5 1 2 1 5 1-5 1 10 1-7 1 8 1-3 1-9 1 13 1-4 1 3 1 1 1-7 1 2 1 2 1-8 1 2 1 12 1 1 1-3 1 1 1-2 1 4 1-8 1-2 1 11 1-9 1 0 1 6 1-6 1 2 1 6 1-1 1-4 1-1 1 10 1-2 1-4 1-1 1 3 1 2 1-2 1-6 1 4 1 2 1 2 1-5 1 6 1-7 1 0 1-3 1 4 1-2 1 0 1 8 1-3 1 1 1 1 1-5 1 1 1 3 1-10 1 1 1 10 1-2 1-7 1 8 1 0 1 1 1-1 1-10 1 7 1-6 1 4 1 6 1-5 1-1 1-6 1 12 1-5 1 0 1-2 1 5 1-5 1-11 1 10 1-3 1 4 1 5 1-7 1 3 1-8 1 11 1-3 1-9 1 7 1 2 1-5 1 1 1-4 1 0 1 8 1-2 1-3 1-3 1 10 1-7 1-3 1 4 1-2 1 1 1 7 1-2 1-5 1-4 1 7 1-4 1 8 1-6 1-4 1 4 1 1 1-6 1 1 1 7 1 2 1 1 1 0 1-7 1-3 1 0 1 1 1 0 1 6 1-1 1 4 1-5 1 0 1 0 1 0 1-3 1 9 1-6 1-3 1 0 1 10 1 0 1-8 1 5 1 3 1-5 1-5 1 11 1-1 1 1 1-3 1-2 1 1 1 5 1-1 1-2 1 4 1-2 1-4 1-1 1 3 1-4 1 2 1-4 1 5 1-1 1 5 1-2 1-8 1 8 1-16 1 10 1 8 1-4 1 1 1-8 1 11 1-12 1 7 1-8 1 3 1 3 1-5 1 6 1 2 1 1 1 1 1-6 1-3 1 2 1-3 1 7 1-9 1 11 1-3 1 1 1-4 1 1 1-5 1 8 1-4 1 0 1-1 1 0 1 3 1-1 1 9 1-1 1-6 1-2 1 0 1 0 1 8 1-5 1-6 1 10 1 2 1-4 1 5 1 5 1 2 1-3 1-4 1-1 1-1 1 4 1 8 1-8 1 8 1-3 1 3 1-5 1-5 1 3 1 3 1-5 1 4 1-1 1 3 1 2 1-6 1-4 1 3 1-1 1-3 1 4 1-2 1-1 1 9 1-4 1-9 1 11 1-7 1-3 1 1 1-2 1-1 1 4 1 5 1-6 1 1 1 3 1-7 1 8 1-7 1 3 1 2 1-2 1 2 1-6 1 8 1-5 1 8 1-2 1-2 1-3 1-8 1 2 1 3 1 4 1-10 1 7 1 1 1-1 1-2 1 11 1-4 1 3 1-3 1 1 1-2 1-3 1 7 1-6 1 9 1-9 1 4 1-1 1-3 1 2 1 0 1 3 1 6 1-16 1 8 1-1 1 8 1 1 1-2 1 2 1-6 1-1 1 2 1-2 1 1 1 5 1 2 1-10 1 6 1-6 1 0 1-2 1 6 1-6 1 2 1-3 1 7 1-2 1-2 1 8 1 0 1-6 1 2 1-5 1 10 1-12 1 5 1 6 1-5 1 5 1-3 1-3 1 5 1-4 1-7 1 8 1-7 1 6 1-9 1 2 1 9 1-1 1-4 1 2 1 1 1-4 1 5 1-5 1-4 1 8 1-9 1 2 1 1 1 6 1-2 1-6 1 2 1 4 1 6 1-5 1 4 1-4 1-2 1-1 1 3 1 1 1 0 1 4 1-1 1-3 1 3 1-5 1 6 1-1 1-2 1 5 1 1 1-11 1 4 1 2 1-3 1 0 1 3 1 0 1-5 1 5 1-5 1-2 1 4 1-1 1-1 1-2 1 2 1 3 1-10 1 4 1-1 1-7 1 13 1-13 1 8 1 7 1 1 1-10 1 8 1 0 1-5 1 6 1 0 1 2 1-3 1-1 1 3 1-6 1 6 1-5 1-3 1 4 1-2 1 10 1-4 1-7 1 4 1 8 1-16 1 16 1-7 1 3 1-6 1 0 1 2 1-1 1 1 1-1 1 10 1-5 1 2 1-13 1 9 1 0 1-4 1 6 1-1 1 0 1-3 1 3 1 0 1-3 1 3 1-5 1 5 1-5 1 1 1 4 1-4 1-1 1-4 1 10 1-4 1 1 1 6 1-4 1-1 1 1 1 6 1-5 1-3 1-3 1 4 1 0 1-2 1 7 1-4 1-4 1 7 1-4 1 6 1-8 1 8 1-6 1 6 1 0 1-7 1 4 1 3 1 0 1-9 1 1 1 3 1-3 1 0 1-3 1 4 1 6 1 0 1-3 1-4 1-2 1-1 1-2 1 1 1 2 1 8 1-9 1 6" stroke="#7E2F8E"/>
<path class="c" d="M0 0l1 4 1 5 1 8 1 6 1 8 1 4 1 6 1 4 1 7 1 15 1 3 1 17 1 14 1 10 1 3 1 10 1 9 1-9 1 34 1 26 1 0 1 21 1 6 1 13 1 22 1-7 1 21 1 3 1 22 1 6 1 21 1 19 1 6 1 23 1 16 1 9 1 14 1-29 1 60 1 1 1 10 1 12 1 33 1-12 1 29 1-2 1 8 1 25 1-6 1 23 1-55 1 28 1 21 1-12 1 20 1 3 1-13 1-6 1-10 1 17 1-11 1 30 1-11 1 4 1 9 1-12 1 6 1 9 1-17 1 18 1-31 1-6 1-38 1 72 1-71 1 38 1 13 1 16 1-3 1-35 1-36 1-16 1 68 1 7 1-20 1 11 1-6 1 17 1-33 1-10 1 1 1 14 1 3 1 1 1 12 1-32 1 8 1 21 1-26 1-18 1 38 1-14 1 14 1-17 1 12 1-16 1-21 1 22 1-7 1-25 1 32 1-29 1-38 1 59 1 3 1 8 1-37 1 2 1 6 1 1 1 8 1 16 1-17 1 3 1-27 1 15 1-14 1 3 1 27 1-21 1-7 1 26 1-18 1 9 1-14 1 14 1-16 1 8 1 0 1-21 1 1 1 25 1-12 1 5 1 8 1-33 1 9 1 14 1-7 1 12 1 1 1-4 1-29 1 34 1-5 1-35 1 9 1-15 1 22 1 8 1 5 1-1 1-40 1 2 1 28 1-7 1-72 1 55 1 1 1-14 1-7 1 5 1 28 1-8 1-18 1 14 1-34 1 29 1 6 1-41 1 23 1 5 1-26 1 9 1-10 1 22 1 4 1-30 1-7 1 1 1 9 1 1 1-15 1 23 1-17 1-10 1 17 1-14 1 24 1-8 1-11 1-13 1 18 1-32 1 35 1-31 1 25 1-16 1 15 1-18 1-2 1-13 1 1 1 13 1-9 1 17 1-15 1 5 1-22 1 1 1 6 1-17 1 26 1-13 1-17 1-6 1 18 1-7 1 10 1-16 1 31 1-38 1 28 1 4 1-1 1-15 1-6 1 11 1 1 1-22 1-2 1-2 1 23 1 2 1-33 1 30 1-62 1 35 1 15 1 5 1-27 1-9 1-2 1-10 1 18 1 12 1-20 1 23 1-17 1-14 1 20 1-18 1 9 1-2 1 19 1-2 1-25 1-3 1 22 1-8 1-15 1 12 1 9 1-6 1-30 1 33 1-4 1-21 1 16 1-17 1 9 1 1 1-27 1 5 1-12 1-1 1 18 1-2 1 11 1-28 1 24 1-19 1 5 1-24 1 31 1-28 1 0 1 16 1 2 1 3 1-12 1-13 1-16 1 31 1-4 1-30 1 4 1 17 1-19 1-4 1 26 1-22 1-4 1-4 1-7 1 13 1-17 1 23 1-14 1 5 1 9 1-12 1 15 1-4 1-14 1 4 1 4 1-22 1 6 1 15 1-30 1 16 1-11 1 4 1-7 1 12 1 6 1 2 1-28 1 25 1-6 1 0 1-2 1-18 1 1 1 3 1-13 1 13 1 3 1-17 1-5 1 26 1-13 1-9 1 15 1-10 1-41 1 26 1 2 1-48 1 60 1-16 1 5 1 16 1-1 1-24 1 15 1 4 1-14 1 2 1-6 1-58 1 56 1 8 1-2 1-17 1 14 1-13 1-11 1 22 1 3 1-27 1 27 1-20 1 15 1-8 1-28 1-24 1 50 1-6 1-6 1-6 1 22 1-8 1 2 1-3 1-14 1 22 1-17 1-2 1-1 1 15 1-14 1 2 1-14 1 3 1-3 1 9 1-33 1 24 1 21 1-19 1 2 1 16 1-24 1-1 1 25 1-16 1 13 1-23 1 17 1 3 1-22 1 10 1-3 1 12 1 5 1-1 1-27 1 1 1-2 1 22 1-6 1-16 1 15 1-5 1-6 1 10 1 2 1-25 1 1 1 1 1 14 1-13 1 6 1 9 1-21 1 4 1-1 1 7 1 0 1-4 1-4 1 9 1-10 1-15 1-2 1 11 1-12 1-2 1 3 1-1 1 14 1-22 1 23 1-9 1-13 1 3 1-9 1 7 1 13 1-3 1-18 1 5 1 4 1 0 1 1 1 4 1-3 1-5 1-11 1-3 1 20 1-10 1-27 1 24 1-33 1 30 1-1 1 8 1-11 1 5 1 8 1-11 1 11 1 0 1-10 1 4 1 0 1-9 1-4 1 9 1-2 1 10 1-17 1 17 1-1 1-17 1-3 1 11 1-3 1 0 1-5 1 1 1-6 1 16 1-19 1-1 1 8 1-11 1 0 1 6 1 5 1 1 1-28 1 27 1-8 1 17 1-18 1 2 1 3 1 13 1-20 1 0 1 8 1 1 1 6 1-8 1 6 1 4 1 0 1-31 1 31 1-14 1 12 1-5 1-1 1-7 1 0 1-6 1 1 1-1 1 1 1 6 1 3 1-11 1 5 1 1 1-4 1 10 1-17 1-13 1 23 1 0 1 7 1-25 1 15 1 0 1 3 1 3 1-5 1 0 1-2 1 2 1 1 1 0 1-8 1 11 1-7 1-1 1 9 1-15 1 8 1-6 1-1 1-2 1 9 1 1 1-9 1 6 1-7 1 14 1-8 1 7 1 0 1-3 1-8 1-4 1 2 1 16 1-3 1 1 1-8 1 6 1 0 1 0 1-11 1 0 1 8 1-9 1 2 1-6 1 4 1 4 1 1 1 0 1-6 1 2 1-2 1 12 1-2 1-1 1-8 1 0 1 9 1-3 1-10 1 16 1-11 1-16 1 11 1 9 1-1 1-9 1 4 1 1 1 8 1 1 1-9 1 4 1-6 1 8 1-13 1 9 1-10 1 4 1 1 1-6 1 13 1-3 1-10 1 7 1-5 1 3 1 4 1-6 1 9 1-8 1 8 1-13 1 0 1 7 1-2 1 1 1 7 1-3 1-9 1 9 1-3 1 5 1-8 1 0 1 11 1-4 1-5 1 0 1 1 1 6 1-3 1 0 1-4 1 1 1 6 1 2 1-6 1 2 1 0 1 8 1-13 1 12 1-4 1 4 1-2 1-8 1-1 1 9 1 2 1-1 1-3 1-4 1-7 1 6 1 8 1-4 1-4 1 4 1 3 1-3 1-10 1 9 1 0 1-7 1-9 1 5 1 4 1-3 1 11 1-3 1 4 1-10 1-2 1 10 1-12 1-1 1 0 1 9 1 3 1-9 1-3 1 3 1 10 1-9 1-2 1 3 1 4 1-6 1-3 1-11 1 20 1 1 1-11 1 10 1-2 1-11 1 0 1 14 1-12 1-8 1 9 1 4 1 0 1-5 1 5 1-4 1 0 1 10 1-7 1-4 1 0 1 5 1 1 1 6 1-9 1-2 1 0 1 1 1 11 1-3 1-5 1-4 1 9 1-2 1 1 1-4 1 0 1 9 1-5 1 1 1-4 1 7 1-2 1-4 1-8 1 9 1 9 1-10 1 7 1-8 1 10 1-6 1 1 1 2 1-7 1 4 1-1 1 8 1-9 1 1 1 5 1-1 1-3 1 1 1 1 1 4 1-8 1-1 1 6 1-4 1 3 1-4 1 2 1 3 1 1 1-1 1 4 1-10 1 6 1-7 1 6 1 2 1-3 1-5 1 8 1 3 1-11 1 3 1 5 1 2 1-6 1 2 1-6 1-1 1 7 1 6 1-5 1 2 1 2 1-12 1 2 1 7 1 2 1-4 1-7 1 2 1-2 1 3 1 7 1-7 1 9 1-8 1-4 1 3 1 4 1-3 1 5 1-9 1 8 1-4 1-5 1 13 1 0 1-6 1 4 1-6 1 6 1-13 1 12 1 0 1-8 1 9 1 0 1-9 1 1 1 2 1-2 1-4 1 9 1-9 1 6 1-8 1 8 1-2 1 1 1 6 1-3 1-10 1 9 1-10 1 2 1 4 1-2 1-5 1 3 1 10 1-9 1-3 1 6 1-1 1 6 1-7 1 0 1 0 1 0 1-3 1 9 1-1 1 4 1-7 1-3 1-4 1 4 1 1 1-11 1 15 1 0 1-3 1 2 1 3 1 0 1 3 1-9 1 1 1 5 1-10 1 5 1 8 1-11 1 8 1 0 1-5 1 7 1 2 1-3 1 2 1-7 1 1 1-4 1 11 1-7 1 6 1-7 1 2 1 1 1 7 1-7 1 3 1-7 1 12 1-2 1 0 1 3 1-3 1-5 1 0 1 0 1 7 1-12 1 10 1 1 1 0 1 0 1-3 1-8 1 2 1-1 1 5 1-9 1 4 1 4 1 4 1 1 1-7 1 6 1-9 1 10 1-13 1 4 1 9 1-3 1-4 1 1 1 0 1 7 1 0 1 1 1-3 1-5 1 5 1-8 1 9 1-9 1 4 1 0 1-1 1 5 1-1 1 0 1 5 1 0 1-13 1 11 1 1 1-9 1 3 1-7 1-1 1 10 1-7 1 8 1-9 1 7 1-1 1-4 1-1 1 6 1-2 1-8 1 9 1 1 1-7 1 8 1-9 1 10 1-2 1 2 1-5 1 1 1-1 1-7 1 7 1 5 1-7 1-10 1 4 1 5 1 1 1 4 1-2 1 5 1 0 1-9 1-3 1 3 1 7 1-3 1 0 1-9 1 3 1 8 1-6 1-5 1 4 1 2 1-6 1 2 1-3 1 4 1-3 1 3 1-2 1 5 1-7 1 6 1 2 1 0 1-5 1-7 1 11 1 0 1-11 1 8 1-3 1 6 1-9 1 1 1 7 1-4 1 9 1-6 1-3 1 0 1 11 1-2 1-16 1 9 1 8 1-1 1-7 1 5 1 3 1-10 1 6 1 2 1 3 1-2 1-2 1 5 1-1 1-7 1 1 1 0 1-2 1-1 1 7 1-7 1-2 1 2 1 3 1 1 1-6 1 8 1-1 1-2 1-4 1-1 1 4 1-5 1 0 1 0 1 4 1-5 1 11 1-6 1 0 1 2 1-7 1 8 1-7 1-2 1 9 1-7 1-3 1 7 1 6 1-2 1-4 1-4 1 4 1-4 1-1 1 6 1-3 1-3 1-7 1 18 1-10 1 6 1 3 1-2 1 2 1 0 1-10 1 0 1 7 1-2 1 1 1-1 1-4 1 0 1 6 1-1 1-7 1 11 1-10 1-3 1 12 1 0 1-16 1 12 1-3 1 0 1 1 1 7 1-1 1 0 1 1 1-12 1 8 1 4 1-5 1-8 1 8 1 0 1 1 1 4 1-1 1-4 1 4 1-7 1 5 1-6 1 7 1-3 1-4 1-1 1 6 1-2 1-1 1-2 1-2" stroke="#77AC30"/>
</g></g>
<rect x="362.50" y="25.50" width="316.00" height="88.00" fill="none" stroke="#7c7c7c" stroke-width="1.00"/>
<path d="M362.50 113.50h4M678.50 113.50h-4M362.50 100.50h4M678.50 100.50h-4M362.50 87.50h4M678.50 87.50h-4M362.50 75.50h4M678.50 75.50h-4M362.50 62.50h4M678.50 62.50h-4M362.50 50.50h4M678.50 50.50h-4M362.50 37.50h4M678.50 37.50h-4M362.50 25.50h4M678.50 25.50h-4M362.50 113.50v-4M362.50 25.50v4M414.50 113.50v-4M414.50 25.50v4M467.50 113.50v-4M467.50 25.50v4M520.50 113.50v-4M520.50 25.50v4M572.50 113.50v-4M572.50 25.50v4M625.50 113.50v-4M625.50 25.50v4M678.50 113.50v-4M678.50 25.50v4" stroke="#7c7c7c" stroke-width="1.00" fill="none"/>
<text x="360.60" y="115.00" font-size="5.6" style="stroke-width:1.00px;stroke:#c4c4c4" text-anchor="end" textLength="9.0" lengthAdjust="spacingAndGlyphs">-100</text>
<text x="360.60" y="102.43" font-size="5.6" style="stroke-width:1.00px;stroke:#c4c4c4" text-anchor="end" textLength="2.6" lengthAdjust="spacingAndGlyphs">0</text>
<text x="360.60" y="89.86" font-size="5.6" style="stroke-width:1.00px;stroke:#c4c4c4" text-anchor="end" textLength="7.3" lengthAdjust="spacingAndGlyphs">100</text>
<text x="360.60" y="77.29" font-size="5.6" style="stroke-width:1.00px;stroke:#c4c4c4" text-anchor="end" textLength="7.3" lengthAdjust="spacingAndGlyphs">200</text>
<text x="360.60" y="64.71" font-size="5.6" style="stroke-width:1.00px;stroke:#c4c4c4" text-anchor="end" textLength="7.3" lengthAdjust="spacingAndGlyphs">300</text>
<text x="360.60" y="52.14" font-size="5.6" style="stroke-width:1.00px;stroke:#c4c4c4" text-anchor="end" textLength="7.3" lengthAdjust="spacingAndGlyphs">400</text>
<text x="360.60" y="39.57" font-size="5.6" style="stroke-width:1.00px;stroke:#c4c4c4" text-anchor="end" textLength="7.3" lengthAdjust="spacingAndGlyphs">500</text>
<text x="360.60" y="27.00" font-size="5.6" style="stroke-width:1.00px;stroke:#c4c4c4" text-anchor="end" textLength="7.3" lengthAdjust="spacingAndGlyphs">600</text>
<text x="362.10" y="121.10" font-size="5.8" style="stroke-width:1.00px;stroke:#c4c4c4" text-anchor="middle" textLength="3.0" lengthAdjust="spacingAndGlyphs">0</text>
<text x="414.82" y="121.10" font-size="5.8" style="stroke-width:1.00px;stroke:#c4c4c4" text-anchor="middle" textLength="9.3" lengthAdjust="spacingAndGlyphs">200</text>
<text x="467.53" y="121.10" font-size="5.8" style="stroke-width:1.00px;stroke:#c4c4c4" text-anchor="middle" textLength="9.3" lengthAdjust="spacingAndGlyphs">400</text>
<text x="520.25" y="121.10" font-size="5.8" style="stroke-width:1.00px;stroke:#c4c4c4" text-anchor="middle" textLength="9.3" lengthAdjust="spacingAndGlyphs">600</text>
<text x="572.97" y="121.10" font-size="5.8" style="stroke-width:1.00px;stroke:#c4c4c4" text-anchor="middle" textLength="9.3" lengthAdjust="spacingAndGlyphs">800</text>
<text x="625.68" y="121.10" font-size="5.8" style="stroke-width:1.00px;stroke:#c4c4c4" text-anchor="middle" textLength="12.4" lengthAdjust="spacingAndGlyphs">1000</text>
<text x="678.40" y="121.10" font-size="5.8" style="stroke-width:1.00px;stroke:#c4c4c4" text-anchor="middle" textLength="12.4" lengthAdjust="spacingAndGlyphs">1200</text>
<rect x="604.20" y="29.50" width="71.10" height="39.70" fill="#fff" stroke="#ffffff" stroke-width="0.10"/>
<rect x="604.50" y="29.50" width="71.00" height="40.00" fill="none" stroke="#7c7c7c" stroke-width="1.00"/>
<path d="M605.50 34.00h18.2" stroke="#0072BD" stroke-width="2" stroke-opacity="0.62"/>
<text x="624.80" y="36.30" font-size="6.0" textLength="26.1" lengthAdjust="spacingAndGlyphs">PQWGAN</text>
<path d="M605.50 42.00h18.2" stroke="#D95319" stroke-width="2" stroke-opacity="0.62"/>
<text x="624.80" y="44.10" font-size="6.0" textLength="42.6" lengthAdjust="spacingAndGlyphs">WGAN-GP-Lite</text>
<path d="M605.50 50.00h18.2" stroke="#EDB120" stroke-width="2" stroke-opacity="0.62"/>
<text x="624.80" y="51.90" font-size="6.0" textLength="38.3" lengthAdjust="spacingAndGlyphs">WGAN-GP-Big</text>
<path d="M605.50 58.00h18.2" stroke="#7E2F8E" stroke-width="2" stroke-opacity="0.62"/>
<text x="624.80" y="59.70" font-size="6.0" textLength="47.4" lengthAdjust="spacingAndGlyphs">QuantumPatchGAN</text>
<path d="M605.50 65.00h18.2" stroke="#77AC30" stroke-width="2" stroke-opacity="0.62"/>
<text x="624.80" y="67.50" font-size="6.0" textLength="33.3" lengthAdjust="spacingAndGlyphs">QINN-QGAN</text>
<clipPath id="c2"><rect x="10.30" y="139.20" width="316.30" height="88.00"/></clipPath>
<text x="168.45" y="135.30" font-size="9.40" font-weight="normal" text-anchor="middle">Number 3 Wasserstein Distance</text>
<g clip-path="url(#c2)">
<path d="M10.30 214.50H326.60" stroke="#FF00FF" stroke-width="1.5" stroke-opacity="0.55" fill="none"/>
<g transform="matrix(0.263583 0 0 -0.125714 10.300 214.629)">
<path class="c" d="M0 0l1 9 1 13 1 2 1 16 1 2 1 8 1 62 1-43 1 25 1 21 1-6 1-18 1 7 1 65 1-38 1-34 1 56 1-12 1 2 1-2 1 74 1 14 1-68 1 10 1 0 1-15 1 25 1 19 1-25 1 25 1 6 1 14 1-35 1-9 1 7 1 6 1-36 1 4 1 0 1 35 1-3 1-19 1 73 1-65 1-2 1-5 1 64 1 5 1-70 1 31 1 2 1-66 1-14 1 6 1 114 1-66 1-2 1-16 1-11 1 57 1-71 1 25 1 45 1-66 1 3 1-9 1-22 1 21 1 31 1-34 1 7 1-29 1-23 1 68 1-52 1 19 1 2 1 36 1-57 1 42 1-55 1 51 1 6 1-17 1 0 1-4 1 14 1-29 1 53 1-52 1 5 1-1 1 2 1-13 1 6 1-24 1-6 1 11 1 26 1 19 1-50 1 22 1-22 1 34 1-18 1 43 1-50 1 29 1-23 1-2 1 12 1-26 1 28 1-21 1 17 1-1 1-40 1 19 1 8 1-9 1 15 1-2 1-10 1 14 1-10 1-9 1 21 1-15 1 13 1-19 1 1 1 1 1 7 1-26 1 29 1-8 1-1 1-12 1 18 1 2 1 7 1-12 1 8 1 1 1-13 1 7 1-22 1 6 1 19 1 0 1-6 1 3 1 15 1-30 1 19 1-27 1 15 1 14 1-5 1-13 1 36 1-36 1-4 1 21 1-12 1 21 1-10 1 4 1 4 1 8 1-11 1-5 1-4 1 8 1 9 1-1 1-18 1 18 1-14 1 4 1 36 1-37 1 25 1-26 1 22 1-14 1 1 1 21 1-18 1-13 1-3 1-2 1 25 1-7 1-19 1 6 1 19 1-21 1-7 1 27 1-22 1-2 1 14 1 0 1-5 1-24 1-1 1 2 1 11 1-15 1 18 1-21 1 11 1 2 1 9 1-21 1 14 1 16 1-6 1-27 1 30 1 6 1-24 1-9 1 13 1 14 1-28 1 24 1 23 1-28 1 14 1 3 1-12 1-20 1 32 1-5 1 13 1-25 1 25 1-4 1-12 1 11 1-17 1 23 1-5 1 0 1-7 1-7 1-12 1 19 1 1 1-2 1-9 1 20 1-33 1 25 1-11 1-8 1-15 1 8 1 7 1 1 1 19 1 9 1-29 1 21 1-30 1 11 1 10 1 3 1-16 1-11 1-7 1 5 1 14 1 15 1 9 1-13 1 20 1-34 1 5 1 20 1-12 1-14 1-15 1 31 1-7 1 5 1-20 1 32 1-5 1-10 1-21 1 19 1 20 1-8 1-23 1 19 1 10 1-8 1-15 1-11 1 17 1-6 1 18 1-38 1 2 1 50 1-19 1 6 1 3 1-33 1-1 1 35 1-34 1 27 1-14 1-7 1-12 1 33 1-3 1-3 1-6 1-15 1 30 1-25 1 32 1-27 1 12 1 3 1 13 1 2 1-7 1-13 1 19 1-24 1 28 1 2 1-24 1 26 1-23 1-6 1 26 1 3 1-21 1-13 1-7 1 54 1-28 1 10 1 13 1-29 1-13 1 21 1 0 1 2 1-9 1 7 1-30 1 24 1-2 1-1 1 10 1-14 1-8 1 4 1 15 1-4 1-1 1-5 1 20 1 9 1-47 1 18 1 6 1-6 1-11 1 14 1-8 1-1 1 17 1 11 1-12 1 8 1-24 1 19 1-8 1-1 1 0 1 12 1-28 1 11 1 28 1-27 1-8 1 27 1-35 1 1 1 36 1-20 1 3 1 13 1-10 1-10 1 2 1 10 1-32 1 23 1-19 1 14 1-12 1 38 1-27 1 18 1-14 1-1 1 1 1-21 1 38 1 2 1-12 1 1 1-2 1 6 1-7 1 5 1-20 1 12 1-8 1 13 1 0 1-10 1 25 1-24 1-2 1 3 1 15 1-12 1 3 1 10 1-28 1-15 1 18 1 5 1 16 1-2 1-18 1-1 1 10 1-27 1 44 1-31 1 8 1-11 1 7 1 6 1 1 1 18 1-3 1 0 1-17 1 6 1-14 1 7 1-21 1 48 1-35 1 6 1 1 1 1 1-19 1 24 1-6 1 18 1-33 1 18 1 4 1-3 1 8 1-25 1 35 1-14 1-12 1 9 1 9 1-23 1 28 1 14 1-22 1-18 1-7 1 36 1 0 1-27 1 18 1 2 1 2 1-17 1 11 1-2 1 12 1 16 1-25 1 16 1-8 1 3 1-17 1 20 1 6 1-23 1 30 1-28 1 33 1-40 1 25 1 10 1-13 1 9 1-9 1-26 1 31 1-9 1 11 1-27 1-7 1 23 1-14 1 22 1-14 1 14 1-24 1-1 1 29 1-46 1 23 1 10 1-11 1-16 1 35 1-18 1 3 1-7 1 9 1-35 1 10 1 30 1-26 1 25 1-23 1-12 1 12 1 5 1 6 1-5 1-1 1 4 1 14 1-25 1-4 1 27 1-14 1 4 1-13 1-3 1 14 1 29 1-13 1-13 1 3 1-5 1-5 1-15 1 16 1 4 1 0 1 0 1-1 1-13 1 20 1 7 1-18 1-17 1 7 1 15 1-14 1-15 1 38 1-12 1-2 1-21 1 15 1 0 1 5 1-14 1 1 1 22 1 6 1-25 1 21 1-26 1 2 1 11 1-1 1-23 1 20 1 2 1 15 1-31 1 5 1 24 1-5 1-10 1-3 1 9 1-4 1 3 1-8 1-7 1 8 1 11 1-22 1 20 1-15 1 5 1 27 1-36 1 34 1-5 1-2 1 8 1-2 1-21 1 13 1-1 1-12 1-3 1 10 1-5 1-9 1 33 1-15 1 23 1-31 1-6 1 1 1 19 1-10 1 24 1-13 1 15 1-5 1-2 1-12 1-24 1 42 1 0 1-11 1-6 1-22 1 31 1-19 1 42 1-26 1 3 1-4 1-13 1 0 1 8 1-13 1-3 1 21 1-22 1 36 1-17 1 0 1-11 1 12 1-14 1-1 1-7 1 8 1-9 1 16 1 9 1-32 1 1 1 10 1 1 1 25 1-25 1 4 1-1 1 4 1 17 1-38 1 20 1-10 1 13 1-16 1 0 1-2 1 23 1-7 1-3 1 0 1-2 1 11 1 10 1-14 1-7 1 33 1-32 1-12 1 3 1-14 1 8 1 23 1-9 1 10 1 8 1-32 1 40 1-6 1 2 1-44 1 30 1 4 1-20 1 8 1 4 1 12 1 17 1-29 1 17 1-17 1 16 1-35 1 3 1 16 1-24 1 40 1-11 1-24 1 19 1 22 1-23 1 14 1-1 1-16 1 31 1-9 1-13 1-16 1 23 1 9 1-3 1-3 1-2 1 24 1-28 1-9 1-2 1-18 1 21 1 9 1-7 1 13 1 15 1-28 1 8 1-10 1 25 1-29 1 8 1 10 1-21 1 12 1 9 1 2 1 2 1 2 1 12 1-27 1-9 1 0 1 5 1 1 1 22 1-18 1-26 1 18 1 7 1-19 1 42 1-42 1 18 1 1 1 3 1-22 1 37 1-25 1-8 1 20 1 10 1-26 1 41 1-36 1 30 1-19 1 14 1 0 1-17 1 12 1-34 1 21 1-20 1 43 1-23 1-23 1 1 1 29 1-4 1-7 1-15 1 6 1 24 1 0 1-33 1 2 1 6 1 22 1-9 1-13 1 17 1-21 1 28 1-16 1-3 1-10 1 22 1-21 1 13 1-20 1 11 1 9 1 15 1-22 1 8 1 5 1-2 1 15 1-14 1-2 1-9 1 0 1 8 1-9 1-12 1 7 1 3 1 40 1-32 1 3 1 3 1-16 1 4 1 7 1 3 1 24 1-31 1-3 1 14 1 15 1-49 1 32 1-18 1 22 1-19 1 22 1-30 1 27 1 7 1-19 1-9 1 38 1-25 1-10 1 21 1-9 1-8 1 12 1-15 1 9 1 2 1 12 1-25 1 26 1-9 1 9 1-19 1-11 1 7 1 17 1-1 1-12 1-18 1 29 1-9 1-1 1-7 1 30 1-39 1 3 1-6 1 10 1 20 1 2 1-17 1 20 1-18 1 13 1-37 1 36 1-8 1-15 1 23 1-31 1 35 1-29 1 10 1 5 1-12 1 11 1-7 1-3 1 2 1-2 1 13 1 14 1 9 1-21 1 7 1 18 1-38 1 4 1-3 1 16 1 3 1-16 1-4 1 10 1-13 1 10 1-7 1 19 1-21 1 2 1 18 1-23 1 11 1-4 1-3 1 17 1 3 1 12 1-33 1 21 1-2 1-5 1-15 1 12 1 18 1-25 1 6 1 2 1 6 1 2 1-24 1-2 1 28 1-3 1 19 1-11 1 2 1-29 1-10 1 34 1-23 1 16 1 3 1-9 1 30 1-26 1 5 1 7 1 3 1-12 1 1 1 22 1-35 1 22 1-15 1 7 1-18 1 18 1 0 1 19 1-17 1 14 1-31 1 11 1 6 1-8 1-14 1 15 1-4 1 12 1 7 1-25 1 23 1-18 1-24 1 44 1 1 1-17 1 27 1-18 1-18 1-1 1-10 1 39 1 10 1-24 1 11 1-9 1 15 1-27 1 30 1-25 1 5 1 27 1-21 1 0 1-12 1 47 1-42 1 9 1-10 1 45 1-33 1 4 1 9 1-19 1 23 1-29 1 3 1 12 1 19 1-19 1-16 1 15 1 10 1-12 1 18 1-6 1-14 1 28 1-40 1-2 1 19 1-8 1 4 1-7 1 7 1 16 1-1 1-13 1 22 1-43 1 14 1 17 1-24 1-16 1 25 1-15 1 24 1-17 1 23 1-1 1-18 1-8 1 11 1 2 1 17 1-18 1 2 1-34 1 16 1 46 1-49 1 35 1-13 1-11 1 4 1 22 1-9 1-18 1 16 1-6 1 12 1-15 1 18 1-22 1 9 1 4 1 1 1 2 1-4 1 2 1-1 1 8 1-31 1 25 1-5 1 26 1-26 1 26 1-8 1-35 1 22 1 15 1-31 1-17 1 21 1-1 1 6 1-16 1 12 1 27 1-20 1-5 1-14 1 0 1 3 1 1 1 1 1 8 1 15 1-6 1-27 1 16 1 7 1-4 1-5 1 31 1-41 1 27 1-7 1 2 1 18 1-34 1 21 1 6 1-10 1 15 1-8 1-6 1 6 1 11 1-3 1-24 1 22 1-22 1 23 1-12 1-13 1 23 1-12 1 8 1-11 1 24 1-13 1 8 1-20 1 15 1-12 1 1 1-3 1 12 1 8 1-20 1 6 1-3 1 15 1-33 1-10 1 23 1 33 1-16 1-19" stroke="#0072BD"/>
<path class="c" d="M0 0l1 10 1 5 1 5 1 10 1 6 1 11 1 8 1-3 1 5 1 6 1 22 1 6 1-1 1 0 1 11 1 16 1-1 1 3 1 15 1 3 1-4 1 17 1-1 1 11 1 1 1 7 1 2 1 27 1 3 1-12 1 30 1 19 1-31 1 11 1-12 1 27 1 10 1 19 1-20 1 25 1-20 1 5 1 1 1-23 1 11 1-10 1 31 1-25 1-11 1-16 1-29 1 2 1-18 1-29 1-1 1 11 1-17 1-40 1-6 1-36 1 16 1-25 1-3 1 15 1-39 1 33 1-32 1 8 1-12 1-29 1-6 1-14 1 20 1 0 1 4 1 31 1 5 1 10 1-10 1-1 1 24 1-4 1 6 1 23 1-2 1-20 1-8 1 10 1-2 1 7 1 8 1-12 1-4 1-15 1 6 1 12 1-13 1-14 1 10 1-19 1 2 1-5 1 12 1-17 1 10 1 7 1-14 1-3 1-8 1 25 1-17 1 5 1-5 1-3 1 5 1-14 1 25 1-20 1 3 1 0 1-2 1 12 1-26 1 18 1 8 1-15 1 0 1 15 1-13 1-11 1 26 1-2 1-20 1 18 1-6 1-9 1-14 1 22 1 9 1-17 1-1 1 3 1 0 1 7 1 10 1-20 1 9 1 6 1-10 1 8 1-7 1 4 1-10 1-3 1 17 1-1 1-12 1 6 1-17 1 10 1-1 1 22 1-20 1 6 1 7 1-11 1-1 1 2 1 4 1-4 1-7 1-3 1-2 1 5 1-1 1-9 1 16 1-4 1-3 1 10 1-2 1-3 1-5 1-1 1 1 1 16 1-22 1 5 1-3 1 1 1 6 1-7 1-1 1-9 1-1 1 8 1 0 1 5 1-19 1 15 1 1 1-14 1 9 1 16 1-20 1-9 1 13 1-14 1 13 1 2 1 2 1 5 1-4 1-1 1-2 1-5 1 13 1-8 1-5 1 20 1-14 1-8 1 16 1-8 1-2 1 15 1-3 1-5 1 1 1-8 1 0 1 13 1-3 1 2 1-10 1 8 1-6 1 5 1-14 1 6 1-11 1 7 1-13 1 19 1-12 1-6 1 8 1 2 1 4 1-22 1 27 1-20 1 6 1-8 1 25 1-19 1-6 1 1 1-2 1 14 1 0 1-12 1-8 1 14 1-1 1 9 1-9 1 4 1 1 1-4 1 12 1-1 1-4 1-2 1 7 1-6 1 3 1 9 1-10 1-6 1 5 1 2 1-11 1 2 1 5 1 6 1-6 1 11 1-2 1-12 1 3 1 4 1 3 1-1 1 2 1 3 1-7 1 7 1-8 1-11 1 6 1 1 1 0 1-16 1 11 1 4 1-2 1-4 1-2 1 19 1-19 1 0 1 3 1 1 1 3 1 4 1-7 1 11 1-13 1-5 1 16 1-10 1 2 1-5 1 5 1 6 1 3 1-24 1 15 1 2 1-12 1 8 1-3 1 19 1-12 1-7 1 12 1 3 1-7 1-4 1-3 1 13 1 2 1 4 1 8 1-20 1 12 1 7 1 9 1-5 1 1 1-7 1 9 1-3 1-7 1 2 1 27 1-11 1-7 1-1 1 2 1 18 1-14 1 12 1 15 1-7 1 14 1-17 1 9 1 0 1 1 1 0 1 4 1-1 1-18 1 19 1-2 1-12 1 15 1-3 1 1 1 2 1 0 1 5 1-6 1-6 1 10 1 7 1-14 1 4 1 6 1-4 1 21 1-15 1-11 1 21 1-9 1-6 1 14 1-1 1-3 1-2 1 12 1-11 1-2 1 4 1-6 1 19 1-11 1-8 1 12 1-3 1 4 1-4 1-14 1 12 1-12 1 5 1 4 1 2 1-9 1-15 1 13 1-2 1 6 1 3 1-8 1-9 1-2 1 14 1-9 1-4 1 18 1-11 1-7 1-7 1-6 1 7 1 7 1 6 1-4 1-13 1 9 1 10 1-19 1 10 1-14 1 5 1 6 1 7 1-7 1-17 1 0 1 5 1 7 1-8 1 2 1-12 1 13 1-12 1 4 1-14 1 13 1 4 1-10 1-3 1-7 1-3 1-3 1 2 1 14 1 0 1-15 1 10 1-16 1 11 1-1 1-12 1 7 1-14 1-5 1 6 1 1 1 8 1 0 1-2 1 2 1 0 1 1 1-10 1 8 1-13 1 6 1 0 1 8 1-1 1 4 1-17 1 18 1 2 1-2 1-11 1 25 1-11 1 5 1-13 1 8 1 3 1 9 1-15 1 9 1 1 1 5 1-20 1 25 1-11 1 3 1 0 1 11 1-9 1-7 1-1 1-3 1-10 1-3 1 20 1 4 1-11 1 11 1-8 1 2 1-5 1-10 1 0 1 19 1-16 1-5 1 5 1 1 1-19 1 14 1 1 1 7 1 7 1-3 1-20 1 20 1-14 1-9 1 5 1 4 1 1 1 6 1-4 1 6 1-5 1 7 1 0 1-7 1-6 1 5 1 9 1 9 1-13 1 8 1-21 1 9 1 4 1-5 1 1 1 10 1 1 1-17 1 4 1-3 1 11 1 7 1-21 1 16 1-12 1 10 1-14 1 21 1-17 1 5 1-3 1 1 1 5 1 11 1 0 1-7 1-1 1-14 1 9 1-3 1 12 1 0 1 3 1-8 1 6 1-13 1-12 1 21 1-9 1 11 1 1 1 3 1-15 1 21 1-6 1-1 1 0 1-11 1 22 1 8 1-26 1 18 1-8 1 14 1 0 1-11 1 9 1 6 1-16 1 4 1 2 1 3 1-17 1 17 1-2 1 0 1-4 1-5 1 7 1 9 1-15 1 22 1-26 1 11 1-1 1 17 1-14 1 1 1-11 1 23 1-17 1 12 1 0 1-7 1 14 1-26 1 13 1 12 1-19 1 1 1 19 1-12 1-17 1 11 1 8 1-12 1 13 1-9 1 8 1-1 1-7 1 21 1-26 1 4 1 7 1 5 1-7 1-6 1 5 1-6 1 22 1-23 1 4 1 10 1-3 1-9 1 0 1 13 1-6 1 10 1-5 1-7 1 1 1-9 1 13 1 8 1-6 1 3 1 7 1 0 1-17 1-10 1 18 1-8 1 8 1-6 1 3 1 16 1-24 1 5 1 2 1-7 1-12 1 15 1 2 1-4 1-9 1 2 1 4 1 3 1 5 1-5 1-7 1 4 1-3 1-10 1 8 1 1 1-5 1 19 1-27 1 17 1-5 1-6 1 2 1-6 1 9 1 5 1-1 1-14 1 17 1-8 1 16 1-13 1 16 1-19 1 24 1-8 1-8 1 1 1-9 1 25 1 1 1-19 1 4 1 25 1-12 1 6 1-13 1 15 1-12 1-12 1 5 1 12 1 2 1 2 1-1 1 5 1 2 1-14 1 14 1 4 1 1 1-2 1 1 1-7 1 17 1-16 1 8 1 0 1 0 1-22 1 28 1-14 1 21 1-10 1-11 1 6 1 3 1-9 1 9 1-4 1 5 1 4 1-20 1 24 1-15 1 12 1-22 1 17 1-6 1 3 1-23 1 2 1 10 1-3 1-7 1-1 1 2 1-1 1 0 1-2 1-1 1 11 1 4 1-4 1-5 1-10 1 17 1 7 1-13 1 3 1 2 1 18 1-21 1 7 1-20 1 20 1-22 1 14 1 3 1-10 1 20 1-22 1 26 1-9 1-3 1 1 1 13 1-33 1 21 1-7 1 3 1-13 1 20 1-10 1-10 1-1 1 9 1-20 1 35 1-28 1 18 1-5 1 5 1-5 1-10 1 11 1-10 1 12 1-7 1-5 1 3 1 11 1 2 1-1 1-28 1 24 1-7 1 12 1-3 1-15 1 12 1-2 1 13 1-25 1 4 1-9 1 34 1-16 1 1 1-5 1 7 1-3 1 16 1-12 1 1 1 0 1-2 1-4 1 15 1-4 1 12 1 10 1-22 1 5 1-6 1-5 1 14 1-14 1 21 1-15 1 9 1-14 1 7 1 14 1-26 1-3 1 14 1 8 1-3 1 6 1 0 1-4 1-6 1 3 1-2 1-3 1-6 1 12 1 0 1-20 1 20 1-8 1-10 1 13 1 15 1-5 1-3 1 3 1-3 1-5 1 10 1-12 1-5 1 1 1 4 1 8 1 4 1-2 1-6 1 12 1-10 1 2 1 2 1-16 1 8 1-3 1 4 1-1 1 0 1-1 1-4 1 6 1-5 1-6 1 9 1 7 1-18 1 2 1 13 1-21 1 17 1-19 1 10 1-3 1 12 1-9 1 12 1-4 1 7 1-17 1-15 1 17 1-17 1 16 1-14 1 13 1-8 1 5 1 5 1-14 1 8 1-8 1 10 1-8 1-4 1 20 1-6 1 0 1-5 1-15 1 27 1-5 1-8 1 5 1-12 1 19 1-17 1 13 1 2 1 6 1-5 1-1 1-16 1 4 1 10 1-7 1-7 1 24 1-5 1-15 1-11 1 1 1 16 1 5 1-17 1 33 1-5 1-10 1-16 1 3 1 7 1-23 1 26 1-2 1-1 1 19 1-13 1-1 1-14 1 14 1-17 1 8 1 29 1-23 1-12 1 18 1-18 1 27 1-13 1 6 1-16 1 12 1 9 1-8 1 3 1 3 1 7 1-17 1 18 1-24 1 21 1-17 1 6 1-5 1 13 1 14 1-6 1-11 1-8 1 16 1-4 1 0 1-12 1 14 1-26 1 7 1-3 1 25 1-15 1 3 1 8 1-19 1 17 1-25 1 3 1 10 1-12 1 11 1-6 1 8 1-12 1-13 1 22 1 18 1-23 1 22 1-21 1-2 1-11 1 8 1 8 1-16 1-3 1 61 1-31 1-11 1-17 1 24 1 19 1-27 1-9 1 28 1-14 1 17 1-4 1-17 1 14 1-4 1-17 1 30 1-22 1 4 1 40 1-50 1 4 1 12 1-9 1-17 1-5 1 14 1 18 1-1 1-11 1 11 1 16 1-27 1-2 1 3 1 26 1-7 1-34 1 17 1 4 1-30 1 21 1 18 1-6 1 5 1-11 1 28 1-37 1 33 1-33 1 30 1 0 1-17 1 1 1 12 1-22 1 18 1-21 1-17 1 25 1 6 1-17 1 0 1 22 1-29 1 22 1 10 1-23 1-6 1 22 1-33 1 16 1-10 1 33 1-25 1 9 1-20 1 64 1-57 1 11 1 8 1-6 1-1 1-9 1 8 1-11 1 15 1 0 1-10 1-1 1 9 1 22 1-38 1 21 1 7 1 4 1-32 1 22 1-5 1 14 1-12 1 45 1-28 1-6 1-2 1 3 1 5 1-8 1 2 1 2" stroke="#D95319"/>
<path class="c" d="M0 0l1 2 1 8 1 10 1 8 1 10 1 5 1 18 1-3 1 10 1 4 1 5 1 10 1 14 1-6 1-1 1 17 1 22 1-5 1 19 1 19 1 1 1-15 1 30 1 0 1 12 1-1 1 23 1 16 1-5 1-2 1 7 1 38 1-17 1-1 1 22 1-13 1 9 1-4 1 22 1 1 1 22 1-14 1-8 1-10 1 18 1-19 1 6 1-9 1 11 1-49 1-23 1 5 1-21 1-17 1 0 1-18 1-18 1 2 1-52 1 6 1-41 1-4 1-56 1 5 1-3 1-13 1-32 1-31 1 33 1 14 1-37 1 31 1 11 1 5 1-16 1 28 1 4 1 2 1 19 1 7 1-9 1 28 1-22 1 39 1-27 1 33 1-20 1 23 1 10 1-9 1 15 1-14 1 5 1 8 1 1 1 4 1 3 1 16 1-11 1-5 1-6 1-5 1-2 1-13 1 15 1-17 1-16 1-3 1 8 1-9 1-13 1-8 1-4 1 6 1-9 1-15 1 12 1-27 1 9 1 14 1-7 1-25 1 12 1-3 1 15 1-6 1 7 1-6 1-1 1-14 1 3 1 0 1-8 1 21 1-8 1-19 1 22 1-15 1 12 1-11 1-4 1-1 1-4 1 8 1-9 1 18 1-11 1 5 1 5 1-13 1-2 1 27 1-28 1 8 1 12 1 0 1-5 1-7 1 20 1-4 1-4 1 0 1 9 1 3 1-8 1 0 1 6 1-23 1 31 1-22 1 9 1 6 1-5 1 11 1 6 1-15 1 4 1-1 1 4 1-9 1-2 1-1 1 2 1 6 1-17 1 14 1-9 1-2 1-12 1 6 1 14 1-13 1 16 1-20 1-3 1 12 1-11 1 11 1 5 1-5 1-4 1-7 1 11 1 0 1-5 1 1 1-3 1 7 1 0 1-2 1 5 1 2 1-1 1-2 1-2 1 8 1-7 1 8 1-4 1 9 1-13 1 0 1 4 1-1 1-3 1 0 1 4 1-5 1-11 1 3 1 16 1-16 1 3 1-2 1 0 1 2 1 8 1-8 1-3 1 4 1 3 1-16 1 24 1-21 1 12 1 9 1-3 1 3 1-3 1-6 1 17 1 3 1-10 1-2 1 0 1 1 1-1 1 9 1-11 1 16 1-17 1-4 1 7 1 4 1-3 1 4 1-6 1-2 1 2 1-6 1 1 1 2 1-11 1 23 1-26 1 12 1 3 1-3 1 5 1-6 1-6 1 4 1 4 1 3 1-12 1 6 1-5 1-10 1-6 1 8 1-2 1-9 1 17 1 4 1-1 1-13 1 4 1-3 1 9 1 0 1 2 1-1 1 12 1-6 1 0 1 2 1 12 1-11 1 7 1-10 1 14 1-5 1-12 1 21 1-17 1 3 1 11 1 2 1-5 1 0 1-2 1 2 1-3 1-2 1 13 1-9 1 10 1 1 1-5 1-3 1-11 1 1 1-1 1 1 1 8 1-14 1 12 1 4 1-5 1 3 1-24 1 17 1 3 1-2 1 1 1-2 1-1 1 2 1 8 1-14 1 6 1 9 1-7 1 2 1-6 1 2 1 8 1-16 1 9 1 10 1 0 1 1 1 3 1-15 1 0 1 10 1-7 1-3 1 11 1 5 1 1 1-4 1-4 1 14 1-14 1-1 1-1 1 2 1-1 1 3 1-8 1 8 1 2 1-2 1-5 1-2 1 14 1-12 1 11 1 3 1-27 1 19 1-6 1-7 1 11 1 0 1-3 1 4 1-7 1 1 1 12 1-9 1-9 1-10 1 11 1-6 1 4 1 10 1-7 1-1 1 1 1 15 1-3 1-10 1-5 1 5 1-12 1-2 1 8 1-6 1 1 1 2 1-1 1 4 1-10 1 6 1 1 1 4 1-6 1-8 1-9 1 14 1-10 1 10 1 2 1-8 1 9 1 2 1-11 1 7 1-1 1-12 1 10 1 8 1-1 1 6 1-13 1 6 1-3 1 3 1 0 1 7 1 2 1 1 1-7 1 7 1-8 1 6 1 10 1 2 1-7 1-11 1 13 1 11 1-7 1-1 1-3 1-2 1-6 1 7 1-5 1 12 1 2 1-8 1-4 1 0 1 5 1 7 1-3 1-19 1 13 1 18 1-14 1 1 1-1 1-8 1-9 1 21 1-23 1 19 1-5 1 0 1-12 1 13 1-11 1 0 1 1 1 4 1-4 1 6 1 8 1-5 1-10 1 13 1-12 1-1 1 17 1-11 1-10 1 15 1-4 1 2 1-2 1-14 1 5 1 13 1-15 1 1 1-2 1-2 1 9 1-2 1-3 1-1 1-6 1 10 1 4 1-4 1-12 1 9 1-2 1-4 1-7 1 5 1 5 1-5 1-3 1 6 1-1 1-5 1 12 1 1 1-1 1-13 1 20 1-1 1-18 1 9 1 11 1 0 1-26 1 14 1-1 1 4 1 4 1 9 1-7 1 1 1-9 1 13 1-3 1-3 1 6 1-7 1-7 1 2 1 20 1-8 1 1 1 17 1-24 1 5 1-1 1-3 1 10 1-3 1 5 1-21 1 25 1 3 1 3 1-11 1 7 1-9 1-8 1 32 1-13 1 0 1 6 1-16 1 4 1 21 1-8 1 13 1-14 1 12 1-14 1 2 1-4 1 7 1-5 1-8 1 1 1 12 1-14 1 5 1-7 1 11 1-6 1 12 1-10 1 4 1-15 1 12 1-24 1 25 1-9 1 7 1-24 1 13 1-15 1 10 1-3 1-4 1-6 1 18 1 0 1-8 1 9 1-7 1-2 1-2 1 13 1-14 1 7 1-2 1-5 1 10 1-14 1 13 1-21 1 10 1 6 1 6 1 8 1-14 1 8 1-4 1 7 1 9 1 7 1-8 1 1 1-16 1 14 1-8 1 4 1 13 1-10 1-3 1-4 1 9 1 0 1 14 1-19 1 15 1 7 1-18 1-16 1 15 1 20 1-17 1 3 1 10 1-12 1-24 1 38 1-28 1 18 1-1 1-3 1-20 1 26 1-14 1-23 1 18 1-1 1 14 1-22 1-3 1 24 1 13 1-11 1-12 1 4 1 3 1 2 1 12 1-20 1 27 1 6 1-18 1 27 1-22 1 0 1 22 1-33 1 34 1-36 1 15 1 9 1-14 1 2 1-14 1 17 1 11 1-11 1 13 1-17 1 10 1-11 1 24 1-30 1 10 1 9 1-35 1 40 1-13 1-5 1 1 1 4 1-15 1 9 1-21 1 10 1 13 1-13 1 21 1-28 1 2 1 10 1-9 1 35 1-4 1-51 1 43 1-11 1 3 1-10 1 20 1-5 1 11 1-24 1-7 1 15 1-15 1 13 1 31 1-21 1 6 1 22 1 4 1-31 1-1 1 5 1-12 1 24 1-11 1-2 1 1 1-9 1 18 1-33 1 14 1-21 1 8 1 4 1 15 1-4 1 30 1-20 1-7 1-2 1-11 1 19 1 11 1 8 1 5 1-34 1-10 1 25 1-6 1 4 1 13 1-6 1-6 1-7 1-21 1 25 1-13 1 9 1-8 1 23 1-35 1 19 1 1 1 18 1-1 1-4 1-23 1-10 1 30 1-10 1 17 1-1 1-16 1 3 1 9 1-13 1 15 1-23 1 7 1 24 1-15 1 6 1-9 1-9 1 16 1-7 1 17 1-17 1 7 1 15 1-27 1 28 1 2 1-15 1 8 1 19 1-28 1 0 1 3 1-17 1 0 1 9 1 13 1 18 1-22 1 3 1 0 1 6 1 3 1-2 1 3 1-11 1-7 1-17 1 11 1 6 1 12 1-4 1 23 1-9 1-7 1 18 1-32 1-16 1-14 1 14 1 28 1 3 1-31 1 17 1 18 1-30 1 25 1-26 1-27 1 41 1-25 1 47 1-34 1 12 1-20 1 10 1 4 1-27 1 29 1-7 1 27 1-11 1-6 1-3 1-3 1 16 1-7 1-10 1 3 1-31 1 32 1 11 1-38 1 42 1-43 1 17 1-9 1 30 1-12 1-21 1 16 1-6 1 2 1 23 1 9 1-12 1-7 1 1 1-54 1 32 1 2 1 11 1 12 1-2 1-10 1-13 1 17 1-26 1 50 1-58 1 57 1-49 1 25 1-20 1 23 1-29 1 28 1-2 1 12 1 2 1-49 1 46 1 2 1-34 1 36 1-5 1-29 1 33 1-50 1 19 1 4 1 48 1-37 1 17 1-19 1-14 1 15 1 0 1 4 1 11 1-1 1-9 1 4 1 3 1-33 1-3 1 27 1-17 1 15 1-34 1 84 1-42 1-31 1 31 1-30 1 40 1-25 1 34 1-45 1 71 1-61 1 20 1 10 1-45 1 31 1 13 1-21 1 19 1-25 1 15 1-17 1-10 1 25 1 28 1-39 1 21 1-11 1-13 1-19 1 10 1 9 1-11 1 25 1-42 1 45 1-22 1 32 1-28 1 14 1 2 1-4 1-30 1 67 1-49 1 14 1-4 1-6 1 66 1-77 1 18 1-13 1 19 1-40 1 46 1 15 1-45 1 40 1-23 1-30 1 83 1-73 1 59 1-72 1 19 1 47 1-22 1-19 1-15 1 38 1-5 1-16 1 29 1-5 1-11 1-11 1 4 1 39 1-1 1-12 1 24 1-40 1 43 1-21 1 0 1-40 1 3 1 11 1 36 1 13 1-39 1-17 1 30 1-23 1 41 1-21 1-32 1-14 1 45 1-34 1 18 1 13 1 28 1-27 1-30 1 13 1 14 1-14 1-19 1 35 1-21 1 17 1-1 1-18 1 23 1-9 1 24 1-65 1 80 1 36 1-93 1 76 1-86 1 28 1-9 1 0 1 1 1-19 1 44 1-15 1 8 1-8 1 30 1-37 1 0 1-29 1 30 1 42 1-16 1-44 1 22 1-25 1 15 1 0 1 23 1-4 1-9 1 16 1-1 1 2 1-5 1-2 1 25 1-8 1-45 1 55 1-29 1 13 1-32 1 40 1-37 1 23 1 5 1-5 1 55 1-66 1 11 1-16 1 1 1-19 1-19 1 59 1-51 1 43 1-36 1-23 1 26 1 75 1-55 1 5 1-21 1-14 1 20 1-15 1-2 1 16 1 11 1 26 1-2 1 19 1-78 1 0 1 15 1 14 1 21 1-6 1-2 1-40 1-1 1 73 1 4 1-73 1 14 1 69 1-48 1 4 1-39 1 77 1-62 1-31 1 18 1 24 1 3 1-24 1 3 1 43 1-60 1 86 1-30 1-27 1 73 1-72 1 20 1-18 1-32 1 17 1 41 1-16 1-6 1-21 1 9 1-3" stroke="#EDB120"/>
<path class="c" d="M0 0l1 9 1 1 1 9 1 3 1 16 1 1 1 5 1 6 1 9 1 1 1 16 1 10 1 3 1 11 1 7 1 0 1 21 1-1 1 7 1 22 1 5 1 12 1 6 1 24 1-12 1 32 1-11 1 18 1 3 1 9 1 19 1 20 1 10 1 6 1-2 1 19 1 13 1 3 1-3 1 5 1-1 1 42 1-23 1 13 1 26 1 0 1-15 1 26 1-10 1-16 1-1 1 26 1-16 1 6 1-8 1 31 1 11 1-29 1 31 1-35 1-1 1 0 1 12 1 8 1-15 1 38 1-46 1-7 1 47 1 5 1-44 1 4 1-2 1-4 1 35 1 6 1 4 1-15 1-14 1 7 1 17 1 6 1-38 1-16 1 9 1 3 1 39 1 6 1-4 1-14 1-54 1 49 1 24 1-38 1-2 1 24 1-1 1-37 1 19 1 26 1 4 1-28 1 24 1-15 1-29 1 20 1 11 1-41 1 24 1-9 1 30 1-4 1-27 1 25 1-33 1 14 1-12 1 9 1-6 1-29 1 44 1-45 1 11 1-17 1 7 1-5 1-4 1-2 1 18 1-61 1 48 1-15 1 5 1 0 1-46 1 79 1-12 1-27 1-12 1 5 1-9 1 34 1-37 1 32 1 2 1-70 1 71 1-8 1-21 1 23 1-77 1 66 1 6 1-41 1 10 1 7 1 0 1 5 1-21 1-53 1 52 1 7 1-21 1-14 1-40 1 44 1 3 1 14 1-25 1 41 1-39 1 14 1-18 1-8 1 7 1 36 1-30 1-63 1 58 1 17 1-25 1-7 1 22 1-6 1-10 1 4 1-24 1 38 1-32 1-3 1 38 1-40 1 36 1-6 1 4 1-64 1 43 1-15 1 19 1-20 1 18 1 22 1-9 1 1 1-35 1 34 1-22 1 8 1 19 1-8 1-80 1 57 1-10 1 8 1 27 1-57 1 58 1-47 1 29 1-3 1 1 1-30 1 25 1-3 1 3 1-10 1 18 1-18 1 22 1-17 1 3 1 7 1-37 1 35 1-50 1 48 1-2 1-20 1-29 1 9 1 38 1-16 1 11 1-19 1 2 1-5 1-5 1 2 1 12 1 1 1-37 1 20 1 4 1-6 1 13 1-42 1 10 1 5 1-16 1 0 1 11 1 8 1-7 1-19 1-3 1 5 1 2 1 3 1-13 1 5 1-6 1 29 1-57 1 46 1-25 1 8 1 10 1-7 1-7 1 17 1-13 1 15 1-5 1 0 1 2 1-1 1-27 1 1 1 20 1-24 1 37 1 1 1-33 1 7 1 19 1-4 1-20 1 29 1-29 1 13 1-4 1-18 1 24 1-14 1 19 1-9 1 12 1-24 1 17 1-64 1 63 1-17 1-1 1 11 1 1 1 3 1-32 1 13 1-58 1 53 1-19 1 14 1 1 1-9 1-5 1 28 1-12 1 2 1 1 1-9 1-9 1-7 1-8 1 20 1 10 1-32 1 1 1 12 1-17 1 0 1 16 1-5 1 5 1-4 1 12 1-15 1 15 1-22 1-6 1 33 1-22 1 6 1-12 1 14 1-5 1-1 1 8 1-14 1 21 1-65 1 57 1-16 1 20 1-29 1 32 1-7 1-6 1 9 1-25 1-5 1 10 1 1 1 4 1 0 1-5 1 13 1 2 1-19 1 14 1 0 1-28 1-23 1 44 1-14 1 2 1 9 1 0 1-19 1 18 1-18 1-4 1 13 1 11 1-26 1 22 1-16 1-6 1 7 1 19 1-21 1 14 1-10 1 10 1-14 1-13 1 26 1 4 1-6 1 2 1-5 1-21 1 23 1-17 1-9 1 24 1-19 1 7 1-34 1 39 1-18 1 13 1 5 1-1 1-17 1 14 1 5 1-23 1 9 1 9 1-15 1 7 1-15 1 27 1-9 1 7 1-17 1 10 1 2 1-4 1-3 1 7 1-20 1 3 1 8 1-19 1 4 1 17 1-4 1-15 1-6 1 7 1-12 1 1 1-7 1 11 1 4 1 11 1-18 1-16 1 28 1-7 1 5 1-15 1 7 1 15 1-3 1-19 1 6 1 5 1-3 1 2 1-28 1 33 1-11 1 16 1-18 1 0 1 2 1 16 1-31 1 21 1 10 1-16 1 1 1 1 1 1 1 8 1-1 1 0 1-14 1-1 1 9 1-11 1 6 1 17 1-15 1-5 1-1 1-1 1 6 1-1 1 11 1 3 1-30 1 21 1-10 1 14 1-10 1-7 1 3 1-3 1 13 1-9 1 4 1 5 1-21 1-1 1 1 1 2 1 8 1-13 1 8 1-9 1-1 1 11 1-13 1 7 1-4 1 5 1-4 1 14 1-5 1-2 1-12 1 5 1-2 1 14 1-15 1 18 1-21 1-1 1 13 1-16 1 16 1-11 1 1 1 5 1-9 1-2 1 19 1-1 1-16 1 3 1 12 1-17 1 3 1 8 1-12 1-14 1 29 1-10 1 7 1-1 1-16 1 18 1-19 1 0 1 0 1 10 1-2 1 10 1-7 1-12 1 18 1-14 1 7 1 2 1 6 1-3 1 0 1-16 1 8 1-4 1 3 1 4 1-1 1 9 1-13 1 15 1-19 1 14 1-5 1 4 1-9 1 15 1-6 1 4 1-17 1 8 1-3 1 6 1-8 1 10 1 0 1 6 1-11 1 11 1-11 1-2 1-2 1 6 1 0 1-6 1 10 1-10 1 12 1-9 1 13 1-14 1-1 1 2 1 10 1-1 1-10 1 9 1-6 1 8 1-17 1 8 1 9 1-8 1-8 1 7 1-18 1 9 1 0 1 15 1-4 1 4 1-10 1 15 1-12 1 8 1-9 1 6 1-19 1 22 1 2 1-13 1 0 1 12 1-6 1 8 1-9 1-2 1-9 1 6 1 5 1-4 1 11 1-10 1 5 1-2 1-4 1 3 1-2 1-4 1 1 1 3 1 3 1-5 1 10 1-16 1 13 1-20 1 8 1 13 1-9 1 7 1-11 1 4 1 0 1-7 1 9 1 1 1-11 1 8 1-7 1 7 1 3 1-13 1-10 1 25 1-4 1-7 1 1 1-11 1 12 1-1 1 2 1 10 1-7 1 1 1 3 1-3 1-11 1 14 1-2 1-15 1 7 1 12 1 0 1-4 1-3 1-2 1 3 1 10 1-8 1-7 1 1 1-2 1 4 1 8 1-6 1-6 1 5 1 4 1-6 1-11 1 19 1-1 1-2 1-4 1-6 1-2 1 4 1 2 1 10 1-11 1 7 1-5 1-1 1 10 1-14 1 1 1 6 1-5 1-11 1 15 1-4 1 0 1-3 1-2 1 4 1-4 1 11 1 6 1-21 1 9 1 3 1-7 1 10 1-8 1-3 1 5 1 7 1 4 1-11 1 0 1 3 1-4 1 10 1 0 1-7 1-3 1 3 1 4 1 4 1-7 1-1 1 13 1-16 1 2 1 11 1-13 1 3 1 3 1-4 1-1 1-1 1 6 1 6 1-5 1 5 1 3 1-6 1 4 1-14 1 8 1-5 1 3 1-5 1 1 1-2 1 7 1 7 1-7 1-1 1-6 1-2 1 5 1-12 1 25 1-11 1-1 1 0 1 14 1-2 1-11 1 8 1 5 1 2 1-8 1 0 1-7 1 12 1-1 1 7 1-11 1 1 1 3 1-9 1 8 1 4 1-1 1-4 1 1 1-14 1 11 1 5 1-4 1 2 1 6 1-6 1-3 1 1 1 7 1-5 1 9 1-2 1-13 1 8 1-8 1 8 1-5 1 10 1-6 1-10 1 3 1 7 1-9 1 13 1-7 1-9 1 7 1-6 1-3 1 7 1 1 1-7 1 11 1-7 1-6 1 4 1 3 1 9 1-2 1-11 1 0 1 1 1 6 1-5 1 7 1 0 1 2 1-5 1 12 1-17 1 13 1-8 1 15 1-10 1 3 1 10 1-3 1 4 1-4 1-1 1-5 1 5 1-9 1 14 1-8 1-2 1 7 1-11 1 4 1-2 1 3 1 0 1 6 1-7 1 6 1-13 1-2 1 4 1 2 1 6 1-7 1 5 1-4 1 4 1 2 1-11 1-4 1 11 1 5 1-1 1-15 1 4 1 6 1-7 1 2 1 3 1 4 1-9 1 10 1-8 1 5 1-11 1 0 1 1 1 0 1 2 1-6 1 15 1-5 1-7 1-1 1 5 1-1 1-7 1 19 1-15 1 7 1-7 1 11 1-8 1 6 1 6 1-5 1 2 1 2 1-9 1 8 1-1 1 5 1-3 1-11 1 1 1 11 1-12 1 12 1 3 1-9 1-5 1 11 1 2 1 1 1-6 1 6 1-4 1-6 1 5 1 1 1 0 1 2 1-12 1 9 1-1 1-6 1-1 1 6 1 5 1-2 1-2 1 2 1-7 1 1 1-2 1 5 1 3 1 1 1-4 1-2 1-1 1-3 1 7 1 7 1-8 1 5 1 2 1-2 1 3 1-11 1 2 1-1 1-3 1 1 1-3 1 7 1 3 1-7 1 6 1-4 1-4 1 5 1-1 1-5 1-1 1 4 1-3 1 0 1 3 1 8 1-12 1 5 1 7 1 0 1-14 1 12 1-2 1-6 1-4 1 0 1 5 1 5 1 3 1 1 1-3 1-5 1-14 1 7 1 1 1 13 1-1 1-5 1 0 1-5 1 11 1-9 1-4 1 6 1-6 1 3 1 7 1-10 1 4 1 4 1 2 1-5 1 8 1-16 1 10 1 0 1-6 1 3 1 2 1 5 1-6 1-5 1 11 1-10 1-3 1 8 1-4 1 7 1-5 1 3 1 5 1-12 1 12 1-2 1-6 1 0 1-5 1 6 1-3 1 9 1 3 1-1 1-10 1 6 1-3 1-2 1-4 1 12 1-6 1 11 1-15 1 9 1-6 1-2 1 3 1 8 1-4 1-4 1 6 1-1 1-4 1-2 1 13 1-14 1 16 1-14 1 12 1-9 1 0 1 0 1 8 1 1 1-2 1-1 1 0 1-6 1 4 1-10 1 9 1-8 1-1 1-1 1 3 1-4 1 14 1-1 1-3 1 1 1-9 1 3 1 3 1 1 1 3 1-4 1-9 1 1 1 5 1-7 1 1 1 7 1-4 1-4 1 9 1 2 1-4 1 0 1-3 1 2 1-5 1 5 1-3 1-1 1 13 1-14 1 3 1 0 1 7 1-8 1 10 1-9 1 2 1-9 1 7 1-2 1 12 1-10 1 8 1-5 1 5 1-8 1 10 1-6 1 6 1-4 1-6 1-7 1 17 1-10 1-2 1 8 1-1" stroke="#7E2F8E"/>
<path class="c" d="M0 0l1 8 1 9 1 10 1 15 1 3 1 15 1 6 1 15 1 10 1 12 1-2 1 26 1-2 1 13 1 25 1-7 1 11 1 24 1-2 1 9 1 21 1 7 1 2 1 18 1 1 1 35 1 15 1-1 1-31 1 63 1-2 1 23 1-17 1 18 1 26 1 16 1-6 1 20 1-17 1 26 1-5 1 6 1 23 1-43 1 42 1 15 1 11 1-23 1-61 1 85 1-10 1-55 1 75 1-15 1 2 1-20 1-66 1 15 1 79 1-14 1-3 1 17 1 13 1-49 1 49 1-49 1 52 1-32 1-18 1 32 1-25 1 19 1-28 1 45 1-51 1 32 1-5 1 1 1 14 1-39 1 10 1 8 1 35 1-29 1 9 1-15 1-1 1 11 1-2 1 19 1-7 1-11 1 5 1-38 1 3 1 30 1 18 1-89 1 53 1 5 1 7 1-7 1-21 1-6 1 4 1 23 1 33 1-25 1 9 1-32 1 37 1-24 1 2 1 22 1-54 1 21 1-22 1 17 1 31 1-25 1-8 1 20 1 1 1 0 1-15 1 25 1 4 1-13 1-33 1 18 1 24 1-22 1 3 1-21 1-31 1 48 1-16 1-2 1-12 1 1 1 34 1-22 1 27 1-1 1-13 1-36 1 7 1-6 1 34 1-63 1 45 1 21 1-3 1-49 1 23 1-9 1 15 1-1 1-16 1-28 1-18 1 60 1-28 1 23 1-44 1 55 1-3 1-20 1 8 1-17 1-8 1-37 1 65 1-32 1-10 1 40 1-21 1-21 1 19 1 1 1 10 1-38 1-42 1 51 1-20 1 14 1-3 1-51 1 48 1-30 1 30 1 27 1-12 1-70 1 74 1-22 1 2 1 5 1 15 1-30 1 10 1 16 1-53 1 13 1-3 1 5 1-41 1 45 1 21 1-15 1-8 1-47 1 60 1 10 1-1 1-13 1 4 1-34 1 28 1-32 1 12 1-4 1 4 1 14 1-70 1 64 1-3 1 15 1 3 1-45 1 0 1 36 1-10 1-10 1-50 1 49 1-13 1 36 1-42 1 31 1-78 1 55 1-18 1 32 1 5 1-46 1 48 1-7 1-49 1 4 1 10 1 29 1 1 1-48 1 26 1-26 1 32 1-26 1 16 1-16 1-2 1 3 1 19 1-28 1 17 1 11 1 5 1-14 1 6 1-35 1 19 1-26 1 43 1-22 1 7 1 6 1-31 1 7 1-27 1 42 1-16 1-10 1-2 1 33 1-35 1-30 1 34 1 35 1-14 1-33 1-1 1-2 1 13 1 28 1-33 1 11 1-1 1-26 1 46 1-28 1-41 1 39 1 24 1-2 1-18 1-21 1-1 1 24 1 9 1-25 1-45 1 44 1 29 1 3 1-24 1 9 1-24 1 8 1 14 1-16 1-8 1 4 1 10 1 13 1-33 1 34 1-34 1-25 1 31 1-9 1 8 1 30 1-35 1-8 1 7 1 22 1-23 1 3 1-6 1 11 1 14 1-8 1-2 1-21 1-1 1 19 1-20 1 14 1 15 1-22 1 12 1-6 1-26 1 5 1 25 1-18 1 3 1 10 1-60 1 51 1 9 1-34 1 21 1-10 1 2 1-18 1 11 1-11 1 13 1 14 1-29 1 24 1-6 1 1 1-12 1-21 1 26 1-8 1-10 1 15 1-8 1 9 1-27 1 25 1-22 1 12 1 10 1 4 1-23 1 9 1-6 1-1 1 5 1-19 1 9 1-57 1 53 1 0 1-12 1-32 1 49 1-14 1 24 1-56 1 48 1-9 1-1 1-4 1-4 1-24 1 42 1 1 1-29 1 11 1 12 1-39 1 8 1 37 1-16 1 4 1-45 1 30 1 20 1-9 1-18 1-10 1 15 1-11 1 13 1-7 1 14 1-19 1 0 1-2 1 6 1 18 1-3 1-29 1 13 1-2 1 17 1-35 1 33 1-28 1 4 1-31 1 22 1 0 1 2 1-45 1 8 1 46 1-20 1 14 1 0 1 4 1-10 1 12 1-22 1 21 1 2 1 3 1-28 1 13 1-3 1 16 1-29 1 3 1-6 1 13 1 13 1-18 1 3 1 12 1-21 1 19 1-58 1 41 1 8 1-10 1 24 1-24 1 2 1 1 1 17 1-14 1 10 1 0 1-11 1-7 1 4 1 17 1-16 1-9 1 18 1-12 1-7 1 5 1 4 1 1 1-7 1-7 1-2 1 4 1 25 1-27 1 16 1-7 1-36 1 39 1-8 1 2 1 0 1-13 1-2 1 4 1-4 1 9 1 2 1-6 1-5 1 11 1-2 1 11 1-11 1 15 1-30 1 24 1-11 1-12 1 8 1 5 1 5 1-19 1 6 1 16 1-11 1-12 1-1 1 16 1-21 1 1 1 14 1-8 1-9 1 18 1 1 1-16 1 10 1-13 1 7 1 2 1-2 1 1 1-19 1 16 1 9 1-6 1-3 1-5 1 0 1 1 1 3 1 2 1-5 1-8 1 2 1-8 1 22 1-11 1 8 1-21 1 8 1-6 1 6 1-5 1-1 1 7 1 2 1 4 1 1 1-15 1 9 1-14 1 15 1 4 1-21 1-3 1 19 1-21 1 17 1-18 1-7 1 29 1-25 1 6 1 5 1-13 1 24 1-15 1-14 1 8 1 2 1 4 1-6 1 7 1-13 1 11 1-15 1 20 1 1 1-14 1 15 1-3 1-6 1-1 1-10 1 8 1 8 1-24 1 12 1-1 1 7 1 8 1-12 1-3 1 15 1-12 1 4 1 2 1 10 1-6 1-14 1 7 1 4 1-6 1 14 1 1 1-20 1 19 1-2 1 1 1-10 1-7 1 2 1 12 1-7 1-2 1-9 1 15 1-14 1-2 1 13 1-13 1 4 1-5 1 1 1 5 1 2 1 11 1-4 1-5 1-2 1 11 1-20 1 7 1 5 1-1 1-16 1 5 1 6 1-4 1 5 1-7 1 7 1 10 1-18 1 18 1-11 1-3 1 7 1-10 1 12 1-6 1 5 1-4 1-3 1 6 1-8 1 1 1 10 1-7 1 13 1-11 1-6 1 5 1 1 1 13 1-8 1-8 1 17 1-2 1 3 1-1 1-13 1 7 1 3 1-7 1 1 1 2 1-6 1-2 1 9 1 9 1-16 1 6 1-3 1 4 1-6 1 5 1-5 1 6 1-8 1 12 1 6 1-12 1 2 1-12 1 16 1-8 1 2 1 8 1-22 1 23 1-5 1-9 1 8 1-8 1 8 1 4 1 0 1-25 1 26 1-10 1 2 1 7 1-10 1-8 1 6 1 9 1-3 1-6 1 8 1-4 1 4 1-12 1 10 1-16 1-2 1 7 1 3 1-7 1 11 1-9 1 13 1-3 1-5 1-2 1 5 1 7 1-20 1 4 1 8 1 3 1-10 1 10 1-9 1-2 1 1 1 17 1-16 1 8 1-7 1 2 1 1 1 4 1 2 1-6 1 9 1-12 1 15 1-14 1 8 1-19 1 23 1-15 1 17 1-9 1 5 1-9 1-6 1 10 1 5 1-14 1-5 1 19 1 4 1-27 1 14 1 5 1-8 1 6 1 11 1-1 1-3 1-10 1-4 1 15 1-12 1-4 1 10 1 2 1 3 1-18 1 12 1-1 1 4 1-1 1-3 1 1 1-11 1-5 1 6 1 12 1 4 1-17 1 2 1 6 1 0 1 6 1-2 1-20 1 11 1 4 1 3 1 1 1-4 1-14 1 21 1-8 1 2 1-12 1 3 1-12 1 16 1-9 1 6 1-5 1 11 1-9 1 4 1 5 1-1 1-9 1 16 1-8 1-4 1 1 1 7 1-13 1 14 1 0 1-9 1 5 1-4 1 5 1-6 1 0 1-2 1-2 1 9 1-4 1-3 1 16 1-11 1-1 1 12 1-17 1 3 1 13 1-15 1 13 1-8 1-5 1 9 1-8 1 0 1-1 1 8 1 8 1-12 1 3 1 8 1-8 1 7 1-14 1 6 1 6 1 1 1-10 1 15 1-2 1-8 1-7 1 8 1-3 1 1 1 3 1-13 1 23 1-18 1 0 1 1 1 16 1-12 1 11 1-7 1-6 1 3 1 3 1-7 1-2 1 7 1-13 1 19 1-12 1 11 1-5 1-4 1 3 1-3 1-9 1 12 1 3 1 0 1-13 1 12 1-15 1 2 1-2 1 0 1 4 1 3 1 2 1 6 1 1 1-15 1 10 1-11 1-2 1 9 1 7 1-1 1-10 1 8 1 2 1-5 1 0 1 7 1-6 1 9 1-10 1 9 1 0 1-6 1-19 1 14 1 4 1 1 1-7 1 14 1-2 1 1 1-10 1 9 1-3 1-1 1 4 1 5 1-9 1-7 1 16 1 0 1-13 1 2 1-3 1 8 1-3 1-7 1 14 1-16 1 9 1 0 1 3 1-4 1 0 1-5 1 3 1-1 1 8 1-6 1 4 1 4 1 1 1-3 1-12 1 4 1 0 1 11 1 0 1-5 1-8 1 10 1 4 1-7 1-1 1-6 1 6 1-14 1 9 1 1 1-5 1 11 1-7 1 14 1-6 1 5 1-12 1-2 1 10 1 3 1-2 1 2 1-1 1-11 1 6 1-3 1-8 1 1 1 5 1-5 1 13 1-13 1 10 1-7 1 8 1-7 1-7 1 0 1 2 1 16 1-14 1 2 1 2 1-7 1 9 1-12 1 3 1 4 1-1 1 1 1 3 1-7 1 0 1 11 1 0 1-14 1-4 1 11 1 3 1-7 1-8 1 4 1 10 1-8 1-4 1-1 1 4 1 12 1-12 1 8 1 2 1-14 1-1 1 11 1-12 1 10 1 8 1 0 1-18 1 16 1-4 1 7 1-9 1 7 1 2 1-6 1 3 1-10 1 8 1-19 1 23 1-10 1-1 1 12 1-3 1-1 1 0 1 6 1-6 1 0 1-4 1 5 1 9 1 0 1-13 1 3 1 1 1-5 1 10 1 6 1-2 1-12 1 0 1 14 1-17 1 14 1-10 1 3 1-4 1 2 1-2 1 11 1-7 1 6 1-8 1 6 1-7 1-1 1 8 1-6 1-5 1 8 1-8 1 1 1 4 1 8 1-11 1 4 1 4 1-12 1 9 1 3 1-2 1-4 1-2 1-4 1 15 1-15 1 11 1-10 1 14 1-7 1-2 1 2 1-8 1 11 1 4 1-8 1 4 1 2 1 5 1 0 1-3 1-12 1 3 1 0 1-3 1 5 1-1 1 9 1-12 1 5 1-7 1 7 1-5 1-2 1 9 1 7 1-10" stroke="#77AC30"/>
</g></g>
<rect x="10.50" y="139.50" width="316.00" height="88.00" fill="none" stroke="#7c7c7c" stroke-width="1.00"/>
<path d="M10.50 227.50h4M326.50 227.50h-4M10.50 214.50h4M326.50 214.50h-4M10.50 202.50h4M326.50 202.50h-4M10.50 189.50h4M326.50 189.50h-4M10.50 176.50h4M326.50 176.50h-4M10.50 164.50h4M326.50 164.50h-4M10.50 151.50h4M326.50 151.50h-4M10.50 139.50h4M326.50 139.50h-4M10.50 227.50v-4M10.50 139.50v4M63.50 227.50v-4M63.50 139.50v4M115.50 227.50v-4M115.50 139.50v4M168.50 227.50v-4M168.50 139.50v4M221.50 227.50v-4M221.50 139.50v4M273.50 227.50v-4M273.50 139.50v4M326.50 227.50v-4M326.50 139.50v4" stroke="#7c7c7c" stroke-width="1.00" fill="none"/>
<text x="8.80" y="229.20" font-size="5.6" style="stroke-width:1.00px;stroke:#c4c4c4" text-anchor="end" textLength="9.0" lengthAdjust="spacingAndGlyphs">-100</text>
<text x="8.80" y="216.63" font-size="5.6" style="stroke-width:1.00px;stroke:#c4c4c4" text-anchor="end" textLength="2.6" lengthAdjust="spacingAndGlyphs">0</text>
<text x="8.80" y="204.06" font-size="5.6" style="stroke-width:1.00px;stroke:#c4c4c4" text-anchor="end" textLength="7.3" lengthAdjust="spacingAndGlyphs">100</text>
<text x="8.80" y="191.49" font-size="5.6" style="stroke-width:1.00px;stroke:#c4c4c4" text-anchor="end" textLength="7.3" lengthAdjust="spacingAndGlyphs">200</text>
<text x="8.80" y="178.91" font-size="5.6" style="stroke-width:1.00px;stroke:#c4c4c4" text-anchor="end" textLength="7.3" lengthAdjust="spacingAndGlyphs">300</text>
<text x="8.80" y="166.34" font-size="5.6" style="stroke-width:1.00px;stroke:#c4c4c4" text-anchor="end" textLength="7.3" lengthAdjust="spacingAndGlyphs">400</text>
<text x="8.80" y="153.77" font-size="5.6" style="stroke-width:1.00px;stroke:#c4c4c4" text-anchor="end" textLength="7.3" lengthAdjust="spacingAndGlyphs">500</text>
<text x="8.80" y="141.20" font-size="5.6" style="stroke-width:1.00px;stroke:#c4c4c4" text-anchor="end" textLength="7.3" lengthAdjust="spacingAndGlyphs">600</text>
<text x="10.30" y="235.30" font-size="5.8" style="stroke-width:1.00px;stroke:#c4c4c4" text-anchor="middle" textLength="3.0" lengthAdjust="spacingAndGlyphs">0</text>
<text x="63.02" y="235.30" font-size="5.8" style="stroke-width:1.00px;stroke:#c4c4c4" text-anchor="middle" textLength="9.3" lengthAdjust="spacingAndGlyphs">200</text>
<text x="115.73" y="235.30" font-size="5.8" style="stroke-width:1.00px;stroke:#c4c4c4" text-anchor="middle" textLength="9.3" lengthAdjust="spacingAndGlyphs">400</text>
<text x="168.45" y="235.30" font-size="5.8" style="stroke-width:1.00px;stroke:#c4c4c4" text-anchor="middle" textLength="9.3" lengthAdjust="spacingAndGlyphs">600</text>
<text x="221.17" y="235.30" font-size="5.8" style="stroke-width:1.00px;stroke:#c4c4c4" text-anchor="middle" textLength="9.3" lengthAdjust="spacingAndGlyphs">800</text>
<text x="273.88" y="235.30" font-size="5.8" style="stroke-width:1.00px;stroke:#c4c4c4" text-anchor="middle" textLength="12.4" lengthAdjust="spacingAndGlyphs">1000</text>
<text x="326.60" y="235.30" font-size="5.8" style="stroke-width:1.00px;stroke:#c4c4c4" text-anchor="middle" textLength="12.4" lengthAdjust="spacingAndGlyphs">1200</text>
<rect x="252.70" y="143.70" width="70.80" height="39.70" fill="#fff" stroke="#ffffff" stroke-width="0.10"/>
<rect x="252.50" y="143.50" width="71.00" height="40.00" fill="none" stroke="#7c7c7c" stroke-width="1.00"/>
<path d="M254.00 148.00h18.2" stroke="#0072BD" stroke-width="2" stroke-opacity="0.62"/>
<text x="273.30" y="150.50" font-size="6.0" textLength="26.1" lengthAdjust="spacingAndGlyphs">PQWGAN</text>
<path d="M254.00 156.00h18.2" stroke="#D95319" stroke-width="2" stroke-opacity="0.62"/>
<text x="273.30" y="158.30" font-size="6.0" textLength="42.6" lengthAdjust="spacingAndGlyphs">WGAN-GP-Lite</text>
<path d="M254.00 164.00h18.2" stroke="#EDB120" stroke-width="2" stroke-opacity="0.62"/>
<text x="273.30" y="166.10" font-size="6.0" textLength="38.3" lengthAdjust="spacingAndGlyphs">WGAN-GP-Big</text>
<path d="M254.00 172.00h18.2" stroke="#7E2F8E" stroke-width="2" stroke-opacity="0.62"/>
<text x="273.30" y="173.90" font-size="6.0" textLength="47.4" lengthAdjust="spacingAndGlyphs">QuantumPatchGAN</text>
<path d="M254.00 180.00h18.2" stroke="#77AC30" stroke-width="2" stroke-opacity="0.62"/>
<text x="273.30" y="181.70" font-size="6.0" textLength="33.3" lengthAdjust="spacingAndGlyphs">QINN-QGAN</text>
<clipPath id="c3"><rect x="362.10" y="139.20" width="316.30" height="88.00"/></clipPath>
<text x="520.25" y="135.30" font-size="9.40" font-weight="normal" text-anchor="middle">Number 6 Wasserstein Distance</text>
<g clip-path="url(#c3)">
<path d="M362.10 214.50H678.40" stroke="#FF00FF" stroke-width="1.5" stroke-opacity="0.55" fill="none"/>
<g transform="matrix(0.263583 0 0 -0.125714 362.100 214.629)">
<path class="c" d="M0 0l1 12 1 7 1 21 1 2 1 17 1-19 1 3 1 35 1-18 1 35 1 40 1 9 1-22 1-7 1 32 1-61 1 54 1 69 1-17 1-8 1-41 1 21 1 11 1 18 1 13 1-16 1 31 1-43 1-39 1 104 1-113 1 38 1 54 1-53 1-8 1 11 1 61 1-42 1-51 1 3 1-4 1-39 1 56 1-22 1 15 1-8 1-19 1 53 1 32 1-77 1 66 1-109 1 45 1 4 1-5 1-37 1 69 1-24 1 0 1-76 1 35 1-4 1 41 1 0 1-10 1-40 1 65 1-43 1 35 1-20 1 6 1 1 1-13 1-26 1 27 1-5 1 14 1-43 1 26 1-12 1 44 1-38 1-25 1 25 1 22 1-4 1-21 1-4 1-7 1 30 1 1 1 4 1-53 1 39 1 4 1 28 1-23 1-7 1 8 1 1 1 22 1-39 1-25 1 19 1 27 1-8 1-3 1 7 1 4 1-10 1 4 1-23 1 19 1-15 1-2 1 22 1-38 1 21 1 28 1-23 1-1 1 12 1-1 1-26 1 5 1-3 1 14 1 3 1-14 1 1 1-6 1 1 1 11 1-8 1 25 1-12 1 5 1 9 1-33 1 30 1-7 1-13 1 0 1 14 1-11 1 3 1-23 1 4 1 24 1-38 1 7 1 7 1 0 1-22 1 24 1 2 1 7 1-14 1 6 1-1 1 16 1-21 1-3 1-1 1 12 1 6 1-19 1 38 1-27 1 8 1 2 1-18 1 11 1-3 1-6 1 8 1-15 1 1 1 11 1-1 1 12 1-26 1-5 1 18 1 4 1-3 1 1 1 15 1-13 1-17 1 18 1 1 1-3 1 24 1-6 1-20 1-7 1 3 1-3 1-11 1 24 1-18 1 17 1-13 1 2 1-9 1 5 1 16 1-8 1 11 1 21 1-45 1 25 1 5 1-32 1 19 1-2 1 6 1 17 1-15 1-12 1 0 1-5 1 15 1 13 1-20 1 14 1-30 1 16 1-2 1 6 1-2 1 4 1-22 1 25 1-4 1 15 1-23 1 19 1 7 1-10 1-4 1 6 1-2 1 14 1-2 1-12 1-20 1 10 1 16 1-4 1-7 1-21 1 15 1 40 1-37 1 22 1-22 1-10 1 11 1 23 1-9 1 2 1-11 1 10 1 1 1-4 1-7 1-13 1 32 1-6 1-6 1-18 1 38 1-34 1 25 1-5 1-23 1 19 1 28 1-29 1-15 1 11 1 3 1 10 1 1 1-17 1-2 1 19 1 11 1-38 1 18 1 13 1-33 1 18 1 18 1-11 1-17 1 24 1 11 1-15 1 4 1-10 1-5 1-25 1 28 1 12 1-39 1 6 1 2 1 12 1-9 1 13 1-8 1-13 1 25 1-13 1 8 1-36 1 22 1-9 1 11 1 23 1-15 1-2 1-12 1 14 1 16 1-2 1-36 1 23 1 4 1 7 1-27 1-9 1 24 1-9 1 2 1-21 1 19 1 8 1 2 1-32 1 13 1 17 1-10 1 0 1 14 1-30 1 11 1 23 1-27 1 2 1 19 1-28 1 11 1 14 1-5 1-4 1 2 1-3 1 25 1-29 1 7 1 20 1-18 1 11 1-25 1 5 1 45 1-18 1-19 1 2 1 12 1 10 1-41 1 22 1 17 1-19 1 38 1-18 1-19 1 16 1 2 1 1 1-20 1 5 1-12 1 9 1-10 1 0 1 42 1-13 1-17 1-11 1-3 1 11 1 8 1 3 1 1 1-5 1-4 1 9 1-6 1-2 1-22 1 16 1 1 1-4 1 9 1-2 1-4 1-17 1 20 1-27 1 16 1 19 1-10 1 6 1-15 1 26 1-10 1-24 1 32 1-6 1-24 1 16 1-17 1 6 1-8 1 13 1 17 1-11 1 16 1-12 1 3 1-6 1-9 1-6 1 0 1 9 1 7 1-7 1 13 1-9 1-1 1 1 1 7 1 4 1-8 1 2 1 13 1-45 1 30 1 0 1-16 1-6 1 28 1-1 1-22 1-3 1 28 1-17 1-2 1 23 1-8 1-16 1-13 1 0 1 18 1-15 1 24 1 9 1 0 1 0 1-3 1-12 1-6 1 5 1 0 1-12 1 15 1 20 1-13 1-9 1 1 1 18 1-28 1 14 1 14 1-31 1 4 1 11 1-6 1 16 1-23 1 18 1 5 1-9 1-18 1 15 1 17 1-6 1-1 1-22 1 29 1-40 1 13 1 32 1-23 1 4 1 12 1-23 1 6 1 21 1 2 1-14 1-9 1 21 1-25 1-10 1 25 1-2 1 6 1 22 1-59 1 26 1-12 1 8 1-15 1 9 1-5 1 0 1 33 1-4 1-3 1-1 1 11 1-44 1 18 1-4 1 24 1-9 1-12 1 18 1-19 1 20 1-19 1 8 1-14 1 15 1-10 1 8 1 4 1 13 1-29 1-3 1-1 1-7 1 9 1-5 1 1 1 9 1-21 1 14 1-1 1-17 1 12 1-10 1 9 1-1 1 7 1-3 1 1 1 18 1-3 1-32 1 20 1 15 1-7 1-31 1 8 1 9 1-20 1 33 1 10 1-14 1-17 1 30 1-9 1 5 1-9 1-16 1-6 1 30 1-13 1 7 1 19 1-13 1-30 1 50 1-14 1-14 1 6 1-18 1 17 1-6 1 23 1-22 1-16 1 34 1-4 1-9 1 4 1-24 1 42 1-27 1-4 1 8 1-17 1 13 1 11 1-15 1 12 1-30 1 25 1 21 1-14 1-6 1 7 1 6 1-12 1 8 1 4 1 13 1-27 1 12 1-9 1 5 1-28 1 32 1 5 1-25 1-1 1 7 1 10 1-5 1 11 1-13 1 12 1-25 1 20 1-3 1 8 1-6 1-3 1 21 1-35 1 34 1 6 1-43 1 26 1 22 1-30 1 3 1-1 1 2 1-12 1 13 1 12 1-15 1 9 1 8 1 1 1-18 1 15 1-13 1 17 1-17 1-3 1 5 1-2 1-14 1 15 1 15 1-22 1-8 1 29 1-15 1-22 1 2 1 29 1-22 1-13 1 21 1-3 1 12 1-6 1 4 1-18 1-4 1 13 1 17 1 7 1-23 1-35 1 35 1 23 1-36 1 14 1-3 1-13 1 12 1-7 1 15 1-23 1 10 1 7 1 5 1-11 1 15 1-33 1 30 1 0 1 7 1-16 1 13 1 7 1-49 1 53 1-30 1 6 1 11 1 13 1-20 1-1 1 17 1-13 1-30 1 2 1 48 1-48 1 23 1 8 1 8 1-21 1 19 1-17 1-13 1 4 1 3 1-7 1 21 1-5 1 16 1 1 1-25 1 5 1-22 1 42 1-26 1 14 1-8 1 11 1 16 1-15 1-7 1 0 1-6 1-5 1 9 1-5 1-2 1-15 1-2 1 14 1-7 1 39 1-8 1-2 1-4 1-19 1 4 1-6 1-1 1-4 1 25 1-12 1-3 1 0 1 5 1 13 1-14 1 4 1-18 1 43 1-28 1-4 1 3 1 19 1-5 1-46 1 29 1-14 1-9 1 23 1-4 1 27 1-25 1 16 1-22 1 10 1 5 1-4 1-19 1 20 1 26 1-10 1-11 1-4 1-2 1 1 1 14 1-10 1-18 1-4 1 26 1-10 1 15 1-16 1 4 1 5 1 7 1 2 1 12 1-16 1 1 1-21 1 10 1 2 1 23 1-23 1 7 1 5 1 8 1-17 1 34 1-27 1 1 1-14 1 2 1 13 1 10 1-7 1-12 1 4 1 28 1-22 1-5 1 5 1 3 1-33 1 35 1-28 1 20 1 10 1 5 1-6 1-9 1 15 1 8 1 2 1 0 1-35 1 13 1-6 1 22 1-15 1 9 1-2 1-7 1-10 1 23 1 1 1-15 1 5 1 9 1 0 1-13 1 18 1-25 1 34 1-13 1-15 1-3 1-5 1 18 1-25 1 8 1-17 1 28 1-15 1 33 1-10 1-7 1 11 1-7 1-12 1 7 1-1 1 0 1 22 1-27 1 27 1-6 1-33 1 37 1-20 1-17 1 17 1 4 1-9 1-23 1 24 1 8 1-37 1 19 1 34 1-21 1-2 1 1 1-4 1-8 1-1 1 14 1 5 1 20 1-20 1-11 1-27 1 29 1-3 1 13 1-11 1 15 1-34 1 11 1-1 1 10 1-11 1 17 1-2 1-13 1-19 1 41 1-10 1-13 1 9 1 27 1 1 1-30 1-4 1 11 1 13 1-1 1-30 1 26 1-26 1 11 1-5 1-5 1-7 1 34 1-9 1-9 1 4 1 5 1-6 1 28 1-39 1 23 1-28 1 21 1 7 1-10 1-2 1 25 1 1 1-36 1-15 1 11 1 12 1-4 1 18 1-31 1 11 1-1 1 21 1-22 1 43 1-48 1 2 1 20 1-8 1 7 1 3 1-5 1 16 1-21 1-12 1 29 1-19 1 16 1-21 1 6 1-7 1 8 1-12 1 13 1-33 1 33 1-12 1 11 1-1 1-20 1 16 1-2 1 8 1-11 1 13 1-18 1 20 1-3 1 5 1-24 1 7 1 27 1-23 1-5 1 23 1 1 1 0 1-37 1 22 1 30 1-12 1-17 1-18 1 33 1-13 1-19 1-13 1 45 1-16 1 3 1 6 1-13 1 13 1-30 1 53 1-18 1-4 1 10 1-35 1 36 1-41 1 52 1-39 1-2 1 7 1 0 1-2 1 24 1-23 1 8 1-5 1 13 1-7 1-23 1 10 1 6 1 21 1-26 1 19 1-17 1 18 1-2 1-22 1 10 1 26 1-13 1-30 1 10 1-17 1 45 1-26 1 8 1-6 1-2 1 4 1-31 1 41 1-12 1 7 1-3 1 12 1-18 1 2 1-12 1 20 1-5 1 11 1 3 1-5 1-5 1-14 1 22 1-34 1 29 1 7 1 7 1 1 1-19 1 6 1-1 1-9 1 16 1-20 1 27 1-24 1 13 1-20 1 38 1-28 1 39 1-29 1 25 1-18 1 1 1-21 1 13 1-5 1-11 1 3 1 5 1 20 1 10 1-19 1-2 1 1 1-6 1 11 1 0 1-15 1 14 1-1 1-11 1 5 1-35 1 22 1 20 1-17 1 30 1-25 1 4 1-7 1 10 1 3 1-9 1 4 1-8 1 22 1-32 1 13 1 1 1-14 1 26 1-3 1 2 1 0 1-35 1 50 1-31 1 7 1-13 1 15 1 9 1 1 1-9 1 11 1 9 1-26 1 3 1 3 1 14 1-8 1-12 1 30 1-15 1-6" stroke="#0072BD"/>
<path class="c" d="M0 0l1 6 1 9 1 13 1-2 1 18 1-3 1 16 1 4 1 19 1 0 1 10 1 6 1 9 1 9 1-2 1 5 1 12 1 14 1 5 1 2 1 15 1-3 1 28 1-7 1 22 1-8 1 7 1-6 1 36 1 12 1-6 1 23 1 4 1-13 1 2 1 23 1-9 1 3 1 5 1-11 1-26 1 15 1-1 1 8 1 8 1-31 1-5 1-10 1-34 1 7 1-2 1-21 1 15 1-39 1-9 1 23 1-16 1-13 1-16 1 1 1-15 1-16 1 0 1-29 1 2 1-9 1-20 1-9 1 20 1-8 1-17 1 25 1 5 1-9 1-12 1 13 1 7 1 25 1-28 1 10 1-7 1 9 1-18 1 14 1 1 1 21 1-26 1-8 1 12 1-6 1 23 1 0 1-10 1 4 1 3 1-2 1 8 1-25 1 1 1 3 1-9 1 11 1-13 1-19 1 8 1-11 1 12 1 8 1-13 1-13 1 4 1-5 1 7 1 7 1-7 1 5 1-26 1 23 1-13 1 7 1-13 1 13 1-16 1 9 1 0 1-4 1 3 1-12 1 21 1-1 1-20 1 4 1 9 1-15 1 1 1 3 1 5 1 0 1 7 1-7 1 0 1 5 1-14 1 7 1-14 1 22 1-22 1 9 1-3 1 20 1-14 1 6 1-18 1 19 1-4 1-14 1 8 1 12 1-21 1 9 1 14 1-10 1 2 1 10 1-23 1 8 1-2 1-8 1-7 1 17 1-5 1 9 1 3 1 2 1-12 1 11 1-3 1-25 1 16 1-1 1 17 1-17 1-4 1 12 1-7 1-15 1 13 1 12 1-15 1-5 1 1 1 1 1 11 1 0 1-7 1 4 1 1 1-5 1-13 1 1 1 12 1-5 1 15 1-19 1 1 1 14 1-11 1-6 1 11 1-3 1-5 1-12 1 6 1 18 1-15 1 1 1-1 1 2 1 8 1-11 1 13 1-1 1-16 1-1 1-6 1 14 1 3 1-1 1-8 1 4 1-4 1 2 1-9 1 11 1-8 1 8 1-4 1-8 1 14 1-6 1-11 1 12 1-5 1 3 1-7 1 11 1-16 1 11 1-12 1 13 1 4 1-6 1-15 1 21 1-16 1-2 1 8 1 4 1-10 1 8 1 6 1-5 1-3 1-3 1 1 1 4 1-12 1 9 1 7 1 4 1-25 1 6 1-1 1 25 1-21 1-12 1 22 1 0 1 2 1-11 1 7 1-3 1-3 1 3 1-4 1 11 1-10 1 4 1 2 1-4 1 3 1 2 1-1 1 3 1-9 1 15 1-7 1 7 1-5 1-5 1 6 1 3 1-7 1-3 1 7 1 8 1 3 1 4 1-2 1-8 1 1 1 1 1 7 1-15 1 16 1-7 1-7 1 0 1-1 1 8 1 12 1-1 1-16 1-5 1 15 1-5 1 2 1 7 1-15 1 8 1-8 1 2 1 6 1 11 1-1 1-12 1 1 1 6 1-1 1-12 1 2 1 3 1-1 1-4 1 8 1-6 1-2 1 7 1 1 1 7 1-1 1-5 1-5 1 3 1 1 1-8 1 10 1 0 1-20 1 8 1 8 1 3 1 13 1 1 1-5 1 5 1-3 1 7 1 12 1-9 1 1 1 4 1 4 1-9 1 8 1 2 1 6 1-2 1 7 1 1 1-9 1 3 1 10 1 8 1-8 1-7 1-1 1 15 1-11 1 4 1 11 1-15 1 0 1 4 1 4 1 12 1-5 1-13 1 12 1-11 1 19 1-12 1 9 1-15 1 4 1 5 1-15 1 3 1 7 1 4 1-8 1 6 1 1 1-5 1 6 1-19 1 4 1 5 1-6 1-6 1 9 1 2 1-7 1-2 1-1 1 3 1 6 1-9 1 1 1 7 1-7 1-2 1 14 1-19 1 11 1-6 1-4 1 1 1-12 1 19 1-9 1 3 1-4 1 0 1-3 1-19 1 17 1 2 1-4 1-7 1 11 1-4 1 5 1-11 1-8 1 1 1-2 1 11 1-7 1-10 1 15 1 3 1 2 1-7 1 4 1-10 1 11 1 1 1 3 1-8 1-9 1-9 1 16 1-5 1 7 1-5 1-2 1 14 1-6 1-8 1 7 1 0 1 3 1-12 1 9 1-9 1 12 1-1 1-6 1-5 1 0 1 9 1 1 1-8 1 4 1-10 1 16 1-10 1-6 1 4 1 1 1 1 1 13 1-8 1-1 1-3 1-17 1 15 1-9 1 6 1 6 1-15 1 8 1-3 1-4 1 9 1-3 1-9 1 16 1-18 1 26 1-10 1-2 1 5 1-10 1-3 1 14 1-19 1 17 1-8 1 8 1-7 1 3 1-7 1 8 1 5 1-7 1-7 1 15 1-18 1 22 1-20 1 4 1-2 1 8 1-8 1-3 1 13 1-11 1-8 1-1 1 11 1-5 1 2 1-2 1 4 1-4 1-10 1 11 1-1 1 7 1-13 1 13 1-10 1 7 1 9 1-20 1 19 1-13 1 1 1-5 1-8 1 19 1-14 1 28 1-9 1-7 1 3 1-3 1 20 1-12 1 0 1 3 1 2 1 1 1-7 1-2 1 11 1 5 1 2 1-22 1-8 1 8 1 1 1 12 1-6 1-9 1-8 1 21 1-21 1 21 1-13 1 17 1-15 1 8 1-2 1-24 1 7 1 1 1 17 1-21 1 18 1 5 1-13 1 9 1-13 1 9 1-13 1 20 1-16 1 14 1-14 1 18 1-12 1 12 1-3 1-5 1-2 1 12 1-24 1 32 1-9 1 9 1-2 1-14 1-6 1 15 1-13 1 4 1 0 1 5 1 1 1-4 1 9 1 4 1-21 1 18 1-6 1-8 1 3 1 9 1-5 1-7 1 1 1-2 1-4 1 17 1-11 1-1 1 1 1-2 1-2 1 0 1 7 1 9 1-19 1 2 1 3 1 6 1-3 1-6 1-9 1 16 1-2 1-6 1 10 1-3 1 1 1 2 1-24 1 25 1-11 1 3 1-11 1 17 1-10 1 11 1-12 1 3 1 8 1-16 1 6 1 12 1 6 1 1 1-9 1 14 1 3 1-10 1-4 1-18 1 27 1 0 1-13 1-2 1 16 1-16 1 16 1 2 1-23 1 12 1 2 1 3 1 1 1 2 1-9 1-8 1 2 1 17 1-9 1 2 1-1 1-3 1 5 1 3 1-7 1 9 1-2 1-10 1 10 1 11 1-19 1 7 1 1 1-4 1-2 1-5 1-2 1 3 1 5 1-7 1 9 1-2 1-20 1 14 1-7 1 2 1-6 1 18 1-7 1 0 1 3 1-13 1 5 1 8 1-6 1 10 1 2 1-1 1-2 1-3 1 9 1 0 1-16 1 8 1-5 1 2 1 8 1 8 1-13 1 1 1 12 1 0 1-20 1 11 1-18 1 33 1-15 1 14 1-33 1 6 1 0 1 3 1 16 1 16 1-29 1 7 1 3 1-6 1 5 1 21 1-11 1-27 1 6 1-8 1 33 1-2 1-11 1-21 1 37 1-11 1-5 1-2 1 17 1-13 1 10 1-22 1 9 1 2 1-2 1 6 1 1 1-16 1-10 1 0 1 25 1-16 1 13 1-13 1 13 1 10 1-32 1 15 1 5 1-9 1 15 1 1 1-1 1-16 1 5 1 0 1 7 1-14 1 3 1 27 1-20 1 24 1-23 1 5 1-4 1 12 1 18 1-7 1-9 1-20 1 21 1 10 1-13 1 1 1 1 1 14 1-19 1-7 1 21 1-4 1-7 1-1 1-19 1 22 1 0 1-17 1 14 1 10 1-24 1 15 1-11 1 14 1-6 1 12 1-9 1-1 1-4 1 0 1 6 1-22 1 27 1-11 1-2 1-10 1-11 1 25 1-5 1-14 1 20 1 1 1-8 1 4 1 17 1-26 1 3 1 2 1 3 1-14 1 30 1-29 1 10 1 9 1 5 1 3 1-10 1-10 1 4 1-9 1-5 1 22 1 9 1 1 1-8 1-13 1-2 1 7 1 7 1-1 1 23 1-15 1-2 1-22 1 7 1 15 1-5 1 16 1-9 1-5 1 2 1 2 1-10 1-7 1 7 1 0 1-2 1 2 1 11 1 15 1-31 1-2 1 1 1 13 1-22 1 3 1 8 1-9 1 25 1-28 1 11 1-23 1 15 1 0 1 14 1-18 1 31 1-29 1-1 1 9 1-8 1 16 1-4 1-13 1 2 1-1 1 18 1-11 1 8 1 4 1 7 1-20 1 21 1-6 1-8 1-1 1 3 1 16 1-6 1 9 1-15 1 16 1-1 1-24 1 20 1 29 1-28 1-20 1 30 1 3 1-5 1 13 1-13 1 20 1-34 1-3 1 25 1 11 1-20 1-14 1 22 1-13 1 11 1-21 1-2 1-2 1 6 1-4 1 38 1-29 1-2 1 7 1-12 1-8 1 17 1-5 1-25 1 33 1-27 1 17 1-16 1 5 1-8 1 14 1 2 1-16 1 15 1 0 1-18 1 28 1 25 1-26 1-17 1-1 1 10 1 1 1 0 1 7 1 21 1-31 1 19 1-31 1 24 1 18 1-36 1 22 1-12 1-4 1 6 1-10 1 42 1-11 1-27 1-21 1 6 1 14 1 19 1-14 1-17 1 12 1 26 1-18 1 2 1-8 1 3 1-5 1 4 1 19 1-15 1 1 1-7 1 8 1-9 1 6 1 50 1-30 1-7 1 1 1-13 1 3 1 8 1-4 1-5 1 1 1-5 1 17 1-4 1 35 1-47 1 7 1 5 1-19 1 10 1-9 1 50 1-31 1-28 1-9 1 29 1 11 1-33 1 16 1-18 1 57 1-53 1 9 1 32 1 23 1-3 1-53 1-6 1 1 1 30 1-17 1 5 1-4 1-30 1 17 1-7 1 10 1 17 1 7 1-28 1 13 1-4 1 35 1-16 1-27 1 23 1-28 1 15 1-18 1 66 1-55 1 14 1 4 1-19 1-11 1 4 1 40 1-13 1 12 1-23 1-6 1 24 1 40 1-51 1 64 1-68 1-15 1 24 1-31 1 15 1 39 1-4 1-25 1-7 1 65 1-83 1 29 1-17 1-3 1-6 1-13 1 11 1-18 1 12 1 65 1-74 1 37 1-24 1 55 1-52 1 2 1 75 1-94 1 19 1 9 1-28 1 38 1 58 1-53 1-11 1-18 1 15 1 45 1-17 1-39 1 73 1 25 1-74 1 25 1 42 1-17 1-35 1-32 1 17 1-10 1 21 1-18 1 15 1 28 1-57 1 72 1-52 1-5 1 5" stroke="#D95319"/>
<path class="c" d="M0 0l1 12 1 5 1 7 1 10 1 4 1 15 1-1 1 9 1 18 1 6 1 4 1 18 1 11 1 1 1 17 1 1 1 9 1 9 1 15 1 7 1 5 1 11 1-2 1 25 1 5 1 0 1 14 1 3 1-12 1 34 1-15 1 17 1 11 1 6 1 28 1 12 1-36 1 9 1-7 1 19 1-24 1 27 1-6 1 12 1-4 1-20 1-52 1 38 1-28 1-16 1-7 1 14 1-47 1 14 1-13 1-31 1-8 1-31 1-7 1-4 1-13 1-12 1-31 1-11 1-4 1 12 1-49 1-17 1 13 1-24 1 32 1 20 1-44 1 24 1-7 1 11 1 1 1-7 1 13 1 25 1-19 1 1 1 29 1-10 1-4 1 5 1 24 1-29 1-1 1 21 1-2 1 21 1-8 1-7 1 11 1 11 1-2 1-21 1 19 1-8 1-10 1 2 1-13 1-8 1-4 1 0 1-12 1 0 1 2 1-4 1-10 1-4 1-5 1 11 1-9 1-15 1 15 1-10 1 10 1-1 1 6 1-3 1-5 1-7 1-3 1 6 1-6 1 7 1-7 1-1 1 21 1-14 1-2 1-7 1 2 1 10 1-8 1 6 1 3 1 7 1 6 1-4 1-10 1 10 1 6 1-14 1 19 1-23 1 13 1 6 1-18 1 10 1-10 1-1 1 6 1 6 1-3 1 12 1 4 1-12 1-1 1 1 1-2 1-2 1 0 1 20 1-14 1 4 1-16 1 12 1 14 1-13 1 12 1-3 1-15 1 0 1-6 1 22 1-20 1 11 1-6 1 0 1 10 1-6 1 13 1-28 1 30 1-17 1 8 1 1 1-4 1 1 1-5 1 7 1 2 1-12 1 2 1-2 1-6 1 14 1-12 1 11 1 2 1-7 1-2 1 0 1 7 1 0 1 2 1 2 1 2 1-23 1 7 1 5 1-4 1 14 1-13 1 2 1-5 1 2 1 5 1-2 1-1 1-2 1-10 1 13 1-8 1 6 1-9 1 17 1-9 1-11 1-4 1 5 1 10 1 0 1-2 1 3 1-14 1 0 1 8 1-6 1 0 1-4 1 15 1 0 1-7 1 3 1-1 1-1 1 10 1-6 1-21 1 15 1 1 1 7 1-1 1 4 1-16 1 7 1 3 1-7 1 17 1-16 1 1 1 8 1-3 1 2 1-7 1 2 1 17 1-7 1-12 1 1 1-11 1 10 1 3 1-2 1-5 1-4 1 2 1 11 1-9 1 19 1-22 1 8 1-12 1 13 1 4 1 4 1 0 1-7 1-6 1 17 1-17 1-4 1 12 1 5 1-5 1 1 1-10 1 15 1-10 1 3 1-12 1 17 1-4 1 10 1-7 1 2 1-10 1 6 1 9 1-2 1-18 1 16 1 1 1-4 1 9 1-1 1-24 1 18 1-3 1 4 1 2 1-6 1 2 1 10 1-11 1-4 1 5 1-7 1 14 1-3 1-4 1-7 1 8 1 1 1 10 1-6 1 0 1-15 1 7 1 10 1-15 1 3 1-8 1 13 1 4 1 0 1-8 1-4 1 7 1 2 1 6 1-8 1 10 1-10 1-3 1 0 1-4 1 0 1 6 1-4 1 8 1-7 1 6 1-6 1-6 1 21 1-19 1-1 1 3 1 5 1 1 1-8 1-3 1-3 1 23 1-13 1 7 1-17 1 18 1 3 1-12 1-1 1 17 1-11 1 0 1 1 1 4 1-4 1-3 1 10 1-7 1 0 1-5 1 13 1 3 1 9 1-24 1 9 1 9 1-18 1 15 1 1 1-12 1 0 1 4 1-1 1 0 1 6 1-3 1-7 1 14 1-6 1-14 1 18 1-4 1 7 1-10 1 4 1-11 1 1 1-7 1-1 1 14 1-5 1-4 1-5 1 0 1 6 1 3 1-7 1 12 1-1 1-18 1 17 1-16 1 17 1-1 1-9 1 2 1-8 1 9 1-2 1 0 1 0 1-10 1 13 1-3 1 13 1-9 1-4 1 2 1 4 1 3 1 10 1-16 1 8 1-22 1 14 1 5 1 3 1-4 1-3 1-5 1 11 1 2 1-5 1-1 1 2 1 5 1-8 1 7 1 10 1-18 1 5 1 1 1 8 1-11 1 7 1-6 1 1 1-3 1 3 1 14 1-6 1 10 1-5 1-3 1-5 1-2 1 8 1-11 1 0 1-8 1 13 1 0 1-1 1-1 1 6 1-4 1-1 1-5 1-14 1 28 1-31 1-2 1 17 1 6 1-8 1-19 1 23 1-21 1-8 1 16 1 2 1 1 1-7 1 0 1 2 1-5 1 8 1 9 1-10 1 8 1-7 1 4 1 0 1-14 1-5 1 19 1-11 1 5 1-9 1 11 1 5 1 2 1 7 1-14 1 2 1-4 1 8 1 6 1 2 1-6 1-16 1 20 1-5 1 16 1-22 1 7 1-14 1 10 1 3 1 14 1-10 1-12 1 7 1 16 1-13 1 2 1-3 1-3 1 12 1-16 1 12 1 0 1-10 1 5 1 0 1-9 1-12 1 30 1-21 1 11 1-3 1 4 1 8 1-8 1 0 1 1 1-3 1 3 1-10 1 3 1 26 1-23 1 4 1 2 1 2 1 6 1-13 1 11 1-5 1-3 1-10 1-1 1 14 1-2 1-8 1 11 1-2 1-7 1 8 1-11 1 10 1-14 1-1 1 14 1-2 1-9 1-4 1 11 1-11 1 9 1 7 1-24 1 15 1-7 1-4 1 12 1-8 1 18 1-11 1 10 1-16 1 12 1-4 1-4 1 10 1-9 1 2 1 0 1-6 1 7 1-17 1 28 1-11 1 10 1 0 1-15 1 22 1-6 1-14 1 17 1 4 1-10 1 7 1 10 1-25 1 7 1-1 1 11 1-10 1-2 1-6 1 9 1 19 1-14 1 16 1-14 1 11 1-3 1 2 1-5 1 0 1 1 1 12 1 10 1-29 1 14 1-28 1 36 1-25 1 3 1 22 1-13 1 5 1 1 1-16 1 13 1 3 1-6 1-1 1-3 1 14 1-21 1 38 1-23 1-3 1 23 1-39 1 22 1-12 1 21 1-13 1 4 1-5 1-5 1 1 1-13 1 40 1-26 1 23 1 5 1-31 1-11 1-1 1 33 1-10 1 0 1 9 1-24 1-9 1 18 1 20 1-8 1 4 1-30 1 6 1 19 1-19 1-12 1-11 1 1 1 34 1-4 1-9 1-14 1 72 1-46 1 3 1-6 1-13 1 11 1 9 1 2 1 0 1 5 1-37 1 6 1-9 1 25 1-14 1 4 1 52 1-26 1 23 1-44 1 14 1 29 1-41 1 61 1-64 1 7 1 11 1-13 1 14 1 20 1-34 1 3 1 27 1-10 1 2 1-27 1 91 1-65 1 3 1-41 1 21 1 27 1-7 1-6 1-23 1 27 1-32 1-1 1 50 1-13 1 13 1-21 1 38 1-16 1-12 1-9 1 12 1-37 1 42 1 10 1 34 1-7 1-45 1-9 1-19 1 14 1-9 1 26 1 5 1 1 1-50 1 65 1-2 1 20 1-15 1-46 1 13 1-14 1-13 1 2 1 32 1 6 1-39 1 27 1-3 1 2 1-19 1 5 1 19 1-28 1 51 1-37 1 44 1 0 1-26 1 12 1 17 1-41 1-40 1 67 1-15 1 1 1 11 1 28 1-58 1 4 1-12 1-10 1-12 1 44 1-13 1-26 1 64 1-86 1 46 1 86 1-100 1 63 1-56 1 10 1 18 1-19 1-6 1 6 1-15 1 27 1 12 1 23 1-28 1-43 1 108 1-89 1 7 1-23 1 26 1-42 1 4 1 26 1 20 1-12 1 24 1 17 1 24 1-105 1 27 1 6 1-8 1-3 1 34 1-52 1 82 1-30 1-8 1-11 1 18 1-46 1 6 1 41 1-21 1 14 1 71 1-62 1-21 1 27 1 27 1-46 1 17 1 0 1 8 1 40 1-61 1-27 1 10 1 10 1-14 1 24 1-25 1 15 1-29 1 22 1 6 1-3 1 84 1-101 1 1 1 17 1-15 1 26 1-3 1 2 1-5 1-10 1 47 1-64 1 8 1 31 1-11 1 1 1 12 1-34 1 55 1-23 1-17 1-13 1 2 1 23 1-9 1-36 1 34 1-5 1 68 1-101 1 56 1 56 1-77 1 9 1-25 1 71 1-25 1 16 1-34 1-7 1 89 1-115 1 26 1 11 1-7 1 26 1-24 1 29 1-23 1-21 1-7 1 15 1 4 1 2 1 41 1 10 1-66 1 92 1-77 1 101 1-130 1 36 1 24 1-71 1 122 1-22 1-82 1 17 1 16 1 71 1-61 1-22 1-11 1 5 1-3 1 15 1 17 1-1 1 2 1-34 1 69 1-78 1 31 1 70 1-91 1 5 1 6 1 11 1 6 1 44 1-78 1 48 1 0 1-47 1 15 1 43 1 18 1-23 1-39 1-1 1-19 1 60 1-44 1 13 1 25 1-70 1-6 1 37 1 3 1 7 1-10 1-30 1 11 1 73 1-35 1-26 1 26 1-27 1 25 1 14 1-18 1 29 1-29 1 1 1-13 1 2 1 4 1-13 1 27 1-4 1 2 1-39 1 60 1-35 1-1 1 10 1-12 1-40 1 35 1-9 1 26 1 83 1-90 1 2 1-31 1 18 1-25 1 21 1-4 1 105 1-102 1 40 1 26 1-61 1 31 1-12 1-8 1 13 1 3 1 39 1-36 1-20 1-16 1 26 1 4 1-23 1-12 1 9 1 8 1 62 1-71 1 69 1-60 1-17 1 31 1-5 1 63 1-94 1-3 1 7 1 24 1 109 1-111 1 108 1-130 1 39 1-46 1 45 1 52 1-83 1 19 1 104 1-127 1-6 1 45 1-19 1-1 1-27 1 50 1 64 1-97 1 114 1-103 1-5 1 40 1-33 1 31 1-13 1-41 1 56 1 55 1-101 1-26 1 137 1-96 1 5 1-12 1 7 1-32 1 28 1 3 1 14 1-14 1 1 1-42 1 68 1-43 1 91 1 4 1-84 1 6 1-13 1-20 1 31 1-27 1 69 1-29 1-63 1 50 1-28 1 13 1-22 1 5 1 26 1-48 1 49 1-3 1 24 1-57 1 32 1-12 1 18 1-5 1-22 1 18 1 35 1-38 1 66 1-74 1 51 1-9 1-50 1 92 1-11 1 30 1-48 1-4 1-50 1 19 1 72 1-26 1-15 1-45 1 9 1-5 1-15 1 48 1-32 1-13 1 29 1-16 1 23 1 32 1-44 1-14 1-10 1 97" stroke="#EDB120"/>
<path class="c" d="M0 0l1 7 1 6 1 6 1 6 1 5 1 6 1 0 1 16 1 5 1 11 1 4 1 8 1 0 1 4 1 10 1 8 1 24 1 4 1 16 1 1 1 15 1 13 1 21 1 8 1 17 1 25 1-4 1 23 1 2 1 12 1 7 1 31 1 2 1-1 1-4 1 20 1 7 1 12 1 8 1 14 1 9 1 10 1-7 1 4 1 12 1 33 1 1 1-8 1 5 1-27 1 39 1-14 1-17 1-16 1 39 1 10 1-46 1 64 1-33 1 2 1-7 1 26 1-5 1-3 1 19 1-19 1 20 1-40 1 39 1-26 1 5 1-8 1 19 1-29 1 1 1 9 1-48 1 80 1-47 1 28 1 2 1 12 1-13 1-46 1 12 1 17 1-10 1 10 1-12 1-3 1 31 1-11 1 8 1-46 1 17 1 18 1-20 1 15 1-40 1 27 1-74 1 68 1-25 1 33 1-13 1-24 1-3 1 38 1-23 1-19 1 1 1 37 1 6 1-23 1-18 1-17 1 31 1-17 1 2 1 3 1-2 1 5 1 14 1 5 1-10 1-31 1-28 1-1 1 59 1-6 1-13 1-17 1 12 1-45 1 61 1-29 1 32 1-7 1-21 1-12 1 35 1-3 1-25 1 6 1-38 1 14 1 35 1-15 1-28 1 26 1 3 1-19 1-11 1-11 1 18 1-43 1 38 1 16 1-21 1 7 1-13 1-3 1 22 1-25 1 5 1 25 1-34 1 12 1 11 1-33 1 24 1-21 1-1 1 32 1-27 1-16 1-6 1 18 1-14 1 20 1-21 1 17 1-24 1 15 1-5 1-10 1 32 1-32 1-9 1 15 1-3 1 11 1-3 1-13 1 24 1-46 1 33 1 9 1-36 1 21 1-30 1 15 1 1 1 4 1-52 1 38 1 4 1 7 1 8 1-38 1 6 1-40 1 61 1 15 1-15 1-12 1-14 1 12 1-21 1-5 1 5 1 36 1-30 1 23 1-45 1 46 1 2 1-6 1-35 1-13 1-14 1 25 1 12 1-15 1 11 1 15 1-35 1 18 1-6 1 3 1-12 1 6 1-2 1 22 1-5 1-9 1-23 1 27 1-15 1 5 1 7 1-30 1 20 1-50 1 49 1-3 1-22 1 19 1 2 1-23 1-4 1 12 1-10 1 14 1-9 1-19 1 35 1-5 1-47 1 19 1 28 1-26 1 27 1 1 1-37 1 15 1-13 1 28 1 5 1-24 1 15 1-30 1 32 1-23 1-18 1 34 1-7 1-6 1 10 1-9 1-2 1-17 1 14 1-4 1-7 1 17 1-11 1-14 1 16 1-12 1-1 1-11 1 21 1 6 1-33 1 21 1-9 1-1 1 21 1-13 1 4 1-66 1 58 1-6 1-1 1-1 1-9 1 17 1-30 1 23 1-3 1-23 1-32 1 62 1-7 1-44 1 13 1 17 1 9 1-28 1-29 1 30 1 28 1-74 1 40 1 0 1 25 1-27 1 21 1-21 1-7 1 31 1-33 1 8 1-2 1 14 1-16 1 1 1 14 1-12 1-5 1 10 1-31 1 25 1 8 1-44 1 30 1 11 1-2 1-10 1-21 1 22 1 22 1-8 1-18 1 17 1 8 1-5 1-28 1 15 1-39 1 54 1-19 1 2 1 0 1 4 1-5 1 5 1-13 1 10 1 2 1-6 1-6 1-11 1 0 1 9 1 5 1 8 1-21 1 6 1 14 1-10 1 4 1-9 1-50 1 52 1-33 1 26 1 22 1-1 1-22 1-6 1 13 1-11 1 26 1-27 1 26 1-18 1-6 1 5 1-4 1 8 1-9 1-2 1 3 1 12 1-18 1 10 1-36 1-4 1 42 1-1 1-15 1-1 1 20 1-8 1 3 1-16 1 18 1-3 1 2 1-22 1 14 1-23 1 19 1-2 1-17 1 20 1-29 1-4 1 12 1 14 1 3 1 1 1-4 1 1 1-7 1-12 1-4 1-13 1 18 1-1 1 9 1-10 1 12 1-21 1 27 1-5 1-10 1 2 1-15 1 12 1-12 1-17 1 39 1-1 1-2 1-23 1 17 1-3 1-5 1 2 1 9 1-15 1 5 1 7 1-6 1 6 1-15 1-4 1 14 1 5 1-12 1 5 1-10 1 18 1-6 1 8 1-6 1-17 1 15 1-14 1-1 1 18 1-11 1 7 1-5 1 16 1-31 1 30 1-25 1 1 1 14 1-7 1 13 1-16 1-1 1-4 1 11 1 6 1-8 1-12 1 0 1 16 1-14 1 1 1 1 1 9 1-8 1 3 1 11 1-14 1 4 1-8 1-2 1-8 1 9 1 1 1 9 1-13 1 14 1-2 1 0 1 2 1-12 1-7 1 4 1-10 1-1 1 2 1 8 1-6 1-25 1 26 1-4 1 15 1-19 1 15 1-2 1-15 1 10 1-9 1 15 1 1 1-18 1 7 1 7 1-9 1 3 1 6 1-6 1 9 1 2 1-16 1-1 1 3 1 9 1-8 1-6 1 14 1-24 1 16 1 13 1 1 1-5 1 0 1 1 1-1 1-1 1-13 1 4 1-12 1-3 1 16 1-3 1 2 1-6 1 4 1 4 1 8 1-11 1 11 1-1 1-16 1 5 1-3 1-6 1 1 1 9 1-7 1-5 1-1 1 12 1-7 1 5 1-10 1 6 1-5 1 15 1-13 1-1 1-9 1 14 1 9 1-16 1 11 1 3 1-20 1-3 1 18 1 1 1-4 1 2 1 5 1-10 1 10 1-25 1 20 1 2 1-12 1-2 1 15 1-6 1-3 1 0 1 9 1-13 1 17 1-5 1 1 1 4 1-16 1 12 1 2 1 1 1-11 1 8 1 3 1-6 1-7 1 8 1 7 1-10 1 15 1 0 1-11 1 9 1-10 1 1 1-14 1 18 1-3 1-3 1 5 1 4 1-4 1 6 1-2 1-2 1-9 1-6 1 7 1 6 1-1 1 8 1-13 1 2 1 12 1-6 1 4 1-9 1-6 1 20 1-6 1 2 1-8 1 4 1-8 1 2 1 0 1 11 1 3 1-6 1-1 1-3 1-6 1 12 1-1 1 2 1-2 1-3 1-2 1-8 1 13 1-15 1 16 1-4 1-17 1 12 1 8 1-15 1 7 1-2 1 10 1-15 1 13 1-8 1-9 1 7 1 3 1 3 1 1 1-5 1-10 1 8 1-8 1 11 1 4 1-16 1 4 1 9 1 5 1-12 1 4 1-3 1 10 1-15 1 12 1 5 1-10 1-3 1 3 1 8 1-7 1 2 1-1 1 4 1 1 1-8 1 7 1 0 1 3 1-7 1-2 1 7 1 2 1-5 1 1 1 8 1-5 1-5 1 11 1-4 1-11 1-1 1 9 1-8 1 1 1-9 1 9 1 0 1 4 1-6 1 6 1-2 1 2 1-5 1 6 1 6 1-13 1-1 1 15 1-8 1 9 1-6 1-10 1 0 1-1 1-6 1 12 1-2 1-4 1 6 1 2 1 11 1-2 1-17 1 5 1 13 1-9 1 6 1-8 1 8 1-9 1 11 1 4 1-13 1 13 1-8 1-5 1 2 1 4 1 0 1 0 1 7 1-14 1 8 1 2 1-2 1-8 1 14 1-8 1 7 1-3 1-10 1 1 1 7 1 4 1-11 1 0 1 12 1-8 1 5 1-9 1 12 1-11 1 10 1-17 1 11 1-5 1 5 1-10 1 1 1 6 1-9 1 2 1-3 1 14 1-8 1-1 1 10 1-2 1-5 1 5 1-13 1 5 1-5 1 1 1 8 1-1 1-3 1-1 1 2 1 6 1 2 1 0 1 0 1 3 1-8 1 7 1-4 1 5 1-5 1 6 1-10 1 10 1-2 1-2 1-3 1 13 1-1 1-1 1-5 1-3 1 4 1-15 1 21 1-17 1 3 1 5 1 2 1-7 1 3 1-2 1 8 1 2 1-9 1 2 1 10 1-2 1-3 1 1 1-1 1 0 1 1 1 8 1-13 1 4 1 6 1-6 1 1 1-5 1 17 1-1 1-7 1 1 1-1 1-13 1 9 1 9 1-11 1-4 1 5 1 7 1 1 1-6 1 4 1-4 1 7 1-1 1-11 1 9 1-6 1 6 1-6 1 10 1-13 1 6 1-5 1 0 1-2 1 4 1 3 1-3 1 5 1 1 1-5 1-12 1 15 1-10 1 11 1-8 1 4 1-7 1 8 1-4 1 8 1-13 1 7 1-9 1 14 1-5 1-8 1-4 1 6 1 0 1 1 1 1 1-3 1-2 1 15 1 0 1-15 1 0 1 2 1 11 1-8 1-6 1 11 1-7 1 2 1 1 1-5 1 3 1 3 1-6 1 12 1 1 1-5 1-2 1 5 1-9 1 7 1-6 1-4 1 2 1 5 1-2 1 7 1-5 1 5 1-12 1 1 1 5 1-3 1-4 1 12 1-11 1-1 1 12 1-12 1 2 1 1 1 11 1-2 1-6 1 0 1-4 1 15 1-22 1 18 1-4 1 8 1-4 1 6 1-8 1-6 1 14 1-7 1-1 1 4 1 1 1-5 1 7 1 5 1-2 1 1 1 2 1-14 1 3 1 8 1-8 1 2 1 5 1-8 1 2 1 0 1 7 1-6 1-4 1-1 1 1 1 10 1-15 1 13 1-4 1-6 1-5 1 14 1-5 1 1 1-4 1-7 1 1 1 9 1-12 1 2 1 13 1-3 1-5 1 8 1-13 1-8 1 13 1-7 1 12 1-1 1-6 1 3 1-5 1 5 1-2 1 0 1 3 1 3 1-1 1-17 1 23 1-7 1-5 1 5 1 2 1-4 1-5 1 5 1 6 1 1 1-11 1 3 1 11 1-2 1-12 1 8 1 4 1-9 1 1 1-2 1 14 1-8 1-5 1 2 1 8 1-10 1 14 1-13 1 4 1 2 1 5 1-6 1 3 1 6 1-13 1-8 1 7 1 10 1-4 1-5 1 6 1-3 1-4 1 7 1 5 1-8 1 0 1 3 1-10 1 6 1-7 1 0 1 8 1-1 1 2 1-15 1 15 1-8 1 5 1 2 1 0 1 1 1-10 1 7 1-2 1-7 1 0 1 0 1 13 1-10 1-1 1-1 1 9 1-2 1 0 1 3 1-10 1 2 1 4 1-5 1 7 1 6 1-12 1 7 1-10 1 16 1-6 1 7 1-15 1 5 1 1 1-11 1 13 1-7 1-1 1 7 1-6 1 10 1-8 1 3 1-2 1 10 1-1 1-9 1 6 1-3 1 2 1 4 1-8 1 1 1 6 1-6 1-5" stroke="#7E2F8E"/>
<path class="c" d="M0 0l1 5 1 9 1 6 1 5 1 10 1 14 1 9 1 5 1 3 1 8 1 16 1-11 1 35 1-8 1 34 1 14 1-1 1 9 1 32 1-6 1 9 1 0 1 23 1 22 1 1 1 26 1 9 1 3 1 41 1 1 1-29 1 50 1-7 1 15 1 22 1 1 1 33 1 23 1-6 1-16 1 20 1 9 1-6 1-45 1 46 1-1 1 19 1-20 1-21 1 36 1 23 1 16 1 2 1-31 1 39 1 13 1-46 1-17 1 24 1 51 1-21 1-65 1 50 1-4 1 0 1 37 1-13 1-22 1-10 1-94 1 127 1-31 1-55 1 84 1-29 1 48 1-29 1 28 1-25 1 3 1-35 1 34 1 9 1-21 1 13 1-16 1-62 1 53 1 16 1-17 1 7 1-6 1-67 1 109 1-29 1 16 1-24 1-14 1 27 1-24 1 6 1 15 1 12 1-47 1 42 1 10 1-12 1-34 1 12 1-3 1 22 1-34 1 33 1-33 1 34 1-4 1-34 1 3 1 13 1 17 1-41 1-10 1 5 1 5 1 13 1-73 1 54 1-10 1 53 1-5 1-21 1 3 1-20 1 24 1-17 1 15 1-30 1-3 1 21 1-28 1 7 1-5 1 6 1-3 1-9 1 44 1-42 1 0 1 41 1-39 1 26 1-30 1-6 1-35 1 71 1-25 1 28 1-32 1-4 1 45 1-22 1-32 1 48 1-13 1-1 1 6 1-75 1-7 1-34 1 85 1 35 1-42 1 28 1-43 1 5 1 6 1 23 1-76 1 62 1 2 1 14 1-16 1-1 1-7 1-8 1-5 1 5 1-107 1 79 1 11 1 8 1-7 1-13 1 3 1-6 1 43 1-31 1 7 1-28 1 15 1 20 1-36 1 21 1-13 1 34 1-26 1 25 1-94 1 16 1 34 1-32 1 59 1-31 1 27 1 9 1-28 1-2 1-21 1 6 1 1 1-5 1-6 1 45 1-30 1-16 1 47 1-50 1 22 1 22 1-12 1-39 1 37 1-27 1 24 1-6 1-28 1 13 1-13 1 7 1-3 1 25 1-20 1-12 1 24 1 18 1-5 1-12 1 2 1 3 1-17 1 6 1 7 1-20 1 13 1-4 1-10 1-13 1 41 1-28 1-18 1 25 1-16 1-76 1 86 1-24 1 35 1-23 1-5 1 16 1-13 1-19 1 5 1-7 1 22 1-19 1-13 1-63 1 100 1-93 1 87 1-4 1-24 1-8 1 18 1 8 1-30 1 24 1-15 1-27 1 14 1 15 1-18 1 0 1-5 1 7 1-2 1 7 1-21 1 0 1 17 1 1 1-44 1 18 1-69 1 98 1 11 1-15 1-29 1 36 1-6 1-27 1 32 1 2 1-45 1 0 1 31 1-34 1-42 1 55 1 21 1-20 1 12 1-68 1 39 1-46 1 60 1-24 1 28 1-68 1-12 1 54 1-33 1 63 1-16 1-6 1-24 1 23 1-14 1-2 1 5 1 14 1-23 1-2 1 2 1 11 1 5 1-35 1 6 1 23 1-19 1-8 1 5 1-14 1 22 1-55 1 37 1 33 1-64 1 37 1 27 1-41 1-2 1 30 1-2 1 4 1-8 1-12 1 5 1-20 1 22 1 4 1-20 1 13 1-6 1 8 1-6 1-5 1-3 1-11 1 19 1-56 1 66 1-20 1 10 1-6 1-92 1 99 1-29 1 19 1-10 1 2 1-20 1 31 1 0 1-4 1-18 1 4 1-44 1 53 1 10 1-8 1-19 1 2 1 4 1-13 1-65 1 58 1 15 1-61 1 50 1 0 1 16 1 10 1-22 1 3 1-1 1-6 1-52 1 73 1 1 1-37 1 20 1-5 1-5 1 15 1-22 1 19 1 5 1 0 1-46 1 19 1-8 1 25 1-5 1-25 1-29 1 49 1-7 1 0 1-47 1 43 1-4 1-15 1-5 1-13 1 10 1 7 1 1 1 6 1 1 1-8 1-6 1 13 1-2 1 10 1-10 1-4 1-15 1 24 1-67 1 42 1-2 1 1 1 6 1 18 1-55 1-5 1 57 1-8 1-17 1 12 1-7 1-44 1 46 1 11 1 5 1-27 1-33 1 35 1-4 1 15 1-7 1-39 1 31 1 10 1-2 1 0 1 16 1-27 1-1 1-30 1 48 1 10 1-14 1 10 1-7 1 4 1-14 1-28 1 43 1-11 1-17 1 1 1-24 1 48 1-22 1-22 1-16 1 55 1-8 1-1 1 1 1-13 1-7 1 25 1-10 1-10 1 17 1-14 1 10 1 3 1-25 1 7 1-2 1-2 1-2 1-12 1 33 1-14 1 10 1-21 1 24 1-12 1 9 1-21 1 0 1 2 1 1 1-6 1 5 1 5 1 2 1-8 1-6 1 1 1 14 1-13 1 4 1 10 1-13 1 6 1 6 1-17 1 0 1 2 1 5 1-16 1 26 1-16 1-13 1-13 1 29 1 1 1-13 1 18 1-17 1-23 1 32 1-17 1 7 1 4 1-5 1 7 1-13 1 6 1 10 1-18 1 7 1 11 1-23 1 1 1 9 1-10 1 11 1 0 1-25 1 32 1-3 1 4 1 2 1-22 1 12 1 8 1-39 1 32 1 5 1-19 1 15 1 3 1-2 1-9 1-4 1-4 1 4 1 8 1-9 1-2 1-4 1 15 1-3 1-14 1 15 1 10 1-6 1 2 1 2 1-8 1-7 1 0 1 10 1-3 1-15 1 26 1-17 1-5 1 14 1 9 1-4 1-18 1 10 1 5 1-11 1 1 1 8 1-21 1 24 1-12 1 8 1-21 1 20 1-7 1 6 1 5 1 2 1-5 1-8 1 5 1 5 1-19 1 2 1 14 1-1 1-6 1 0 1 4 1 3 1-3 1 1 1 7 1-19 1 19 1-10 1-6 1 13 1-1 1-6 1 3 1-17 1 2 1 7 1-4 1 10 1-15 1 11 1 6 1-11 1 5 1-10 1 13 1-7 1 10 1 3 1-16 1 16 1-2 1-15 1 14 1-9 1-7 1 18 1-16 1 1 1 10 1-21 1 6 1 1 1 16 1-10 1-7 1 19 1-6 1-2 1 1 1-8 1 2 1-5 1 1 1-10 1 5 1 4 1 14 1-8 1-7 1 8 1 0 1-6 1 8 1-3 1-6 1 0 1 16 1-5 1-2 1-14 1 21 1 2 1-5 1-3 1 2 1-1 1 8 1-3 1-10 1 2 1 10 1 4 1-10 1-10 1 17 1-5 1 1 1-8 1 13 1-14 1-12 1 16 1 1 1-9 1 15 1-14 1 2 1-2 1-2 1 6 1 9 1-2 1-2 1-5 1-14 1 25 1-5 1-13 1 0 1 6 1 12 1-6 1 5 1-20 1 13 1-11 1 2 1 1 1 6 1 1 1-2 1-3 1-6 1-1 1-2 1 3 1 0 1 6 1-1 1 2 1-17 1 8 1 10 1-14 1 14 1-13 1 6 1 1 1 6 1-13 1-1 1 16 1-8 1 3 1 7 1-14 1 3 1 3 1 3 1-10 1 15 1-1 1-9 1-8 1 16 1-2 1-1 1 8 1-14 1 14 1 0 1-10 1 10 1-10 1 13 1-12 1 13 1-12 1 10 1-9 1 8 1-8 1-3 1-1 1-1 1 11 1 1 1 2 1-10 1 1 1-4 1-1 1-3 1 7 1 2 1-2 1-8 1 18 1-17 1 14 1 2 1-12 1-9 1 15 1 3 1 1 1-11 1 3 1-7 1 14 1-15 1 2 1 17 1-17 1 8 1-9 1-4 1 15 1-19 1 7 1 16 1-10 1 0 1-4 1-9 1 16 1-18 1 18 1-6 1 0 1 4 1 5 1-9 1 5 1 6 1-8 1-8 1 11 1 5 1-9 1 3 1-10 1 9 1-5 1 7 1-6 1-6 1 7 1 7 1-16 1 15 1-13 1 7 1 2 1-12 1 1 1 9 1 2 1 4 1-24 1 14 1 2 1 4 1-2 1-11 1 18 1-17 1 1 1 7 1-6 1 10 1-11 1 11 1 4 1-5 1 6 1 0 1-17 1 6 1 5 1-8 1 0 1 1 1 8 1-8 1 10 1 0 1-19 1 18 1 4 1-3 1-6 1 11 1-4 1-12 1 9 1 2 1 4 1-16 1 11 1 4 1-1 1 2 1-9 1-2 1 9 1-8 1-1 1-2 1 14 1-11 1 9 1-6 1-8 1 5 1 3 1 3 1 1 1-7 1-4 1 13 1-13 1-2 1 0 1 8 1-2 1-3 1 8 1-4 1 6 1 2 1 2 1-17 1 5 1-4 1 5 1 2 1 3 1-1 1 9 1-7 1-3 1 11 1-8 1-4 1 9 1-6 1-3 1 0 1 8 1-1 1 0 1 8 1-9 1-17 1 10 1 7 1 8 1-9 1 5 1-2 1-3 1 6 1-12 1 6 1-5 1-3 1 9 1-9 1 4 1 4 1-2 1 8 1-13 1 9 1-7 1-5 1 2 1 3 1 11 1-8 1-10 1 4 1 12 1-9 1 4 1-1 1-5 1 3 1 3 1-13 1 15 1-13 1 4 1 1 1 4 1-2 1-8 1 9 1 1 1 5 1-11 1 10 1-20 1-2 1 17 1-6 1 4 1-6 1 16 1-9 1-12 1 8 1 7 1-5 1-4 1 8 1 0 1 2 1-5 1 8 1-10 1 8 1 5 1-15 1-7 1 13 1-2 1 7 1-5 1-6 1 7 1-13 1 20 1-16 1 15 1-16 1 4 1 1 1-3 1 14 1-18 1 3 1 2 1 6 1 6 1-7 1-5 1 8 1-13 1 14 1-7 1 4 1-13 1-7 1 6 1 7 1 2 1 1 1-11 1 6 1 0 1 7 1 1 1-12 1 16 1-5 1-2 1 4 1-2 1-10 1-3 1 6 1 7 1 6 1-10 1 6 1 6 1-13 1-1 1 4 1 9 1-10 1 2 1 5 1-11 1 2 1 5 1 1 1 5 1-7 1 8 1 0 1 0 1-8 1 5 1 3 1-4 1 1 1-1 1 1 1 1 1-6 1 2 1 5 1-9 1 0 1 8 1-7 1-2 1 14 1-11 1 0 1 13 1 0 1-15 1-1 1-1 1 16 1-10 1-7 1 13 1-3 1-4 1-9 1 9 1 8 1-10 1 1 1 0 1 3 1 5 1-10 1 11 1-12 1 7 1-16 1 16 1 0 1 2 1 1 1-1 1-12 1 10 1-11 1 11 1 6 1-5 1 0 1 4 1-5 1-15 1 13 1-5 1 9 1-7" stroke="#77AC30"/>
</g></g>
<rect x="362.50" y="139.50" width="316.00" height="88.00" fill="none" stroke="#7c7c7c" stroke-width="1.00"/>
<path d="M362.50 227.50h4M678.50 227.50h-4M362.50 214.50h4M678.50 214.50h-4M362.50 202.50h4M678.50 202.50h-4M362.50 189.50h4M678.50 189.50h-4M362.50 176.50h4M678.50 176.50h-4M362.50 164.50h4M678.50 164.50h-4M362.50 151.50h4M678.50 151.50h-4M362.50 139.50h4M678.50 139.50h-4M362.50 227.50v-4M362.50 139.50v4M414.50 227.50v-4M414.50 139.50v4M467.50 227.50v-4M467.50 139.50v4M520.50 227.50v-4M520.50 139.50v4M572.50 227.50v-4M572.50 139.50v4M625.50 227.50v-4M625.50 139.50v4M678.50 227.50v-4M678.50 139.50v4" stroke="#7c7c7c" stroke-width="1.00" fill="none"/>
<text x="360.60" y="229.20" font-size="5.6" style="stroke-width:1.00px;stroke:#c4c4c4" text-anchor="end" textLength="9.0" lengthAdjust="spacingAndGlyphs">-100</text>
<text x="360.60" y="216.63" font-size="5.6" style="stroke-width:1.00px;stroke:#c4c4c4" text-anchor="end" textLength="2.6" lengthAdjust="spacingAndGlyphs">0</text>
<text x="360.60" y="204.06" font-size="5.6" style="stroke-width:1.00px;stroke:#c4c4c4" text-anchor="end" textLength="7.3" lengthAdjust="spacingAndGlyphs">100</text>
<text x="360.60" y="191.49" font-size="5.6" style="stroke-width:1.00px;stroke:#c4c4c4" text-anchor="end" textLength="7.3" lengthAdjust="spacingAndGlyphs">200</text>
<text x="360.60" y="178.91" font-size="5.6" style="stroke-width:1.00px;stroke:#c4c4c4" text-anchor="end" textLength="7.3" lengthAdjust="spacingAndGlyphs">300</text>
<text x="360.60" y="166.34" font-size="5.6" style="stroke-width:1.00px;stroke:#c4c4c4" text-anchor="end" textLength="7.3" lengthAdjust="spacingAndGlyphs">400</text>
<text x="360.60" y="153.77" font-size="5.6" style="stroke-width:1.00px;stroke:#c4c4c4" text-anchor="end" textLength="7.3" lengthAdjust="spacingAndGlyphs">500</text>
<text x="360.60" y="141.20" font-size="5.6" style="stroke-width:1.00px;stroke:#c4c4c4" text-anchor="end" textLength="7.3" lengthAdjust="spacingAndGlyphs">600</text>
<text x="362.10" y="235.30" font-size="5.8" style="stroke-width:1.00px;stroke:#c4c4c4" text-anchor="middle" textLength="3.0" lengthAdjust="spacingAndGlyphs">0</text>
<text x="414.82" y="235.30" font-size="5.8" style="stroke-width:1.00px;stroke:#c4c4c4" text-anchor="middle" textLength="9.3" lengthAdjust="spacingAndGlyphs">200</text>
<text x="467.53" y="235.30" font-size="5.8" style="stroke-width:1.00px;stroke:#c4c4c4" text-anchor="middle" textLength="9.3" lengthAdjust="spacingAndGlyphs">400</text>
<text x="520.25" y="235.30" font-size="5.8" style="stroke-width:1.00px;stroke:#c4c4c4" text-anchor="middle" textLength="9.3" lengthAdjust="spacingAndGlyphs">600</text>
<text x="572.97" y="235.30" font-size="5.8" style="stroke-width:1.00px;stroke:#c4c4c4" text-anchor="middle" textLength="9.3" lengthAdjust="spacingAndGlyphs">800</text>
<text x="625.68" y="235.30" font-size="5.8" style="stroke-width:1.00px;stroke:#c4c4c4" text-anchor="middle" textLength="12.4" lengthAdjust="spacingAndGlyphs">1000</text>
<text x="678.40" y="235.30" font-size="5.8" style="stroke-width:1.00px;stroke:#c4c4c4" text-anchor="middle" textLength="12.4" lengthAdjust="spacingAndGlyphs">1200</text>
<rect x="604.20" y="143.70" width="71.10" height="39.70" fill="#fff" stroke="#ffffff" stroke-width="0.10"/>
<rect x="604.50" y="143.50" width="71.00" height="40.00" fill="none" stroke="#7c7c7c" stroke-width="1.00"/>
<path d="M605.50 148.00h18.2" stroke="#0072BD" stroke-width="2" stroke-opacity="0.62"/>
<text x="624.80" y="150.50" font-size="6.0" textLength="26.1" lengthAdjust="spacingAndGlyphs">PQWGAN</text>
<path d="M605.50 156.00h18.2" stroke="#D95319" stroke-width="2" stroke-opacity="0.62"/>
<text x="624.80" y="158.30" font-size="6.0" textLength="42.6" lengthAdjust="spacingAndGlyphs">WGAN-GP-Lite</text>
<path d="M605.50 164.00h18.2" stroke="#EDB120" stroke-width="2" stroke-opacity="0.62"/>
<text x="624.80" y="166.10" font-size="6.0" textLength="38.3" lengthAdjust="spacingAndGlyphs">WGAN-GP-Big</text>
<path d="M605.50 172.00h18.2" stroke="#7E2F8E" stroke-width="2" stroke-opacity="0.62"/>
<text x="624.80" y="173.90" font-size="6.0" textLength="47.4" lengthAdjust="spacingAndGlyphs">QuantumPatchGAN</text>
<path d="M605.50 180.00h18.2" stroke="#77AC30" stroke-width="2" stroke-opacity="0.62"/>
<text x="624.80" y="181.70" font-size="6.0" textLength="33.3" lengthAdjust="spacingAndGlyphs">QINN-QGAN</text>
<clipPath id="c4"><rect x="10.30" y="253.40" width="316.30" height="88.00"/></clipPath>
<text x="168.45" y="249.50" font-size="9.40" font-weight="normal" text-anchor="middle">Number 7 Wasserstein Distance</text>
<g clip-path="url(#c4)">
<path d="M10.30 328.50H326.60" stroke="#FF00FF" stroke-width="1.5" stroke-opacity="0.55" fill="none"/>
<g transform="matrix(0.263583 0 0 -0.125714 10.300 328.829)">
<path class="c" d="M0 0l1 4 1 13 1 19 1 0 1 25 1 22 1-30 1 34 1-17 1 23 1 52 1-55 1-14 1-6 1 68 1-14 1 0 1 43 1-72 1 42 1 17 1-15 1 35 1-36 1 7 1 17 1-32 1 62 1-3 1 12 1-66 1 35 1 19 1 30 1-108 1 51 1 58 1-14 1 3 1-27 1 30 1-35 1-29 1 48 1-71 1 30 1 2 1 27 1-18 1-27 1 16 1 13 1 23 1-19 1 12 1-61 1 15 1 34 1-36 1 13 1 2 1-27 1 44 1-33 1 31 1-19 1-25 1 26 1-1 1-23 1 17 1-2 1 1 1-3 1 25 1-10 1-6 1 23 1-31 1-3 1-14 1 5 1 4 1 11 1 8 1-17 1-7 1-10 1-6 1 36 1-23 1-5 1-1 1 19 1-4 1 8 1-29 1 8 1-28 1 46 1-16 1-19 1-22 1 42 1-21 1 0 1 9 1-31 1 28 1-4 1 5 1 14 1-12 1-36 1 19 1-13 1 13 1 3 1 26 1-18 1-20 1 7 1 7 1 1 1 1 1 17 1-22 1 20 1-38 1 29 1-8 1 1 1-6 1 8 1 12 1-26 1 27 1 15 1-61 1 17 1 2 1 23 1 3 1-14 1 17 1-39 1 44 1-30 1 22 1 7 1-18 1-7 1-23 1 26 1 16 1-3 1 0 1-18 1 1 1 4 1-5 1 9 1-9 1-3 1-3 1 17 1-11 1 6 1-2 1-17 1 4 1 4 1 22 1-25 1 9 1 1 1 0 1 3 1 2 1-15 1 21 1-3 1 6 1-5 1 14 1-8 1-8 1-18 1-1 1 10 1-28 1 31 1-9 1 26 1-36 1 22 1-11 1 12 1-4 1 28 1-41 1-5 1 17 1 22 1 8 1-51 1 17 1 11 1 3 1-20 1 3 1 24 1-32 1 16 1-8 1 33 1-7 1-18 1 14 1-18 1 29 1-22 1-5 1 6 1-5 1 22 1-13 1-29 1 26 1-15 1 19 1-18 1 1 1-4 1 0 1 7 1 20 1-24 1 21 1-12 1-16 1 4 1 29 1 14 1-11 1-10 1 1 1 10 1-31 1 21 1-5 1 10 1 0 1-5 1-21 1 9 1 1 1 9 1 8 1-15 1 9 1-4 1 13 1-19 1 18 1 1 1-12 1 7 1-7 1-1 1-8 1-6 1-3 1 14 1 0 1 26 1-20 1-15 1-2 1-2 1 1 1-9 1 25 1-16 1 10 1-14 1 16 1-17 1-4 1 18 1 2 1 22 1-27 1 25 1-26 1 17 1-27 1 21 1-24 1 27 1-12 1-8 1 9 1 0 1-13 1 6 1-11 1 26 1 0 1 4 1-10 1-2 1 9 1 10 1-15 1-3 1 20 1-2 1 0 1-4 1 19 1-40 1 23 1 6 1-16 1-9 1 20 1-42 1 6 1 23 1-16 1 39 1-26 1-4 1 12 1 4 1 2 1-25 1 24 1 6 1-32 1-5 1 6 1 9 1 9 1-22 1 17 1-23 1 0 1 21 1-7 1 1 1 23 1-35 1-4 1 35 1-30 1 6 1-15 1 27 1-29 1 19 1-13 1 2 1 31 1-47 1 37 1-10 1 4 1-2 1 2 1-1 1 11 1-15 1 26 1-17 1 0 1 7 1 9 1-14 1-3 1 12 1-5 1 25 1-15 1-23 1 25 1-28 1-10 1 19 1 21 1-36 1-2 1 10 1 0 1-9 1 18 1-19 1 28 1 16 1-36 1-4 1 26 1-30 1-6 1 38 1-46 1 28 1-11 1 12 1-6 1 7 1-10 1 32 1-13 1-27 1 18 1 16 1-21 1 5 1-10 1 12 1 21 1-25 1-16 1 24 1-27 1 15 1-10 1 10 1 7 1-9 1 5 1 0 1 1 1-20 1 20 1-1 1 6 1-1 1 4 1-27 1 20 1 23 1-31 1 29 1-37 1 14 1 13 1-20 1 3 1-4 1 21 1-3 1-14 1-7 1 22 1-12 1 13 1-16 1 7 1-8 1-17 1 35 1 6 1-3 1 14 1-11 1-29 1 7 1 10 1-23 1 27 1-30 1 19 1-4 1 5 1-9 1 14 1-9 1-17 1 29 1-7 1 20 1-30 1 20 1-34 1 24 1-4 1 18 1-6 1 16 1-38 1 4 1 14 1 16 1 5 1 0 1-15 1-4 1 1 1 8 1-3 1 9 1 17 1-40 1 18 1-1 1 2 1 12 1-11 1-3 1 9 1 0 1-19 1 5 1-24 1 29 1-27 1 21 1 12 1-1 1-10 1 6 1-18 1 0 1 6 1-1 1 10 1-4 1-37 1 34 1-18 1 4 1 1 1 3 1-5 1 1 1-3 1 16 1-15 1-8 1 28 1-17 1-9 1 16 1-18 1 20 1-8 1 1 1 16 1-7 1 3 1-3 1 18 1-55 1 28 1 0 1-16 1 13 1-4 1 31 1-29 1-11 1 13 1-9 1-6 1 20 1-10 1 2 1 1 1 5 1-32 1 22 1-14 1-8 1 16 1 22 1-38 1 42 1-16 1 10 1-5 1 8 1-4 1-3 1 14 1-27 1 12 1-2 1 3 1-4 1 20 1-16 1 21 1-23 1 5 1 17 1-7 1 1 1-8 1-15 1 10 1 23 1-23 1 7 1 4 1 8 1-8 1 0 1-12 1 1 1 12 1 9 1-22 1 8 1 4 1 6 1-7 1 23 1-4 1-22 1 27 1-37 1 11 1-6 1-7 1-3 1 1 1 3 1 28 1-19 1-4 1 9 1-15 1 1 1-4 1-2 1 17 1-23 1 22 1 5 1 22 1-48 1 41 1-24 1 15 1-18 1 8 1-6 1 12 1-26 1 22 1 2 1-10 1 9 1-4 1-8 1-1 1 22 1-7 1-18 1 10 1-8 1 9 1 17 1-28 1 8 1-3 1 31 1-37 1 17 1-8 1-5 1 2 1-8 1 10 1 12 1 4 1-10 1-6 1-8 1-14 1-5 1 23 1 6 1 23 1-11 1-20 1 26 1-9 1-1 1-21 1 9 1 32 1-27 1 1 1 0 1 3 1 0 1 14 1-12 1 0 1 3 1 0 1-11 1-7 1 6 1 21 1-7 1-13 1-8 1 23 1-15 1 23 1-25 1 8 1-15 1-4 1 33 1-9 1-11 1 40 1-34 1 35 1-30 1 12 1-6 1-20 1 8 1 3 1 14 1-21 1 12 1 10 1-5 1-29 1 0 1 22 1 10 1-4 1-14 1-3 1 5 1 4 1-10 1 10 1-9 1 20 1-32 1 5 1 0 1 0 1 20 1 1 1-29 1 27 1-15 1 10 1-13 1 5 1 12 1 13 1-19 1-23 1 32 1-16 1 11 1-24 1 26 1-22 1 35 1-11 1-21 1 2 1 16 1-20 1 18 1-6 1 8 1-14 1 20 1-1 1 7 1-32 1-1 1 27 1-9 1 9 1-6 1 2 1-5 1 12 1-2 1-6 1-9 1 3 1-23 1 22 1 0 1-8 1-6 1 10 1-2 1 8 1-9 1 1 1 1 1 2 1 5 1 10 1-23 1-16 1 3 1 10 1-6 1 29 1-7 1-28 1 39 1-23 1 1 1 10 1-22 1 18 1-27 1 29 1 10 1-1 1-18 1 23 1-18 1-10 1 6 1 21 1-32 1 17 1-9 1 2 1 12 1-7 1 1 1-8 1 9 1-3 1 8 1-13 1-13 1 20 1 9 1-13 1 2 1-13 1 12 1-5 1 8 1 15 1-32 1 16 1-10 1 6 1-20 1 40 1-28 1 1 1-7 1 16 1 13 1-21 1 12 1-12 1 17 1 18 1-10 1 9 1-22 1 1 1-10 1 8 1 2 1 11 1-24 1 16 1-14 1-12 1 54 1-32 1-1 1-8 1 10 1-1 1-13 1 8 1 5 1-9 1 6 1-5 1-4 1 4 1-4 1 7 1-24 1 3 1 24 1-4 1 4 1 0 1 10 1-26 1 0 1 12 1-17 1 6 1-7 1 13 1 18 1-4 1 7 1-9 1-12 1 2 1 13 1 3 1-18 1 32 1 0 1-23 1-12 1 22 1 2 1-14 1 19 1-9 1 4 1 7 1-23 1 9 1-21 1-3 1 36 1 3 1-12 1-3 1 8 1-12 1 16 1-11 1 8 1-8 1-4 1 3 1 29 1-20 1-8 1-3 1 17 1 6 1-25 1 3 1 36 1-37 1 6 1 22 1-33 1-4 1-4 1 22 1-12 1 11 1 26 1-26 1-9 1-1 1 19 1-21 1 24 1-19 1-13 1 38 1-23 1-8 1 20 1-11 1 12 1-15 1 1 1-22 1 24 1 0 1 5 1-31 1 26 1 2 1 0 1-3 1-26 1 13 1 7 1 10 1-7 1 2 1-6 1 29 1-28 1 27 1-2 1-30 1 6 1 16 1 3 1-23 1-4 1 11 1 16 1-13 1-16 1 21 1 15 1-24 1-3 1-5 1 26 1-30 1 8 1-10 1 4 1-3 1 5 1-15 1 5 1 42 1-37 1 2 1 6 1-16 1-4 1 13 1-14 1 11 1-14 1 16 1 12 1-20 1 16 1-31 1-1 1 23 1 20 1-26 1-16 1 20 1 30 1-46 1 35 1-28 1 31 1-17 1 17 1-12 1 12 1 6 1-13 1-14 1 22 1-19 1 20 1-6 1 18 1-5 1-24 1-7 1 24 1-15 1 13 1-6 1 10 1-23 1 10 1 10 1-2 1 16 1-6 1-26 1 40 1-23 1 8 1-11 1-33 1 30 1 3 1-8 1 4 1-7 1 2 1 18 1-5 1-35 1 29 1 0 1 16 1-29 1-14 1 14 1 7 1-4 1 1 1 8 1 16 1-20 1 1 1 12 1-32 1 2 1 22 1-1 1-10 1 7 1 1 1 16 1-10 1-7 1-21 1 33 1-8 1-3 1-26 1 42 1-9 1-14 1 32 1-23 1-10 1 18 1 8 1-14 1-16 1 5 1 25 1-8 1 19 1-19 1 13 1 3 1 2 1-37 1 46 1-20 1 6 1-2 1 6 1-25 1 5 1 4 1 21 1-8 1-16 1 14 1-5 1-14 1-7 1 14 1 14 1-3 1-1 1-27 1 23 1 8 1-32 1 19 1 0 1 25 1-26 1-6 1-1 1 23 1-24 1 10 1 6 1-29 1 14 1 11 1 9 1-13 1-16 1 2 1-9 1 41 1-32 1 43 1-33 1 16 1-18 1 4 1-20 1 45 1-20 1 14 1-5 1 7 1 6" stroke="#0072BD"/>
<path class="c" d="M0 0l1 5 1 2 1 17 1 12 1-6 1 11 1 13 1 5 1 3 1 15 1 4 1-2 1 14 1 21 1-12 1 26 1 1 1 17 1 7 1-12 1 13 1 6 1 27 1-18 1 31 1 15 1-16 1 7 1 22 1 10 1-2 1-4 1 4 1 24 1-25 1 14 1 22 1 1 1 0 1-16 1-2 1 12 1 22 1-22 1-2 1-11 1 35 1-19 1-12 1 12 1-1 1-7 1-18 1-27 1 4 1 6 1-11 1-16 1-12 1-39 1-13 1 12 1-38 1 11 1-19 1 7 1-10 1-35 1-4 1 5 1-10 1-8 1-26 1 0 1 3 1-16 1-10 1 1 1-1 1-4 1 5 1-22 1 13 1-21 1 13 1 23 1-5 1 18 1-7 1-7 1 39 1-16 1 23 1-19 1 13 1 19 1-7 1-8 1 10 1 3 1-23 1 0 1 21 1-28 1 17 1-1 1-3 1-20 1-1 1 11 1-4 1-2 1-17 1 10 1-6 1-1 1 4 1-16 1 23 1-31 1 31 1-21 1-4 1 11 1-1 1 3 1-5 1 3 1 19 1-12 1 5 1-22 1-1 1 17 1-20 1 5 1 3 1 10 1-15 1 4 1-8 1 17 1-4 1 1 1-8 1 13 1-17 1 11 1-1 1-6 1 0 1-2 1 2 1-11 1 8 1 9 1-16 1-4 1 13 1 4 1-13 1 7 1-6 1-19 1 4 1 8 1 15 1-27 1 21 1-19 1 9 1 12 1 2 1-13 1 2 1 7 1 7 1-10 1-1 1 5 1 0 1 3 1-6 1 0 1-8 1-8 1 20 1-6 1 9 1-6 1-1 1-10 1 14 1-2 1-4 1-2 1-1 1-1 1 10 1-9 1 11 1 3 1-5 1 14 1-8 1 2 1-9 1-5 1 9 1-1 1-5 1 3 1 4 1 6 1-9 1-3 1-14 1 22 1-3 1 1 1-11 1 10 1 1 1-4 1 5 1 2 1-2 1-12 1 9 1 1 1-1 1-7 1-3 1 5 1 8 1-15 1 14 1-2 1-4 1-6 1 5 1 0 1 6 1-15 1 5 1-7 1 21 1-14 1-5 1 20 1-14 1-7 1 9 1-10 1-8 1 16 1 11 1-15 1-13 1 25 1-12 1 18 1-17 1 4 1 8 1-14 1-3 1 9 1 7 1-21 1 0 1 9 1-1 1 7 1-3 1-4 1 5 1-9 1 5 1-1 1 4 1-7 1-4 1 9 1-8 1 6 1 5 1-11 1 11 1-18 1 10 1 2 1 11 1-4 1-14 1-1 1 9 1-10 1 11 1 0 1-15 1 22 1-18 1 5 1 6 1 1 1-12 1 3 1 5 1-2 1 3 1-9 1-7 1 3 1 16 1-9 1-1 1 2 1-2 1-3 1 4 1 6 1 2 1-6 1 1 1 11 1-11 1 8 1 1 1-9 1 0 1 8 1-6 1 3 1-4 1 8 1 9 1-24 1 12 1-7 1 11 1-1 1-3 1-3 1-5 1 4 1 9 1-13 1 3 1 2 1-1 1 0 1-4 1 5 1-5 1 10 1 13 1-21 1-2 1 14 1-10 1 0 1 10 1-15 1-3 1 10 1-11 1-3 1 9 1 17 1-15 1-13 1 9 1 7 1 0 1-10 1 9 1-3 1-1 1 3 1 15 1-15 1-7 1-2 1 23 1-11 1-7 1 23 1-20 1-1 1 13 1-3 1 7 1-10 1 12 1-12 1 1 1 15 1-14 1 9 1-7 1 2 1 6 1-6 1-6 1-10 1 12 1-4 1 14 1-5 1-4 1 17 1-21 1-13 1 10 1 4 1 6 1-7 1 4 1 6 1-4 1-4 1 5 1-3 1-7 1 9 1-12 1 4 1-2 1 7 1-12 1-1 1 16 1-8 1-5 1 2 1 13 1-7 1 0 1 5 1 13 1-11 1-1 1-2 1-5 1 10 1-9 1-15 1 18 1-5 1 6 1-18 1 2 1 10 1-9 1 0 1 17 1-3 1-8 1 1 1-4 1 4 1 4 1-4 1-5 1-15 1 33 1-10 1-9 1 5 1 6 1-14 1 6 1-3 1 17 1-3 1-10 1-17 1 1 1 15 1-10 1 6 1-6 1 5 1 9 1-16 1 2 1 4 1 5 1-14 1-12 1 27 1-19 1 20 1-12 1 2 1 0 1 5 1-3 1-8 1 5 1 9 1-8 1 6 1-6 1-4 1 8 1 3 1 4 1-7 1 2 1 7 1-2 1-20 1 14 1 7 1 7 1-12 1 8 1 11 1-7 1-4 1 3 1 7 1-3 1 12 1-27 1 17 1-12 1 5 1 8 1-1 1 4 1-17 1 25 1-23 1 11 1 7 1-10 1-1 1 1 1-12 1 5 1 18 1-4 1-3 1-6 1 18 1-12 1-6 1-1 1 12 1-2 1 1 1-10 1-12 1 15 1 4 1-16 1 3 1 3 1-3 1 9 1-4 1 9 1-2 1 7 1-9 1-12 1 10 1 17 1-18 1 5 1-4 1 4 1 5 1-1 1 0 1-14 1 19 1-8 1 0 1 8 1-4 1-2 1 11 1 1 1-13 1 4 1-3 1 1 1 20 1-15 1-6 1-2 1-5 1 5 1 18 1-12 1-6 1 3 1 0 1 3 1 7 1-10 1-8 1 19 1 1 1-4 1 12 1-24 1 23 1-11 1 0 1-7 1 16 1 4 1-13 1 1 1-6 1 10 1 6 1-1 1-15 1-3 1 2 1 11 1-24 1 15 1 8 1-11 1 7 1-16 1 15 1-15 1 11 1 1 1 1 1 0 1 2 1-7 1 2 1-4 1 10 1-22 1-2 1 19 1-2 1-8 1 15 1-7 1 0 1 21 1-7 1-8 1-4 1 7 1 8 1-14 1-4 1 12 1 4 1 1 1 6 1-20 1 6 1-1 1 0 1 10 1 1 1-2 1 11 1-16 1-10 1 26 1 11 1-18 1 3 1-8 1-13 1 28 1 11 1-21 1-16 1 1 1-2 1 13 1-15 1 18 1 2 1-24 1 44 1-5 1-18 1-3 1-8 1 16 1 8 1-10 1-6 1 34 1-39 1 17 1 12 1-24 1 1 1-18 1 54 1-6 1-33 1 30 1-12 1-24 1-13 1 15 1 22 1 7 1-20 1 23 1-19 1 2 1 5 1 11 1 3 1-23 1-22 1 58 1-28 1 1 1 1 1-14 1-3 1-6 1 13 1 36 1-17 1-9 1-11 1 10 1 9 1 6 1-15 1 34 1-29 1 12 1 4 1 18 1-51 1 28 1-28 1-8 1 11 1 19 1-33 1 6 1 12 1 14 1 5 1-32 1 29 1-20 1-13 1 49 1-13 1-37 1 44 1-30 1-6 1 25 1-5 1 1 1-1 1-3 1 20 1 1 1-40 1 24 1 5 1 7 1-28 1 3 1-14 1 10 1 25 1-34 1 32 1-1 1 0 1 2 1-7 1 24 1-35 1 22 1-1 1-18 1 9 1-25 1 39 1-21 1-1 1 4 1 8 1-52 1 0 1 13 1 44 1-35 1 41 1 0 1-35 1-7 1 16 1 18 1-26 1 12 1 10 1-8 1 25 1-19 1-29 1 20 1 8 1-4 1 27 1-12 1-28 1-9 1 10 1 46 1-29 1 3 1 11 1-58 1 50 1-17 1 28 1-1 1-22 1 14 1 24 1-73 1 52 1-17 1-17 1 47 1-40 1-10 1 16 1-14 1 47 1-11 1 5 1-4 1 28 1-57 1 33 1 12 1-3 1 28 1-58 1-5 1-6 1 19 1 17 1-5 1 12 1 14 1-30 1 36 1-18 1 18 1-33 1 12 1 9 1-56 1 60 1-15 1 6 1-24 1 14 1-22 1-7 1 20 1-8 1 52 1-61 1-11 1 39 1-19 1 56 1-44 1-12 1 3 1 4 1 8 1-22 1 7 1-43 1 19 1 35 1-15 1 12 1 40 1-48 1 9 1-12 1 1 1-44 1 50 1 11 1-36 1 41 1-7 1-36 1 27 1-24 1 5 1 4 1 17 1 29 1-59 1-7 1 15 1 48 1-55 1 4 1 29 1 24 1-23 1-41 1 72 1-28 1-27 1-4 1 12 1-13 1 66 1-63 1-5 1 49 1-7 1-39 1 35 1-13 1 36 1-31 1 14 1 10 1-24 1 1 1-3 1-11 1 13 1 4 1-9 1-7 1-35 1 69 1-25 1 38 1-61 1 57 1-12 1-18 1-34 1 36 1-30 1 6 1 31 1-46 1 6 1 26 1 26 1-27 1-4 1 32 1-30 1 8 1 55 1-25 1-16 1-11 1-33 1 32 1-13 1 10 1 42 1-62 1 12 1 86 1-84 1 33 1-35 1 9 1 19 1-21 1 3 1 6 1 36 1-42 1-17 1 17 1-29 1 31 1-16 1-4 1 26 1-23 1 17 1 3 1-31 1 22 1-32 1 31 1-26 1 62 1-60 1 73 1-43 1-15 1-5 1-26 1 32 1 80 1-53 1 38 1-18 1-54 1-4 1 8 1 22 1-5 1-7 1 4 1 58 1-32 1-68 1-14 1 45 1-2 1 17 1-15 1 87 1-42 1-2 1-33 1-26 1 21 1-51 1 71 1 41 1-16 1-54 1-15 1 9 1 78 1-85 1 26 1-23 1 4 1 37 1-32 1-9 1 18 1 2 1-24 1-29 1 62 1-28 1 112 1-128 1 19 1 25 1-28 1 13 1-34 1 16 1-10 1 1 1 42 1-22 1-1 1 3 1 16 1-28 1-13 1 41 1 10 1 26 1 0 1-62 1-12 1 104 1-65 1 24 1-57 1-13 1 51 1 65 1-79 1-7 1 22 1-15 1 4 1 19 1-2 1-20 1 19 1-50 1 31 1 21 1-35 1 1 1 104 1-28 1-53 1-29 1 27 1 17 1 40 1 6 1-58 1-14 1 8 1 32 1-8 1-29 1 25 1-57 1 60 1-62 1 30 1 24 1-19 1 24 1-22 1 9 1 22 1-21 1 31 1 3 1-23 1-40 1-3 1 18 1 53 1-94 1 50 1-3 1 55 1-34 1-27 1 32 1-21 1-10 1 20 1-40 1 5 1 2 1-7 1 62 1-52 1 18 1 28 1-36 1-8 1 8 1-30 1 35 1 1 1-5 1 23 1-30 1 25 1 15 1 12 1 22 1-80 1 20 1 7 1-37 1 137 1-73 1 6 1-49 1 1 1 17 1 15 1-12 1 19 1-25 1-1 1 29 1-10 1 50 1-87 1 43 1-18 1-34 1 31" stroke="#D95319"/>
<path class="c" d="M0 0l1 15 1 9 1 1 1 2 1 13 1 10 1-1 1 12 1 17 1 12 1-11 1 20 1 4 1 12 1-2 1 20 1 2 1 12 1 4 1 12 1 9 1 3 1 6 1 21 1 14 1 0 1 3 1 25 1 14 1-13 1 3 1-18 1 42 1-10 1-1 1 22 1 4 1 5 1-12 1 1 1 15 1 9 1-27 1 41 1-37 1 13 1-10 1 15 1-5 1 3 1-5 1-32 1 0 1-17 1-34 1 11 1-1 1-15 1-34 1 17 1-35 1-12 1 4 1-20 1 12 1-27 1 0 1-23 1-8 1-7 1-43 1 8 1-22 1-10 1 15 1-10 1-18 1-16 1-8 1 7 1-25 1 8 1-6 1 23 1-19 1-12 1 28 1-10 1 8 1 2 1 13 1 4 1 38 1-13 1 9 1 7 1 2 1 10 1 15 1 3 1 15 1-4 1 3 1-3 1 11 1-17 1-22 1 26 1-33 1 6 1-3 1-19 1 1 1 15 1-6 1-4 1-2 1-4 1-8 1-2 1 1 1-8 1-6 1 11 1 11 1-23 1-6 1 12 1 0 1 6 1-7 1 0 1 6 1 1 1 3 1-13 1-3 1-1 1 8 1 15 1-20 1-4 1 23 1-1 1-19 1 3 1 10 1 2 1-6 1 2 1-4 1-5 1 9 1 1 1-2 1-1 1 18 1-12 1 2 1 1 1 5 1-6 1-2 1 6 1-11 1 16 1 2 1-21 1 27 1-3 1-12 1-10 1 22 1-17 1 0 1 1 1 7 1-5 1-3 1 7 1-12 1 9 1-9 1 4 1-10 1 13 1-6 1-5 1-12 1 17 1-6 1-5 1 5 1 0 1 2 1-8 1 14 1-12 1 2 1 7 1-7 1 4 1-8 1-4 1 8 1 6 1-5 1-10 1-5 1 14 1-6 1 5 1 0 1 0 1 11 1-3 1 6 1 3 1-4 1 9 1-12 1 1 1 4 1 5 1-8 1-16 1 18 1-7 1-1 1 1 1 4 1 7 1-24 1 30 1-11 1-1 1-6 1 6 1-11 1 16 1-3 1-3 1-4 1 3 1-3 1-2 1 10 1 0 1-4 1 7 1-4 1 2 1 3 1 1 1-10 1 14 1-7 1 10 1 2 1-13 1 0 1 2 1 0 1 0 1 5 1-6 1 0 1-1 1 15 1-11 1-1 1 1 1-5 1-8 1 7 1-12 1 14 1 4 1-3 1 0 1 8 1-13 1 7 1-8 1-10 1 5 1-3 1 0 1 3 1 5 1-5 1 8 1-16 1 4 1-2 1 10 1 6 1-2 1-12 1 23 1-15 1 2 1-8 1 27 1-15 1 7 1-7 1 1 1-2 1 5 1 5 1 2 1 10 1-13 1-10 1-1 1 4 1-4 1 18 1-15 1 4 1-5 1 0 1-4 1-3 1 4 1 4 1 4 1-9 1 8 1-2 1-10 1 18 1-8 1-18 1 6 1 7 1-5 1-8 1 4 1-1 1-10 1 2 1 10 1 2 1 1 1 11 1-11 1-1 1-2 1-4 1 7 1-7 1-7 1 15 1-6 1 5 1-8 1 2 1 2 1-6 1 7 1-4 1 1 1 9 1-1 1 1 1 4 1-2 1-4 1-1 1 5 1 1 1-5 1-3 1-6 1 4 1-3 1-3 1 10 1-18 1 25 1 0 1-16 1 0 1 4 1 4 1 5 1 5 1-7 1-6 1 6 1-12 1 14 1-10 1 3 1-4 1 5 1 4 1-8 1-2 1 12 1 3 1-25 1 15 1-3 1 8 1-1 1-9 1 4 1-19 1 11 1 13 1-3 1 2 1-10 1-1 1 0 1 1 1-5 1 6 1 1 1-4 1 4 1 1 1 7 1-7 1 0 1 2 1-7 1 6 1-12 1 14 1-10 1 6 1-7 1 16 1 1 1-11 1-2 1 10 1-6 1 8 1-2 1 6 1-16 1 12 1 2 1-20 1 8 1 4 1 8 1-9 1 13 1-4 1 2 1-5 1-8 1 4 1 1 1-3 1 10 1-21 1 23 1-20 1 5 1 10 1-15 1 24 1-23 1-4 1 9 1 6 1-4 1-14 1 15 1 7 1-19 1 0 1 12 1-7 1 6 1-9 1 8 1-10 1 2 1 7 1-5 1-3 1 0 1-9 1 11 1-6 1 10 1 2 1 6 1-11 1-1 1-5 1 2 1-9 1 26 1-17 1-4 1 14 1 7 1-8 1-3 1 0 1 8 1 8 1-20 1 6 1 15 1-6 1 4 1-3 1 0 1 5 1-10 1 20 1-9 1-11 1-8 1 4 1 9 1 1 1-8 1 2 1-2 1 12 1-18 1 5 1 12 1-5 1 7 1 0 1-19 1 12 1 2 1 2 1-19 1 19 1-3 1-6 1-3 1 10 1-8 1 7 1-16 1 18 1-10 1 3 1-3 1 0 1-1 1 1 1 2 1 3 1-7 1-8 1 11 1-14 1 10 1 0 1 1 1 0 1-4 1 9 1-5 1-15 1 9 1 9 1-10 1 13 1 3 1-9 1-5 1 5 1 1 1-7 1-1 1 13 1-16 1 2 1-10 1 22 1 4 1-2 1-3 1 5 1-9 1 10 1-4 1 2 1 4 1-9 1 6 1 4 1-8 1 5 1-2 1-4 1 10 1-3 1 3 1-6 1-8 1 7 1-3 1 6 1-10 1-6 1 5 1 21 1-10 1 2 1-8 1-2 1 3 1-3 1-2 1 8 1-4 1 10 1 9 1-14 1-17 1 36 1-14 1-3 1-3 1 0 1-14 1 11 1 17 1-1 1-14 1 19 1-12 1 9 1-5 1-6 1-3 1-3 1-5 1 9 1 12 1-14 1 12 1-3 1 6 1-8 1 2 1 1 1-6 1-2 1-9 1 22 1-10 1-3 1 8 1-4 1 3 1 1 1-16 1 1 1 9 1 15 1-17 1 5 1-6 1 21 1-6 1-11 1 16 1-19 1 7 1 3 1 11 1-12 1-9 1 15 1-19 1 12 1 4 1-6 1 14 1-4 1 7 1-4 1 0 1-3 1 9 1-2 1 3 1-4 1 3 1-19 1 21 1-10 1 3 1 3 1 2 1 3 1-12 1-2 1 14 1-21 1 14 1 20 1 0 1-15 1 7 1-28 1 30 1-16 1 2 1 4 1 2 1 3 1-7 1-4 1 5 1-20 1 15 1 0 1 8 1-19 1-2 1 8 1 5 1 2 1-24 1 29 1-11 1 0 1-9 1 4 1 9 1-10 1 12 1-3 1 2 1-20 1 5 1 15 1-1 1-11 1 6 1 11 1-12 1 9 1-10 1 4 1-8 1-7 1 21 1 0 1 10 1-19 1-2 1 12 1-9 1 16 1-7 1-19 1 5 1 11 1-22 1 14 1 10 1-24 1-3 1 32 1 0 1-12 1-10 1-8 1 15 1-6 1 8 1 14 1-23 1 15 1-3 1 3 1-12 1 26 1-26 1 22 1-14 1 5 1-17 1 19 1 11 1-13 1 11 1-3 1-3 1-19 1 19 1 10 1 15 1-13 1-11 1 18 1-10 1 38 1-42 1 1 1-3 1 9 1-1 1-6 1-22 1 8 1 17 1-3 1 3 1 6 1 23 1-33 1-5 1-3 1 4 1-3 1 25 1-18 1 6 1-5 1-3 1 6 1-4 1 22 1 6 1-24 1-18 1 20 1-14 1 28 1-44 1 35 1-16 1 2 1 16 1-9 1-2 1 30 1-24 1 18 1-7 1-23 1-3 1-5 1 15 1-5 1 12 1-27 1 2 1 20 1-13 1-14 1 8 1 19 1-15 1 9 1-6 1-10 1 12 1-3 1-7 1 7 1 18 1-30 1 31 1-23 1 25 1 17 1-39 1 30 1-11 1-3 1-23 1 6 1 1 1-7 1 16 1-3 1 24 1-27 1 12 1-14 1 5 1 4 1-2 1-6 1 9 1-2 1 41 1-31 1-9 1 6 1-14 1 2 1 8 1 7 1-9 1-5 1 34 1-50 1 3 1 5 1 5 1 7 1-17 1 25 1-9 1 0 1 31 1-29 1 5 1 30 1-14 1-25 1-3 1 10 1 32 1 19 1-43 1 42 1 10 1-69 1-11 1 10 1 74 1-73 1 6 1-11 1 12 1-10 1-5 1-3 1 18 1 2 1 6 1-7 1-16 1 21 1 29 1-57 1 35 1-9 1-14 1 13 1 4 1 58 1-1 1-64 1-5 1-13 1 28 1-12 1 24 1-12 1 13 1-13 1 55 1-53 1-10 1 55 1-67 1-9 1 22 1-14 1 79 1-40 1-14 1 2 1 35 1-52 1 73 1-51 1-10 1 2 1-6 1-7 1 4 1-12 1 3 1 80 1-73 1 27 1 31 1-56 1 33 1-38 1 5 1 3 1-4 1 12 1-19 1 2 1-24 1 21 1 4 1-5 1-7 1 0 1-6 1 1 1 9 1 44 1-45 1-6 1 6 1-15 1 6 1 8 1 8 1 15 1-15 1-8 1 0 1-2 1-2 1 22 1-27 1 11 1 0 1 4 1-8 1 33 1-35 1 15 1 3 1 5 1-10 1 8 1 34 1-46 1 58 1-59 1 22 1-17 1-12 1 18 1 58 1-48 1-23 1 10 1 4 1-11 1 13 1-9 1 11 1-12 1 4 1-3 1 18 1-28 1 49 1-26 1 10 1 54 1-65 1 19 1-32 1 12 1-14 1 16 1-2 1 2 1 1 1-10 1 64 1 14 1 7 1-58 1 59 1-85 1 8 1-10 1 3 1 4 1-3 1 23 1-8 1-5 1-26 1 19 1 3 1 6 1 7 1-14 1 3 1 24 1-22 1 36 1 14 1-59 1 24 1 38 1-71 1 55 1-37 1-7 1 15 1-8 1 1 1-3 1-5 1 4 1-4 1-10 1 35 1 39 1-50 1 12 1 7 1-18 1 52 1-79 1 15 1-8 1 0 1-10 1 9 1 22 1-1 1-8 1 2 1-2 1-8 1-5 1 20 1-31 1 67 1-52 1 5 1-14 1 103 1-100 1-2 1 5 1 12 1-10 1 28 1-15 1 5 1 86 1-93 1-6 1 10 1 48 1-52 1-3 1 16 1-17 1 25 1-8 1 58 1-57 1-14 1 68 1-13 1-36 1-17 1 2 1-11 1 59 1-65 1 9 1-14 1 16 1-6 1-6 1 5 1 42 1-1 1-47 1-7 1 7 1-5 1 12 1-12 1 85 1-72 1 16 1-6 1-9 1-18 1 38 1-29 1 11 1 61 1-86 1 8 1-8 1 30" stroke="#EDB120"/>
<path class="c" d="M0 0l1 8 1 8 1 2 1 5 1 12 1 5 1 6 1 7 1-1 1 16 1 1 1 0 1 7 1 9 1 1 1 24 1 0 1 18 1 20 1-4 1 23 1 18 1 13 1 0 1-4 1 43 1-11 1 16 1 19 1 19 1-6 1 5 1 30 1-20 1 39 1-11 1 6 1 23 1 11 1 10 1 12 1 0 1-3 1 11 1 9 1 26 1 0 1-4 1-18 1 13 1 23 1-13 1 8 1 16 1 11 1-13 1-37 1 36 1-31 1 44 1-26 1 9 1-26 1-6 1 7 1 3 1 1 1 11 1 24 1-46 1 9 1 18 1 2 1-26 1-36 1 62 1-18 1 17 1-33 1 0 1 42 1 0 1-21 1-4 1-20 1 6 1 17 1 9 1-14 1-20 1 32 1-54 1 60 1-41 1 33 1-21 1 11 1-31 1 36 1-5 1-10 1 16 1 0 1-42 1 39 1-1 1-46 1 16 1 9 1-5 1-20 1 27 1 4 1-18 1 13 1-65 1 49 1-31 1 53 1-36 1 5 1 17 1 6 1-27 1 21 1-28 1 39 1-7 1-27 1 13 1-17 1 19 1-22 1-7 1 17 1-5 1-40 1 43 1-26 1 42 1-20 1-27 1-31 1 53 1 21 1-49 1 26 1-1 1-28 1 28 1-23 1 24 1 8 1-51 1 19 1 16 1-16 1-52 1 35 1 14 1 12 1-30 1 29 1-30 1 5 1-7 1 6 1 15 1-5 1 14 1-5 1-7 1 6 1-27 1-57 1-3 1 48 1-3 1 29 1-39 1 24 1-2 1 3 1-12 1-18 1-5 1 7 1-2 1 14 1 15 1-6 1-2 1-22 1-5 1-3 1-3 1 20 1 0 1 16 1-61 1 10 1 15 1 24 1-25 1-1 1 10 1-31 1 27 1 2 1-33 1 3 1 22 1-10 1-35 1 34 1 15 1 1 1-48 1 18 1-14 1 32 1-37 1 30 1-22 1-12 1 22 1-55 1 49 1-21 1-2 1-7 1 16 1-17 1 10 1 15 1-11 1 6 1-24 1 37 1-37 1-5 1 33 1-22 1 20 1-17 1 16 1-5 1 0 1-10 1 15 1 4 1-18 1-21 1-2 1-4 1 36 1-7 1-24 1 33 1-42 1 1 1 39 1-27 1 3 1-10 1 26 1-6 1-7 1-1 1-19 1 18 1-20 1 9 1 5 1-15 1 27 1-1 1-64 1 35 1 25 1 6 1-54 1 15 1 39 1-10 1-2 1 2 1 4 1-20 1 5 1-16 1 22 1-34 1-3 1 10 1-12 1 0 1 26 1-29 1 31 1-6 1-45 1 22 1 32 1-37 1-1 1 22 1 11 1-13 1 11 1-8 1-2 1 4 1-6 1-15 1 8 1 4 1-5 1-28 1 12 1 27 1-28 1 10 1-15 1 31 1-29 1 3 1-10 1 11 1-11 1 17 1-20 1 2 1 9 1-12 1-15 1 32 1-3 1 4 1-1 1 2 1-21 1-28 1 36 1 0 1-4 1-7 1-1 1-2 1-12 1 23 1-23 1 7 1 1 1-14 1 22 1-22 1 12 1-18 1-22 1 20 1 18 1 7 1-7 1-11 1 3 1 20 1-7 1-9 1-16 1 23 1 6 1-4 1-14 1 3 1-5 1 13 1-18 1 23 1-15 1-17 1-23 1 2 1 40 1 9 1-24 1-1 1-9 1 16 1-9 1-3 1 23 1-27 1 10 1-9 1 2 1-4 1 14 1 6 1-25 1 17 1 7 1-1 1-8 1-2 1-13 1 14 1 13 1-23 1 3 1 17 1-42 1-2 1 30 1 8 1-30 1 28 1 1 1-3 1-16 1-9 1 18 1-11 1 2 1-12 1 23 1 1 1-28 1 24 1-3 1 4 1-1 1-44 1 25 1-18 1-4 1 7 1 33 1-25 1 0 1 2 1 17 1-4 1 9 1-10 1-16 1 13 1 0 1-6 1-11 1 13 1-5 1-9 1 16 1 8 1-17 1 7 1 1 1-7 1 2 1 2 1-16 1 6 1-2 1 11 1-26 1-6 1 18 1-20 1 15 1 14 1-3 1-28 1 25 1-3 1 10 1-6 1-5 1 10 1-18 1 11 1-2 1 7 1-22 1-18 1 25 1-33 1 38 1-17 1 1 1 23 1-27 1 13 1 7 1 1 1-14 1 8 1-5 1-5 1 12 1 3 1-8 1-5 1 11 1-5 1 5 1-20 1 12 1-10 1 7 1-2 1-9 1 18 1-14 1-5 1-1 1 14 1-13 1 8 1 15 1-7 1-2 1-4 1-22 1 15 1-15 1 17 1 18 1-4 1 4 1-21 1-2 1 5 1 3 1-13 1 19 1-9 1 12 1-6 1 5 1-16 1 18 1-15 1-1 1 11 1-16 1 11 1 1 1-14 1 6 1 12 1-4 1-17 1 23 1-2 1-18 1-3 1 19 1-15 1 2 1 11 1-18 1 1 1 16 1-6 1 1 1-11 1 18 1-2 1-4 1-13 1 2 1 18 1-17 1-8 1 16 1-17 1 0 1 11 1-5 1 8 1-9 1 6 1 8 1-14 1-4 1 5 1 2 1 1 1-8 1 15 1-17 1 4 1-5 1-1 1 19 1-16 1 4 1-7 1 3 1 15 1-13 1 10 1 1 1 0 1 1 1 3 1-20 1 15 1 6 1-7 1-6 1 8 1-11 1-10 1 27 1-9 1-11 1 7 1 0 1-3 1 1 1 3 1-2 1 13 1 0 1-14 1 17 1-1 1-14 1 3 1 3 1 6 1 2 1 3 1-11 1-1 1 7 1-1 1 2 1-1 1 4 1-15 1 2 1 2 1-14 1 6 1 1 1-4 1 16 1-2 1 6 1-9 1 3 1 1 1 2 1-10 1-3 1 3 1 8 1 3 1-4 1 1 1-6 1 7 1-10 1-3 1 13 1-16 1-1 1 6 1-2 1 7 1 1 1-1 1-13 1 4 1 8 1-2 1-12 1 5 1 0 1 12 1-14 1 13 1 2 1-6 1 1 1-7 1-1 1 8 1 4 1-12 1-3 1 16 1-2 1-19 1 22 1-8 1-9 1 16 1-2 1-3 1-9 1 2 1 11 1-4 1-4 1 3 1 1 1 8 1-1 1-8 1-7 1 14 1-14 1 13 1-8 1 2 1 3 1-4 1 3 1 4 1-2 1-5 1 0 1-4 1-1 1-1 1 2 1-9 1 21 1-16 1-1 1 1 1 9 1-11 1 17 1-11 1 3 1 3 1 4 1-15 1 1 1 0 1 16 1-24 1 14 1 1 1-3 1 7 1-5 1 6 1-10 1 16 1-13 1 12 1-10 1-1 1 12 1-16 1 1 1 2 1 8 1-5 1 8 1 2 1-1 1-4 1 1 1-4 1 3 1-12 1 3 1 1 1-3 1 0 1 14 1 2 1-13 1 2 1 11 1-2 1 4 1-3 1 1 1-2 1-9 1 13 1 2 1-8 1-4 1 11 1-12 1 0 1 13 1-5 1 4 1-7 1-1 1-2 1 9 1-11 1 9 1-8 1 11 1 1 1-3 1-6 1 6 1-10 1 9 1-10 1-1 1 13 1-8 1 7 1-3 1-12 1-1 1 12 1 3 1-5 1-8 1-4 1 5 1 10 1-5 1-10 1 6 1-1 1-8 1 0 1 9 1-7 1 3 1-6 1 11 1 1 1-2 1-6 1-7 1 7 1-4 1 5 1-1 1-2 1-2 1 14 1-8 1 9 1-14 1-1 1 4 1 1 1 5 1-7 1 6 1-5 1 1 1 2 1 6 1 1 1-2 1-1 1-11 1 18 1-10 1-3 1 9 1 5 1-10 1 1 1-7 1 12 1-3 1-4 1 6 1-1 1-5 1-2 1-2 1 13 1-9 1 6 1-8 1 18 1 0 1-5 1-11 1 9 1 8 1-11 1 3 1 7 1-2 1-10 1 0 1 12 1-7 1-1 1 4 1 1 1 2 1-4 1 3 1 4 1 3 1 2 1-9 1-8 1 2 1 7 1 2 1 3 1-2 1-2 1-1 1 3 1-5 1 8 1-13 1 10 1 3 1-3 1-5 1-12 1 17 1-7 1-7 1 6 1-6 1 0 1 0 1 8 1-8 1 9 1 5 1-12 1 0 1 12 1-17 1 14 1-18 1 19 1-4 1-8 1 5 1-6 1 6 1-5 1-9 1 14 1 6 1 0 1-3 1-1 1-4 1 1 1 0 1 11 1-3 1-7 1-2 1 12 1-9 1 3 1 3 1-11 1-2 1 11 1 3 1-14 1 15 1-12 1 2 1-2 1 4 1-1 1-3 1 9 1-10 1 2 1-4 1 10 1-3 1 2 1-4 1-5 1 0 1 16 1-7 1-1 1 3 1-8 1 4 1 0 1-1 1 4 1-3 1 1 1 1 1 3 1 2 1-7 1 3 1 2 1-9 1 13 1-5 1 7 1-10 1 10 1-11 1 12 1-19 1 6 1 9 1-5 1 2 1 3 1-6 1-4 1-2 1 2 1 3 1 7 1-6 1-13 1 12 1 0 1 9 1-15 1 13 1-3 1 0 1 5 1-13 1-7 1 20 1-8 1-15 1 14 1 1 1-3 1 8 1-4 1-5 1 3 1-5 1 8 1 4 1-11 1-1 1 7 1 0 1 2 1-3 1-5 1 13 1-5 1 4 1-9 1 10 1-9 1 2 1 5 1-13 1 10 1-9 1-1 1 4 1-3 1 1 1 0 1-4 1 5 1 2 1-1 1 0 1 6 1-12 1 7 1 4 1-12 1 12 1 0 1-13 1 4 1-4 1 14 1-2 1-3 1-3 1 2 1 6 1-1 1-17 1 19 1-11 1 9 1-5 1 1 1-10 1 4 1 10 1 2 1-6 1-4 1 10 1-4 1 6 1 0 1-16 1 19 1-11 1 8 1 3 1-9 1 1 1 0 1 6 1 0 1 0 1-5 1 1 1 7 1-13 1-4 1 9 1-1 1-8 1 13 1 7 1-13 1 6 1 4 1-4 1 6 1-7 1 0 1-2 1-2 1 3 1 4 1 4 1-15 1 11 1-10 1 8 1 2 1 3 1-4 1 0 1 0 1-8 1 1 1-3 1 5 1 6 1-13 1 5 1 3 1-2 1-3 1-2 1 12 1-11 1 3 1 1 1-2 1 5 1-1 1-3 1 7 1-13 1 8 1-8 1 14 1-11 1 5 1-2 1 10 1-3 1-6 1 1 1 9 1-15 1 2 1-1 1 5 1-8 1 18 1-11 1 6 1 2 1 1 1-1 1-2 1-11" stroke="#7E2F8E"/>
<path class="c" d="M0 0l1 5 1 14 1 9 1 6 1 7 1 3 1 14 1 4 1 17 1 4 1 1 1 31 1 9 1 5 1 13 1 13 1 10 1 4 1 38 1 8 1 4 1 15 1-11 1 53 1 20 1-14 1 29 1 21 1-17 1 16 1 29 1 17 1 6 1-11 1 22 1 3 1 45 1 16 1 2 1-28 1 35 1 9 1-26 1 34 1-21 1 3 1-55 1 89 1-32 1-4 1-6 1 44 1-13 1 1 1 21 1-28 1-9 1 45 1 5 1-19 1 3 1-9 1 15 1 14 1-25 1 17 1-19 1 17 1-10 1-7 1 1 1 0 1-3 1 22 1-40 1 2 1 12 1-12 1 35 1-51 1 26 1 14 1 16 1-14 1-29 1 20 1-15 1-16 1 61 1-24 1-53 1 41 1-7 1-5 1-4 1 32 1-56 1 22 1-5 1-11 1-11 1 56 1-19 1 32 1-25 1-15 1 8 1-19 1-8 1 51 1-54 1 11 1 15 1 11 1-38 1 43 1-34 1 14 1-55 1 22 1 29 1 19 1-50 1-25 1 56 1-25 1 9 1 17 1-31 1 21 1 11 1-26 1 21 1 6 1-1 1-54 1 37 1-9 1-2 1 26 1-30 1 12 1-47 1 51 1-31 1 0 1-22 1 58 1-14 1-33 1 36 1 7 1-14 1-10 1-5 1-7 1-21 1 45 1-40 1 5 1-23 1 34 1 5 1 1 1 5 1-35 1 20 1-20 1-7 1 30 1-33 1 33 1 11 1-1 1-11 1-20 1 1 1-19 1 45 1-2 1-29 1 8 1 11 1-39 1 24 1-13 1 4 1-29 1 40 1-5 1-69 1 39 1 7 1 19 1-41 1 42 1-37 1 30 1-60 1-27 1 64 1 0 1-10 1-7 1 11 1 18 1-39 1 6 1 9 1-17 1-4 1 0 1 39 1-65 1 70 1-41 1-1 1-47 1 78 1-28 1-3 1 23 1 11 1 1 1-29 1-17 1-1 1 2 1 7 1 1 1 30 1-50 1 24 1-4 1 26 1-49 1 37 1-5 1-4 1 2 1-8 1-22 1-3 1-12 1 40 1 6 1-39 1-8 1 6 1-3 1 28 1 10 1 0 1-29 1 20 1-38 1 5 1-33 1 68 1-35 1 26 1-24 1 9 1-9 1 14 1-47 1 57 1 3 1-44 1 34 1-16 1 11 1 0 1 11 1-20 1 13 1-3 1-7 1-38 1 31 1-31 1 41 1-64 1 25 1 31 1 1 1-14 1-22 1 23 1 14 1-30 1 16 1-8 1 18 1-19 1-61 1 60 1 11 1-19 1 19 1-40 1 23 1 7 1-21 1 4 1-22 1-3 1 33 1-35 1 37 1-31 1 33 1-35 1 11 1-20 1 24 1-1 1 7 1-19 1 18 1-2 1-28 1 10 1 0 1 21 1-14 1-25 1 25 1-21 1-11 1 14 1-10 1 26 1-11 1-20 1 14 1-11 1 23 1-11 1-25 1 35 1-58 1 52 1-30 1-6 1 11 1 4 1-19 1-29 1 49 1 1 1-19 1 4 1 8 1-7 1 13 1-29 1 30 1-7 1 0 1-21 1 28 1-27 1-8 1 21 1-9 1 0 1-36 1 31 1-8 1 11 1-7 1 5 1-17 1 16 1 18 1-31 1 19 1-8 1-16 1 17 1 3 1-14 1 28 1-33 1-4 1 4 1 11 1-5 1 19 1-3 1-18 1 1 1-43 1 52 1-15 1-4 1 19 1-27 1 5 1 16 1-23 1 8 1 12 1-23 1-5 1-49 1 63 1-5 1-13 1-1 1 30 1-22 1 17 1-8 1-54 1-10 1 44 1 3 1 21 1-21 1-13 1 12 1-15 1-1 1 8 1-8 1 24 1-22 1 7 1 2 1-57 1 63 1-26 1 8 1-3 1 15 1-5 1-4 1-9 1-7 1 20 1-4 1-24 1 4 1 8 1-3 1-20 1-1 1 29 1-10 1-4 1 5 1-9 1-2 1-2 1 9 1-1 1-14 1 2 1 14 1-27 1-14 1 34 1-16 1 27 1-14 1-13 1-7 1-9 1 26 1 8 1 2 1-27 1 16 1 0 1-41 1 32 1-2 1-8 1 14 1-17 1 19 1 2 1-10 1-6 1-17 1 10 1-5 1 28 1-21 1-12 1 19 1 9 1-12 1-3 1-17 1 1 1 5 1 19 1-21 1 22 1-7 1-7 1 12 1-6 1-2 1-1 1-8 1-2 1 12 1-9 1 6 1-22 1 3 1 11 1-8 1 2 1 21 1 0 1-21 1-9 1 27 1-28 1 5 1 18 1 0 1-8 1-14 1 19 1-38 1 41 1-14 1-3 1 12 1-14 1 22 1-24 1 25 1-27 1 3 1 18 1-3 1 0 1-15 1 1 1-2 1 13 1-16 1 10 1-13 1 27 1-47 1 27 1 12 1-18 1 4 1 8 1 1 1 8 1-10 1-32 1 33 1 4 1 1 1-13 1-2 1-6 1 12 1-4 1 1 1-1 1-9 1 22 1-22 1 2 1 3 1 8 1-18 1 6 1-6 1 20 1-12 1 14 1-22 1 11 1-11 1 17 1-11 1 9 1-4 1-4 1-14 1-1 1 14 1-11 1 19 1-15 1-3 1 1 1 14 1-6 1 3 1-15 1 17 1-22 1 0 1 6 1 6 1 6 1 0 1 0 1-4 1 2 1-9 1-4 1 18 1-6 1-12 1 0 1 10 1 0 1-12 1 18 1-28 1 20 1 4 1-17 1 17 1-7 1-5 1-2 1 4 1 12 1-17 1-1 1 9 1-1 1 8 1-17 1 12 1-11 1 12 1-14 1 9 1 0 1 1 1-9 1 9 1 9 1-7 1-5 1 3 1-12 1 7 1-7 1-1 1 21 1-17 1 13 1-8 1-14 1 15 1-10 1 7 1 3 1 8 1-16 1-5 1 11 1-2 1-5 1 12 1-12 1 7 1 0 1 2 1 9 1 0 1-2 1-8 1 5 1-12 1 18 1 2 1-17 1 5 1 8 1-15 1 0 1 14 1-6 1-3 1 4 1 5 1 6 1-7 1 2 1-14 1 2 1 2 1-3 1 11 1-9 1 2 1-4 1 6 1 8 1-14 1 9 1 4 1-2 1-11 1 14 1-3 1 0 1 6 1-27 1 11 1 7 1-6 1 0 1-2 1 4 1-2 1 17 1-4 1-4 1-6 1 1 1 6 1 4 1-12 1 15 1-12 1 0 1-1 1 1 1 3 1-1 1-10 1 4 1-18 1 16 1-5 1 9 1-9 1 15 1-3 1-4 1 2 1-12 1 1 1 2 1-4 1 17 1-13 1 12 1-10 1-8 1 9 1 2 1-10 1 6 1-6 1 14 1-14 1 11 1-9 1 1 1 5 1-13 1 7 1 6 1 7 1 2 1-26 1 23 1-6 1-3 1 8 1-6 1-4 1-4 1 12 1-2 1-6 1-9 1 17 1-1 1 0 1-1 1-4 1 6 1 0 1 1 1-10 1 4 1-8 1 6 1 8 1 2 1-21 1 22 1-29 1 16 1-3 1-1 1 4 1 0 1 7 1 0 1 1 1 2 1-7 1-4 1 7 1-10 1 7 1-2 1-6 1 1 1 2 1 10 1-13 1 13 1-5 1-7 1 15 1-9 1-3 1 0 1-2 1 8 1-1 1-9 1 9 1 2 1-13 1 7 1 9 1-8 1-1 1-6 1 7 1-12 1 9 1 9 1-1 1-4 1-8 1 4 1 11 1 0 1-12 1 3 1 11 1-2 1-4 1 2 1-13 1 16 1-22 1 12 1-2 1 13 1-2 1-6 1 4 1-9 1 6 1-4 1 9 1-9 1 3 1 5 1-8 1-7 1 15 1-4 1-4 1 0 1-2 1 12 1-14 1 4 1 1 1 6 1 0 1-5 1-11 1 19 1-16 1 8 1-8 1 13 1 0 1 0 1-11 1 4 1 0 1-4 1 11 1 0 1-8 1 9 1-4 1-11 1 1 1 14 1-7 1-6 1 10 1-5 1 11 1-9 1-2 1 9 1-10 1 2 1-15 1 14 1 9 1-14 1 7 1-6 1 2 1 11 1-8 1 0 1 7 1-2 1 6 1-7 1-8 1 13 1 2 1-1 1-11 1 12 1-4 1-1 1-6 1 7 1-8 1-3 1 9 1-11 1 5 1-4 1 7 1-3 1 2 1 0 1 0 1 9 1-2 1 0 1-3 1 3 1-5 1-9 1 0 1 6 1-6 1 4 1 1 1-8 1 3 1-4 1 9 1-2 1 5 1-13 1-6 1 20 1-7 1 8 1-12 1 8 1 0 1-9 1 11 1 0 1-10 1 2 1 6 1-9 1 15 1-7 1-8 1 1 1 16 1-2 1-8 1 7 1-6 1 10 1-1 1-1 1-9 1 5 1 0 1 6 1-2 1-12 1 13 1-8 1 2 1-4 1 2 1-3 1 3 1 3 1-5 1-5 1 8 1 9 1 0 1-9 1 9 1-14 1 6 1-7 1 4 1-6 1 1 1 0 1 16 1-6 1-10 1 14 1-10 1 4 1-5 1-13 1 11 1 7 1-13 1 14 1-5 1-1 1 8 1-14 1 14 1-15 1 14 1-13 1 5 1 2 1 6 1-17 1 14 1-6 1-8 1 3 1 3 1 8 1 0 1-5 1 5 1-12 1 13 1 3 1-21 1 17 1-2 1-3 1 0 1 3 1-3 1 5 1 1 1 8 1-6 1 6 1-1 1-21 1 5 1 9 1 9 1-13 1 7 1-5 1 11 1-3 1-2 1-1 1-3 1-6 1 2 1 11 1-9 1 10 1-5 1-8 1 10 1-8 1-1 1 12 1-3 1-6 1-11 1 15 1 5 1-3 1 3 1-14 1 6 1-6 1 2 1 12 1-16 1 2 1-1 1 12 1-7 1 7 1 1 1-14 1 0 1 0 1 4 1-7 1-1 1-1 1 3 1-1 1-3 1 16 1-21 1-1 1 8 1 7 1 3 1-10 1 7 1-6 1 2 1 7 1-4 1 2 1-7 1 14 1-14 1 10 1-8 1 12 1-1 1-14 1 8 1-5 1 5 1-8 1 2 1 2 1-3 1 4 1 5 1 3 1 1 1-7 1 8 1-1 1-10 1 7 1-1 1-3 1 10 1-11 1-1 1 11 1-4 1 5 1-16 1 6 1 10 1-16 1 14 1-12 1 9 1-18 1 19 1-8 1-1 1 7 1-6 1 0 1-1 1 7 1 2 1 3 1-18 1 1 1 15 1-4 1-12 1 15 1-5 1 6" stroke="#77AC30"/>
</g></g>
<rect x="10.50" y="253.50" width="316.00" height="88.00" fill="none" stroke="#7c7c7c" stroke-width="1.00"/>
<path d="M10.50 341.50h4M326.50 341.50h-4M10.50 328.50h4M326.50 328.50h-4M10.50 316.50h4M326.50 316.50h-4M10.50 303.50h4M326.50 303.50h-4M10.50 291.50h4M326.50 291.50h-4M10.50 278.50h4M326.50 278.50h-4M10.50 265.50h4M326.50 265.50h-4M10.50 253.50h4M326.50 253.50h-4M10.50 341.50v-4M10.50 253.50v4M63.50 341.50v-4M63.50 253.50v4M115.50 341.50v-4M115.50 253.50v4M168.50 341.50v-4M168.50 253.50v4M221.50 341.50v-4M221.50 253.50v4M273.50 341.50v-4M273.50 253.50v4M326.50 341.50v-4M326.50 253.50v4" stroke="#7c7c7c" stroke-width="1.00" fill="none"/>
<text x="8.80" y="343.40" font-size="5.6" style="stroke-width:1.00px;stroke:#c4c4c4" text-anchor="end" textLength="9.0" lengthAdjust="spacingAndGlyphs">-100</text>
<text x="8.80" y="330.83" font-size="5.6" style="stroke-width:1.00px;stroke:#c4c4c4" text-anchor="end" textLength="2.6" lengthAdjust="spacingAndGlyphs">0</text>
<text x="8.80" y="318.26" font-size="5.6" style="stroke-width:1.00px;stroke:#c4c4c4" text-anchor="end" textLength="7.3" lengthAdjust="spacingAndGlyphs">100</text>
<text x="8.80" y="305.69" font-size="5.6" style="stroke-width:1.00px;stroke:#c4c4c4" text-anchor="end" textLength="7.3" lengthAdjust="spacingAndGlyphs">200</text>
<text x="8.80" y="293.11" font-size="5.6" style="stroke-width:1.00px;stroke:#c4c4c4" text-anchor="end" textLength="7.3" lengthAdjust="spacingAndGlyphs">300</text>
<text x="8.80" y="280.54" font-size="5.6" style="stroke-width:1.00px;stroke:#c4c4c4" text-anchor="end" textLength="7.3" lengthAdjust="spacingAndGlyphs">400</text>
<text x="8.80" y="267.97" font-size="5.6" style="stroke-width:1.00px;stroke:#c4c4c4" text-anchor="end" textLength="7.3" lengthAdjust="spacingAndGlyphs">500</text>
<text x="8.80" y="255.40" font-size="5.6" style="stroke-width:1.00px;stroke:#c4c4c4" text-anchor="end" textLength="7.3" lengthAdjust="spacingAndGlyphs">600</text>
<text x="10.30" y="349.50" font-size="5.8" style="stroke-width:1.00px;stroke:#c4c4c4" text-anchor="middle" textLength="3.0" lengthAdjust="spacingAndGlyphs">0</text>
<text x="63.02" y="349.50" font-size="5.8" style="stroke-width:1.00px;stroke:#c4c4c4" text-anchor="middle" textLength="9.3" lengthAdjust="spacingAndGlyphs">200</text>
<text x="115.73" y="349.50" font-size="5.8" style="stroke-width:1.00px;stroke:#c4c4c4" text-anchor="middle" textLength="9.3" lengthAdjust="spacingAndGlyphs">400</text>
<text x="168.45" y="349.50" font-size="5.8" style="stroke-width:1.00px;stroke:#c4c4c4" text-anchor="middle" textLength="9.3" lengthAdjust="spacingAndGlyphs">600</text>
<text x="221.17" y="349.50" font-size="5.8" style="stroke-width:1.00px;stroke:#c4c4c4" text-anchor="middle" textLength="9.3" lengthAdjust="spacingAndGlyphs">800</text>
<text x="273.88" y="349.50" font-size="5.8" style="stroke-width:1.00px;stroke:#c4c4c4" text-anchor="middle" textLength="12.4" lengthAdjust="spacingAndGlyphs">1000</text>
<text x="326.60" y="349.50" font-size="5.8" style="stroke-width:1.00px;stroke:#c4c4c4" text-anchor="middle" textLength="12.4" lengthAdjust="spacingAndGlyphs">1200</text>
<rect x="252.70" y="257.90" width="70.80" height="39.70" fill="#fff" stroke="#ffffff" stroke-width="0.10"/>
<rect x="252.50" y="257.50" width="71.00" height="40.00" fill="none" stroke="#7c7c7c" stroke-width="1.00"/>
<path d="M254.00 263.00h18.2" stroke="#0072BD" stroke-width="2" stroke-opacity="0.62"/>
<text x="273.30" y="264.70" font-size="6.0" textLength="26.1" lengthAdjust="spacingAndGlyphs">PQWGAN</text>
<path d="M254.00 270.00h18.2" stroke="#D95319" stroke-width="2" stroke-opacity="0.62"/>
<text x="273.30" y="272.50" font-size="6.0" textLength="42.6" lengthAdjust="spacingAndGlyphs">WGAN-GP-Lite</text>
<path d="M254.00 278.00h18.2" stroke="#EDB120" stroke-width="2" stroke-opacity="0.62"/>
<text x="273.30" y="280.30" font-size="6.0" textLength="38.3" lengthAdjust="spacingAndGlyphs">WGAN-GP-Big</text>
<path d="M254.00 286.00h18.2" stroke="#7E2F8E" stroke-width="2" stroke-opacity="0.62"/>
<text x="273.30" y="288.10" font-size="6.0" textLength="47.4" lengthAdjust="spacingAndGlyphs">QuantumPatchGAN</text>
<path d="M254.00 294.00h18.2" stroke="#77AC30" stroke-width="2" stroke-opacity="0.62"/>
<text x="273.30" y="295.90" font-size="6.0" textLength="33.3" lengthAdjust="spacingAndGlyphs">QINN-QGAN</text>
<clipPath id="c5"><rect x="362.10" y="253.40" width="316.30" height="88.00"/></clipPath>
<text x="520.25" y="249.50" font-size="9.40" font-weight="normal" text-anchor="middle">Number 9 Wasserstein Distance</text>
<g clip-path="url(#c5)">
<path d="M362.10 328.50H678.40" stroke="#FF00FF" stroke-width="1.5" stroke-opacity="0.55" fill="none"/>
<g transform="matrix(0.263583 0 0 -0.125714 362.100 328.829)">
<path class="c" d="M0 0l1 4 1 12 1 11 1 28 1-19 1 25 1 52 1-30 1 19 1-38 1 10 1 46 1-2 1 48 1-22 1-21 1 1 1-12 1 20 1-10 1 40 1 49 1-71 1-2 1 37 1 46 1-47 1 60 1 1 1-120 1 43 1 57 1-54 1 48 1-63 1-6 1 57 1-62 1 47 1-54 1 69 1-87 1 54 1-41 1 39 1-25 1 93 1-82 1 18 1-29 1 35 1-14 1 12 1-29 1 25 1 36 1-45 1-38 1 3 1 47 1-36 1 33 1-39 1 45 1-88 1 24 1 39 1-24 1 14 1-9 1-12 1 16 1 13 1-34 1 2 1 47 1-40 1 13 1 9 1-9 1-4 1 15 1 1 1-11 1 33 1-15 1-51 1 41 1 19 1-29 1 1 1 49 1-59 1 12 1 17 1-8 1 6 1-4 1-12 1 0 1 42 1-20 1-18 1 12 1 8 1-24 1 17 1-12 1 21 1-14 1 1 1-4 1 21 1-15 1-24 1 27 1-25 1 18 1-17 1 8 1-2 1 4 1-21 1 3 1 26 1-15 1 13 1-10 1-12 1 1 1 11 1-19 1 6 1-5 1 17 1-18 1 15 1-7 1 2 1-3 1-2 1 5 1-1 1-14 1 4 1 5 1 9 1-24 1 17 1 2 1 13 1-9 1 6 1 8 1-21 1-16 1 19 1-14 1-15 1 4 1-3 1 19 1 1 1-5 1-2 1 21 1-6 1-11 1 14 1-24 1 22 1 5 1-1 1 4 1-4 1-20 1-15 1 25 1-3 1-22 1 25 1 4 1 16 1-26 1-6 1 24 1-2 1 10 1-27 1 31 1-50 1 10 1 4 1-16 1 23 1-19 1 26 1-16 1 4 1 1 1 16 1-8 1-2 1-18 1 22 1-35 1 22 1 2 1 2 1-12 1-12 1 39 1-9 1-2 1-30 1 25 1-22 1 21 1-3 1 9 1-17 1 6 1 9 1-25 1 33 1-10 1-14 1-1 1 17 1 12 1-8 1-11 1-10 1 17 1-22 1 8 1 5 1 11 1-2 1-8 1-11 1 36 1-30 1-3 1 10 1-20 1 11 1-2 1 32 1-12 1-25 1 9 1 16 1-25 1 12 1-19 1 9 1 1 1 8 1-3 1 30 1-23 1-15 1 16 1-2 1 1 1-16 1 23 1-28 1 16 1-4 1 2 1-10 1 19 1 14 1 9 1-21 1-8 1 3 1-10 1 2 1 13 1-3 1-16 1 13 1 10 1-10 1-7 1 13 1-7 1-9 1 3 1 27 1 8 1 0 1-24 1 14 1-18 1 9 1 0 1-4 1 11 1-8 1 6 1-7 1-7 1-7 1 17 1-10 1 3 1-6 1 31 1-24 1-6 1 21 1 19 1-19 1-4 1-13 1 4 1 18 1-12 1 0 1-11 1 10 1-2 1-6 1-11 1-4 1-6 1 10 1 24 1-11 1 10 1-1 1-10 1 3 1 2 1-5 1 0 1-7 1 3 1-8 1 5 1 23 1-8 1-38 1 14 1 1 1 15 1-12 1-10 1 5 1 7 1 3 1 3 1-14 1 22 1-29 1 13 1-2 1-14 1-8 1 31 1-8 1 5 1-12 1-14 1 23 1-19 1 14 1-1 1 33 1-39 1 13 1 22 1-18 1-8 1 15 1-3 1 10 1-21 1 1 1-9 1 11 1 10 1-2 1-25 1 4 1 10 1-4 1 11 1 13 1-27 1 9 1 2 1 11 1-18 1 2 1 16 1-15 1 24 1-18 1-15 1-1 1 7 1 0 1 8 1-3 1 19 1-27 1 31 1-32 1 18 1-2 1-3 1 16 1 3 1-18 1 10 1-21 1 32 1-24 1 11 1-7 1 6 1-15 1 18 1 2 1-28 1 4 1 27 1-15 1-1 1 19 1 15 1-29 1 18 1-14 1-29 1 29 1-3 1 10 1 0 1-1 1-10 1 5 1 20 1-9 1-3 1-16 1-1 1-9 1 27 1-18 1 21 1-25 1 0 1 21 1-12 1 12 1-5 1-2 1 19 1-30 1-15 1 35 1-3 1-7 1 6 1 7 1-13 1 3 1-1 1-1 1 10 1-8 1 17 1-17 1 24 1-30 1 9 1-5 1-3 1-4 1 12 1-8 1 8 1-2 1 14 1-46 1 30 1-9 1-16 1 25 1-9 1 32 1-39 1-10 1 20 1-11 1-2 1 4 1 9 1-8 1 34 1-40 1 13 1 10 1-18 1 6 1-23 1 30 1-5 1-21 1 17 1 16 1-33 1 19 1-18 1-10 1 31 1-27 1 24 1-17 1 11 1 1 1-2 1-10 1 0 1 38 1-3 1-16 1 10 1-21 1 16 1 3 1-18 1-10 1 14 1 0 1 13 1-20 1 15 1 4 1 1 1-19 1 24 1-1 1 7 1-24 1-3 1 8 1 6 1 2 1 20 1-18 1 4 1-24 1 8 1-4 1 39 1-51 1 28 1-13 1 15 1-12 1-4 1 7 1-1 1-9 1-9 1 19 1-12 1 2 1 7 1 1 1-2 1 5 1-12 1 4 1 3 1 14 1-14 1-14 1 27 1-23 1 31 1-24 1-2 1 1 1 6 1 30 1-24 1-4 1-30 1 30 1 30 1-57 1 30 1-3 1-20 1 14 1-3 1 8 1-3 1 19 1-21 1 30 1-15 1-20 1 4 1 13 1-2 1 16 1-42 1 8 1 18 1 7 1-14 1-16 1 37 1-22 1 15 1-17 1-5 1-6 1 10 1 15 1-23 1-6 1 9 1 30 1-28 1 24 1-24 1-7 1 4 1 7 1-16 1 21 1 6 1-15 1-7 1 30 1 1 1-12 1-13 1 5 1-1 1 11 1 5 1 18 1-15 1-17 1 27 1-22 1 2 1 11 1 5 1-35 1 37 1-14 1-3 1-22 1 33 1-18 1 15 1-23 1 42 1-24 1-11 1 0 1-1 1-6 1 20 1-16 1 19 1 8 1-16 1 13 1-20 1 4 1 2 1 7 1-2 1 12 1-11 1 17 1-24 1-3 1 21 1-3 1 8 1-16 1 17 1-32 1 4 1-4 1 28 1-14 1 2 1 6 1-1 1 0 1 17 1-11 1-26 1 1 1 7 1-24 1 35 1-14 1 8 1-9 1 8 1 3 1-4 1-1 1 12 1 4 1-32 1-14 1 29 1 1 1 5 1-5 1 12 1-10 1-9 1-18 1 31 1-16 1 0 1 7 1 15 1-19 1-10 1 0 1 18 1-17 1 13 1-2 1-1 1-10 1-7 1 44 1-26 1-9 1 7 1 8 1-15 1 3 1 16 1-1 1-4 1 3 1-9 1 7 1-12 1-6 1 13 1 8 1 1 1-15 1 11 1-5 1-8 1 0 1-7 1 19 1-24 1 4 1 6 1-18 1 38 1-2 1-22 1 28 1-6 1-35 1 22 1 8 1 13 1 4 1-15 1 11 1 4 1 12 1-36 1 10 1-32 1 3 1 17 1 3 1-16 1 42 1-44 1-7 1 37 1-21 1 9 1 20 1 9 1-4 1-30 1-12 1 31 1 13 1-25 1-3 1 11 1-6 1 27 1-6 1-20 1-4 1-4 1 15 1 8 1-9 1 21 1-8 1-14 1-2 1-13 1 13 1 10 1 3 1-5 1-24 1 26 1 7 1-27 1-1 1 20 1 25 1-29 1-1 1 1 1-2 1-5 1 1 1 5 1 0 1-7 1-5 1 14 1-22 1 8 1 12 1-26 1 29 1-12 1 11 1-7 1 2 1-30 1 34 1-12 1 9 1-10 1-8 1 20 1-5 1 4 1-11 1 13 1-5 1-17 1 13 1 6 1-16 1 8 1 17 1-23 1 5 1-24 1 22 1 1 1 0 1 13 1-11 1 9 1-14 1-8 1 21 1-28 1 25 1 20 1-30 1 4 1 15 1-4 1-2 1 2 1-9 1 18 1-18 1-6 1 23 1-7 1-12 1-12 1 18 1-10 1-16 1 22 1 2 1-7 1-3 1 2 1-2 1 18 1-1 1-3 1-12 1 19 1 4 1-11 1-9 1 5 1 5 1 9 1-6 1 5 1 8 1-6 1-10 1 5 1-15 1 12 1 12 1-26 1 14 1 11 1-12 1-17 1 12 1-2 1 12 1 6 1-40 1 26 1 3 1-6 1-6 1 10 1-3 1-8 1 3 1 12 1-3 1 6 1-5 1 3 1-31 1 28 1 23 1-31 1-14 1-1 1 34 1-5 1-36 1 15 1 33 1-30 1 14 1-10 1 12 1-32 1 11 1 1 1 22 1-9 1-3 1-31 1 14 1-4 1 31 1-16 1-1 1 1 1-13 1 20 1-8 1 4 1-13 1 7 1 7 1 0 1 2 1-19 1 16 1-14 1 45 1-29 1-32 1 18 1 22 1-31 1 39 1-25 1 25 1-21 1-22 1 41 1-35 1 27 1-36 1 31 1 10 1 2 1-15 1-12 1 7 1-8 1 10 1-4 1-11 1 21 1-7 1-5 1 5 1 6 1 9 1-10 1 16 1-40 1 11 1 17 1 4 1-20 1 1 1 5 1-14 1 10 1 14 1 2 1-12 1-1 1 9 1-9 1 0 1 21 1-40 1 29 1 6 1-33 1-15 1 24 1-5 1 21 1 1 1-31 1 28 1 2 1-20 1 4 1 4 1-3 1 11 1 6 1 0 1-18 1-19 1 22 1 18 1-43 1 39 1 20 1-23 1 9 1-23 1-22 1 28 1 5 1 7 1-18 1 35 1-20 1 7 1-19 1 20 1-8 1-5 1 16 1 4 1-19 1 14 1-23 1 31 1 13 1-34 1 19 1-10 1 10 1-8 1-13 1 13 1-4 1 0 1 3 1 0 1-12 1-5 1 3 1-2 1 22 1-12 1-12 1 11 1 6 1-4 1-20 1-1 1 5 1 6 1 4 1-6 1 7 1-17 1 10 1-10 1 7 1 19 1-11 1-17 1 23 1-3 1 23 1-43 1 36 1-15 1-2 1-15 1 17 1 19 1-43 1 14 1 5 1 14 1 10 1 7 1 6 1-11 1-12 1-5 1 18 1 3 1-21 1 9 1 5 1 32 1-23 1-5 1-22 1 7 1 16 1 14 1-26 1-6 1 15 1 5 1-8 1 6 1 15 1-21 1 3 1 1 1 16 1-35 1 8 1 14 1-4 1-4 1-5 1 4 1 19 1-13 1 5 1-10 1-1 1-12 1 26 1-26 1 8 1 4 1 1 1-6 1-11 1 12 1 7 1-1 1 6 1-5 1-9 1-5 1 26" stroke="#0072BD"/>
<path class="c" d="M0 0l1 8 1 4 1 1 1 15 1-1 1 19 1 4 1 12 1 6 1 9 1-1 1 0 1 15 1 18 1-4 1 14 1 10 1 5 1 8 1 3 1-1 1 11 1 13 1 0 1 14 1 8 1 16 1 9 1 25 1 13 1-15 1-4 1 10 1-23 1 9 1 23 1 23 1-15 1 10 1 16 1-15 1-14 1 15 1 7 1 0 1-39 1 8 1-7 1-26 1-13 1 9 1-19 1-13 1-1 1-24 1-44 1-15 1-3 1 4 1-9 1-4 1-30 1-6 1-1 1 38 1-37 1 6 1-8 1-2 1-4 1 11 1-11 1-1 1 12 1-25 1 13 1-7 1 16 1-3 1 5 1 19 1-33 1 23 1 0 1-6 1 13 1 9 1-12 1 0 1 1 1 9 1-16 1 19 1-11 1-11 1 10 1-3 1 4 1 1 1-24 1-7 1 2 1-18 1 11 1 3 1-8 1-5 1-9 1-4 1 8 1 2 1-2 1-6 1 6 1 7 1-9 1 1 1 2 1-6 1 14 1-13 1 20 1-22 1 0 1-7 1 25 1-12 1-1 1 5 1-12 1-9 1 19 1-8 1-16 1 8 1 4 1-6 1 0 1 8 1-5 1-2 1-16 1 18 1 1 1-16 1 10 1-2 1 8 1-20 1 5 1 11 1 5 1 5 1-6 1-10 1 5 1-11 1 10 1 10 1-10 1 6 1-7 1-3 1-6 1 10 1 14 1-14 1 4 1-3 1-5 1 0 1 14 1 5 1-19 1-8 1 7 1-3 1 8 1-5 1-3 1-3 1 0 1 1 1 7 1-1 1-11 1 2 1-3 1 18 1-17 1 12 1-8 1-4 1 1 1 6 1-11 1 4 1-5 1-2 1-1 1-3 1 6 1-8 1 0 1 23 1-8 1-11 1 9 1 1 1 4 1-25 1 18 1-8 1 5 1-1 1-6 1 10 1-1 1-4 1 10 1-2 1-14 1 12 1 7 1 0 1 3 1-16 1 8 1 9 1-12 1 6 1 0 1-5 1 18 1-11 1-1 1-9 1 6 1-5 1-5 1 6 1 3 1-4 1 4 1-4 1 7 1-2 1 5 1-13 1 12 1-10 1 9 1-2 1 3 1-13 1 17 1 0 1-13 1 14 1-7 1-7 1 12 1-6 1 4 1-9 1-10 1 18 1 2 1 4 1-11 1 8 1 8 1-7 1-22 1 18 1-5 1 8 1-11 1-3 1 5 1-4 1 3 1 1 1 1 1-7 1-2 1 13 1-10 1 7 1 5 1-12 1 0 1 4 1-10 1 5 1 4 1-5 1 3 1-4 1 8 1 5 1-6 1-6 1 12 1-2 1-3 1 9 1-12 1 12 1-2 1-8 1-9 1 15 1-7 1 7 1-5 1 6 1-3 1 4 1-10 1-4 1 2 1 0 1 3 1 7 1-8 1 14 1-10 1-1 1 16 1-21 1-5 1 12 1-9 1 2 1 2 1 0 1-3 1 7 1-9 1-6 1 12 1-4 1 2 1-18 1 12 1 4 1-4 1 1 1 8 1 5 1-9 1 8 1-13 1 4 1-5 1 6 1-3 1 3 1-18 1 21 1-2 1 7 1 0 1-12 1 14 1 2 1 12 1 3 1-4 1 4 1 6 1-13 1 19 1-10 1 9 1 6 1 1 1-6 1 4 1 5 1 3 1-7 1 8 1 1 1 0 1 5 1-23 1 7 1 8 1-1 1 10 1-2 1 14 1-6 1-12 1-7 1 16 1-9 1 12 1-5 1 7 1-3 1-10 1 18 1-9 1 7 1 16 1-15 1-1 1-2 1-3 1 9 1-4 1-4 1 11 1-10 1-2 1-7 1 13 1-5 1-6 1 14 1 3 1-16 1-2 1 6 1-1 1-12 1 4 1-8 1-4 1 4 1-9 1-3 1 9 1 0 1-20 1 15 1-7 1-8 1 15 1-20 1 4 1 12 1-5 1-11 1 6 1-7 1-8 1 10 1-11 1 10 1 1 1-7 1-6 1-1 1-11 1-4 1 16 1-8 1 7 1 9 1-2 1 0 1-13 1 18 1-14 1-3 1 25 1-19 1-3 1 10 1-11 1 10 1 2 1 2 1-2 1 3 1-2 1-15 1 17 1-8 1-4 1 7 1-5 1 6 1-10 1 1 1 6 1-9 1 9 1 1 1-2 1 9 1-14 1 4 1-2 1 2 1 5 1-15 1 1 1 6 1-2 1-6 1-5 1 5 1 9 1 4 1-4 1-20 1 20 1-6 1-1 1 10 1 14 1-9 1-3 1-3 1 4 1-4 1-15 1 14 1 10 1-3 1-1 1-1 1 8 1-12 1 9 1-5 1-7 1 7 1-3 1 1 1 5 1 0 1-10 1 24 1-17 1 8 1-7 1 0 1-7 1-3 1 4 1 5 1 4 1 0 1-8 1 10 1-3 1 8 1-22 1 5 1 14 1-9 1-11 1 10 1 8 1 0 1 12 1-9 1-4 1-15 1 4 1 12 1-14 1 2 1 3 1 4 1-2 1 8 1-13 1-10 1 14 1-4 1-4 1 9 1-4 1-7 1 5 1-10 1 7 1 2 1 2 1-10 1 3 1 2 1-9 1 16 1-5 1 0 1 11 1-13 1 8 1-6 1 2 1 1 1 3 1-1 1-3 1-1 1 5 1-13 1 11 1 9 1-5 1 4 1-4 1-18 1 20 1-15 1 4 1 4 1 5 1-16 1 13 1-6 1-2 1 5 1-1 1 4 1 11 1-18 1 5 1-3 1-6 1 9 1 2 1 13 1-5 1-9 1 19 1-7 1-21 1 10 1 11 1-4 1 2 1 3 1 4 1 10 1-14 1 6 1-4 1 6 1-5 1 9 1-7 1 16 1 6 1-15 1 11 1-11 1-9 1 16 1-13 1 14 1-25 1 24 1-7 1 2 1 0 1-3 1 0 1-9 1 17 1 2 1-6 1-11 1 5 1 4 1 10 1 2 1-14 1 0 1 3 1-4 1-5 1 16 1-5 1-7 1-6 1 10 1-19 1 13 1 12 1-22 1 13 1 2 1-4 1-5 1 9 1-14 1 21 1-7 1-3 1-6 1-7 1 10 1-9 1 1 1 7 1 3 1-7 1 6 1 13 1 7 1-12 1-12 1 9 1-14 1 12 1-19 1 0 1 24 1 8 1-17 1-5 1 15 1 12 1-12 1-3 1 8 1-16 1 15 1-4 1 0 1 18 1-26 1-13 1 12 1 3 1 5 1-4 1 8 1-24 1 28 1-15 1-9 1 20 1 7 1-10 1-10 1 5 1 1 1 8 1-10 1 10 1-10 1 14 1-14 1-10 1 21 1-13 1 9 1-4 1-4 1 9 1-3 1-12 1 12 1 7 1-7 1-5 1 11 1-15 1 19 1-14 1-5 1 4 1-5 1 9 1 7 1-15 1 15 1-29 1 11 1 5 1-4 1 0 1 15 1-17 1 15 1 5 1-6 1-13 1-9 1 18 1 5 1-8 1 1 1 16 1 1 1-21 1 4 1-16 1 30 1-13 1 13 1-8 1-4 1-3 1-1 1 1 1 9 1 8 1-1 1-9 1-13 1 27 1-17 1 14 1-13 1 1 1 7 1 1 1-3 1-7 1 5 1 19 1-10 1 17 1-16 1-2 1-12 1 3 1 7 1-9 1 12 1 4 1-7 1-14 1 23 1-27 1 16 1 9 1-4 1-8 1 9 1-12 1 18 1-9 1 8 1-2 1-3 1-18 1 6 1 9 1 5 1-7 1 7 1 1 1-16 1 1 1 13 1-17 1 0 1 8 1-2 1 29 1-12 1-9 1-1 1 6 1-13 1 11 1-1 1-13 1 0 1-6 1 12 1-8 1 7 1-13 1-3 1 27 1-26 1 11 1-27 1 27 1-22 1 27 1-12 1 1 1 7 1-17 1 17 1-12 1 5 1-32 1 23 1 1 1 6 1-12 1 25 1-24 1 8 1 2 1-10 1 11 1-5 1-2 1-10 1 25 1-6 1-23 1 25 1 6 1-25 1 42 1-13 1 4 1-3 1-12 1-6 1 17 1 10 1-23 1 22 1-5 1 14 1-10 1-11 1 20 1-3 1-21 1 15 1-21 1 14 1 1 1 8 1-12 1 1 1 6 1-13 1-3 1 6 1 8 1-6 1-8 1 3 1-7 1 7 1 12 1-14 1 11 1 10 1-20 1 11 1 5 1-5 1 5 1-15 1-10 1 6 1 6 1 18 1-29 1 10 1-13 1 5 1 8 1 11 1 8 1-31 1 27 1-13 1 13 1-31 1 3 1 15 1-8 1-8 1 14 1 2 1-22 1 23 1-8 1-4 1-3 1 12 1-5 1-7 1 7 1-2 1 5 1-11 1 5 1 7 1 1 1 4 1 2 1-7 1-4 1-13 1 27 1-34 1 16 1 26 1-13 1-25 1 8 1 11 1-5 1-10 1-1 1 17 1 10 1-24 1 4 1-2 1 7 1-1 1-12 1 18 1 0 1-9 1 20 1-12 1 2 1 15 1-16 1-5 1-2 1 19 1-16 1 15 1 0 1-34 1 19 1-16 1 27 1 10 1-21 1 4 1-6 1 20 1-28 1 8 1 21 1-2 1-19 1 5 1 2 1-4 1 10 1-11 1 2 1 8 1-4 1-4 1 18 1-25 1 4 1 6 1-25 1 23 1 11 1-26 1 9 1 16 1-30 1 20 1-7 1 0 1 7 1 12 1-7 1-8 1-7 1 23 1-22 1 11 1-13 1 19 1-3 1-14 1 1 1-10 1 5 1 9 1 9 1-14 1 14 1-4 1-7 1 11 1-8 1 20 1 0 1-29 1-2 1 13 1-9 1-7 1 6 1-5 1 31 1-34 1 14 1 7 1-5 1-6 1-6 1 12 1-7 1 0 1 16 1-6 1-23 1 20 1-6 1 3 1-9 1 7 1 3 1 13 1-1 1-7 1-12 1 17 1-16 1 5 1-24 1 16 1 7 1 17 1 0 1-27 1 25 1-8 1 3 1-12 1-7 1 7 1-5 1 20 1 9 1-11 1 3 1-2 1-2 1 7 1 1 1-7 1-21 1 40 1-16 1 34 1-15 1-9 1-13 1-1 1-6 1 5 1 14 1 17 1-28 1 12 1-13 1-13 1 15 1 34 1-64 1 21 1 23 1-26 1 5 1 5 1-8 1 25 1-19 1-15 1 21 1-32 1 16 1-8 1 24 1-43 1 24 1-6 1-2 1 7 1 4 1-6 1 14 1-7 1 1 1-16 1 29 1-10 1-3 1 3 1 5 1-23 1-3 1 4 1 19" stroke="#D95319"/>
<path class="c" d="M0 0l1 11 1 12 1 3 1 12 1 3 1 5 1 3 1 14 1 15 1 13 1-4 1 18 1 10 1-15 1 30 1 4 1 10 1 3 1 12 1 7 1-4 1 43 1-12 1 7 1 3 1 12 1 7 1 33 1-1 1 7 1 13 1 7 1-5 1 4 1 5 1 15 1-4 1 5 1 0 1 22 1-5 1-19 1 10 1-22 1 12 1-21 1 9 1-30 1-10 1 27 1-43 1-3 1-26 1 2 1-27 1 3 1-27 1-7 1 13 1-45 1-11 1-21 1 37 1-32 1-8 1-26 1 25 1-32 1-24 1-10 1 11 1 6 1-40 1 10 1 2 1 10 1 7 1 9 1-19 1 13 1 10 1-9 1 11 1 3 1 8 1 3 1 26 1-11 1 4 1-2 1 15 1-13 1 17 1-3 1 9 1 10 1-9 1 11 1-3 1-12 1-12 1 2 1-2 1-6 1-15 1 7 1-14 1-1 1-4 1-15 1 7 1 6 1-5 1 2 1-21 1 18 1-23 1 15 1-11 1-2 1 1 1 11 1-17 1-7 1 7 1 5 1 1 1-14 1 15 1-8 1-1 1-2 1 5 1 4 1-11 1 4 1-2 1-1 1-7 1-4 1 20 1-8 1 8 1-9 1 8 1-7 1 2 1-4 1 3 1 6 1 2 1-3 1-8 1-5 1 14 1-11 1 11 1-8 1 3 1 0 1 5 1 9 1-22 1 7 1 1 1-7 1 10 1-8 1 19 1-4 1-16 1 25 1-19 1 14 1-15 1 15 1-16 1 3 1-13 1 4 1 6 1 6 1 11 1-5 1 2 1 3 1-11 1 5 1 7 1-23 1 16 1 1 1-8 1 21 1-26 1 4 1 0 1 13 1 5 1 0 1 5 1-11 1-7 1 5 1-9 1-4 1 3 1 15 1-15 1 12 1-4 1 7 1-4 1 1 1-6 1 3 1-2 1-20 1 8 1 4 1 4 1-2 1 7 1 1 1-10 1-2 1 6 1-2 1-7 1-2 1 15 1 0 1-6 1-6 1 0 1 0 1 10 1-9 1-5 1-7 1 15 1-15 1 12 1-21 1 23 1-12 1 9 1-9 1 9 1-3 1 14 1-11 1 4 1 7 1-7 1 4 1-7 1-2 1 6 1-5 1 0 1-11 1 10 1 6 1-3 1 4 1-6 1 13 1-7 1-13 1 16 1-18 1 7 1-7 1 19 1 0 1-18 1 12 1-5 1 0 1 0 1-6 1 1 1 6 1 2 1-15 1 9 1 2 1-9 1 6 1-3 1 11 1-5 1-1 1 8 1-3 1-1 1-1 1-1 1-5 1 9 1 0 1 4 1-12 1 2 1 14 1-11 1-9 1 7 1 0 1 13 1-6 1-5 1 2 1 3 1 1 1-6 1 11 1 0 1-15 1 6 1-4 1 13 1-2 1 1 1-4 1-2 1-5 1 10 1 5 1-17 1 26 1-16 1 8 1-5 1 5 1-10 1 10 1-11 1 9 1-13 1 0 1 5 1-8 1 14 1 1 1-8 1 3 1 0 1-7 1 0 1 5 1 2 1-3 1 5 1-8 1-10 1 5 1-6 1 10 1 12 1-9 1-7 1 5 1 6 1 9 1-10 1 6 1-3 1-4 1-4 1 8 1-9 1 11 1 2 1-13 1-10 1 19 1-10 1 16 1-11 1 3 1-5 1 13 1-18 1 14 1-22 1 15 1 4 1-3 1 4 1-11 1 18 1-19 1 11 1 1 1-9 1 8 1 3 1-12 1-1 1 5 1 9 1-5 1-17 1 23 1-5 1-2 1-6 1 7 1 1 1 1 1 5 1-24 1 13 1 0 1-2 1 6 1-7 1 0 1-7 1 14 1-7 1 15 1-15 1-3 1 11 1-9 1 0 1 5 1-5 1-8 1 12 1-15 1 1 1 3 1 8 1 8 1-19 1 11 1-13 1 1 1 9 1 8 1-14 1 11 1-11 1 0 1 4 1 0 1 10 1-8 1 6 1-22 1 12 1-2 1 9 1-10 1 11 1-11 1 2 1 3 1 4 1 0 1-9 1 12 1 8 1-22 1 9 1-1 1-1 1 1 1 11 1-6 1-3 1 16 1-9 1 7 1-10 1 8 1-10 1 15 1-28 1 15 1-1 1 6 1-12 1 6 1 7 1-4 1 14 1-5 1-1 1-8 1-5 1-4 1 4 1-6 1-3 1 22 1-7 1 9 1-4 1-18 1 22 1-16 1-10 1 15 1 2 1-9 1 6 1-3 1-4 1-12 1 20 1-11 1 5 1 12 1-11 1 6 1-2 1 5 1-9 1-2 1-12 1 5 1 12 1 1 1-11 1-2 1 15 1-11 1-3 1 12 1-8 1 2 1-3 1-3 1 5 1 1 1-4 1-8 1 2 1 5 1 18 1-24 1 6 1 14 1 0 1-12 1 8 1 7 1-15 1 13 1-2 1-14 1 11 1 6 1-18 1 15 1-1 1 2 1-15 1 20 1 3 1-8 1 8 1-8 1-6 1 8 1-10 1 14 1 6 1 0 1-4 1-11 1 6 1-5 1 1 1 5 1-11 1 20 1-5 1-15 1 20 1-4 1-5 1-2 1 3 1 7 1-16 1 4 1 1 1 5 1 4 1-6 1-7 1 1 1 8 1-3 1-13 1 24 1-9 1-4 1 4 1 0 1-2 1 1 1 11 1-4 1-5 1 2 1-7 1 13 1 0 1-1 1 1 1-17 1 3 1 13 1-14 1 14 1-4 1 0 1-11 1 9 1-11 1 21 1-7 1-4 1 6 1-6 1-10 1 8 1-3 1 2 1 0 1-3 1-5 1 3 1 3 1 14 1-7 1-3 1-10 1 10 1-12 1 7 1 8 1 16 1-12 1-2 1-9 1-5 1 20 1-3 1-2 1-10 1 8 1-3 1 6 1-7 1 9 1-24 1 12 1 3 1-5 1-8 1 21 1-5 1 3 1 14 1-8 1 1 1-22 1 18 1-32 1 21 1 0 1-4 1 12 1-4 1 0 1-18 1 22 1 19 1-1 1-38 1 19 1 2 1-27 1 19 1 5 1 9 1-30 1 13 1 14 1-7 1-22 1 8 1 16 1-10 1 6 1 10 1-18 1-2 1 33 1-17 1-3 1-6 1 15 1 8 1 2 1 5 1-25 1 10 1-8 1 1 1 12 1-8 1 6 1 0 1 3 1 13 1 3 1-34 1 22 1-8 1 9 1-1 1-5 1-6 1 26 1-54 1 37 1-13 1-26 1 29 1 5 1-7 1-11 1 30 1 1 1-39 1 36 1-42 1-1 1 46 1-30 1 2 1-29 1 26 1-4 1 21 1-14 1 26 1-19 1-19 1 26 1-17 1-4 1-16 1 21 1 2 1-5 1-14 1 21 1-11 1 20 1-7 1 0 1-8 1-9 1 29 1-18 1 14 1-20 1-18 1 34 1 13 1-1 1-36 1 29 1-4 1 15 1 10 1-35 1 33 1-15 1-28 1 44 1-6 1-10 1 12 1-40 1 56 1-6 1-24 1-4 1-7 1 27 1-9 1-4 1 30 1-53 1 21 1 23 1 24 1-49 1 3 1 16 1 12 1-18 1 1 1-5 1 22 1-60 1 44 1 5 1-12 1-7 1 0 1 11 1-23 1 21 1-24 1 25 1 27 1-45 1 10 1 15 1 10 1-22 1 0 1 28 1-26 1 27 1 15 1-32 1 9 1-7 1-15 1 13 1 4 1-5 1-9 1-16 1 25 1-10 1 20 1 9 1-23 1 12 1-23 1 0 1-4 1 15 1 11 1 6 1-13 1 2 1 7 1-26 1-9 1 40 1-40 1 34 1-6 1-18 1 16 1 0 1-5 1 8 1 15 1-20 1-23 1 37 1-12 1-4 1 12 1-15 1 12 1-13 1 11 1-22 1 31 1 12 1-6 1 1 1-31 1 7 1-19 1 35 1 5 1-23 1 40 1-26 1 12 1-5 1 2 1 12 1-54 1 43 1-8 1-13 1 5 1 25 1-15 1-33 1-5 1 6 1 11 1 5 1-15 1 31 1-18 1-19 1 56 1-53 1 36 1-35 1 6 1 40 1-24 1-19 1 1 1-19 1 24 1 30 1-43 1 14 1 3 1-8 1-30 1 2 1 16 1 5 1 16 1-11 1-18 1-7 1 19 1-6 1 24 1 26 1-21 1-11 1 34 1-62 1 31 1-1 1-6 1 17 1 14 1-7 1-27 1 7 1-24 1 71 1-45 1 10 1-29 1-8 1 26 1 17 1-18 1 46 1-29 1-16 1 25 1-7 1-20 1 8 1 18 1-31 1 9 1 5 1 33 1-13 1-8 1-34 1 3 1 28 1-25 1 21 1 27 1-36 1 13 1 11 1-26 1-5 1-6 1 3 1 24 1-18 1 3 1-3 1-11 1 18 1 20 1-17 1 45 1-32 1-21 1-10 1 32 1-16 1 12 1-21 1 9 1-1 1 8 1-21 1 3 1 2 1 4 1 18 1-15 1 30 1-41 1 40 1-12 1 38 1-33 1 11 1 8 1-47 1 14 1 9 1-7 1 5 1-22 1 9 1 1 1-24 1 31 1 4 1 7 1-13 1 2 1-3 1 63 1-76 1 13 1 15 1 12 1-21 1 28 1-8 1 21 1-65 1 31 1-9 1 28 1-12 1-24 1 8 1-17 1 67 1-64 1 64 1 3 1-32 1-34 1 9 1 15 1 55 1-69 1-32 1 27 1-4 1 15 1-20 1 29 1 16 1-55 1 48 1-46 1 20 1-4 1-4 1 39 1-27 1 8 1 2 1-20 1 22 1 38 1-70 1 20 1-39 1 97 1-48 1 9 1-41 1 29 1-11 1-1 1 5 1 0 1-2 1 12 1 19 1-27 1-17 1 6 1 19 1 20 1-12 1 4 1-25 1-23 1 47 1-18 1 2 1 5 1 69 1-95 1 35 1-47 1 25 1 1 1-12 1 42 1 34 1-39 1-23 1 37 1 37 1-6 1-57 1 71 1-79 1 27 1-29 1 63 1-52 1 20 1-46 1 8 1 30 1-20 1 55 1-57 1-42 1 28 1-3 1 27 1 17 1-45 1 68 1-34 1-3 1-3 1-34 1 49 1-42 1 16 1-8 1 23 1-48 1 33 1-13 1-24 1 34 1-44 1 104 1-57 1-29 1 20 1 52 1-36 1-26 1-5 1 5 1 23 1 17 1-33 1 4 1 30 1-36 1-4 1-1 1 3 1 47 1-34 1-21 1 29 1-2 1 15 1 63 1-43 1 10 1-8 1 28 1-65 1 56 1-58 1 30 1 11" stroke="#EDB120"/>
<path class="c" d="M0 0l1 7 1 8 1 4 1 7 1 6 1 8 1 2 1 17 1 1 1 13 1-3 1 14 1 0 1-8 1 29 1 5 1 24 1-7 1 23 1 16 1 3 1 7 1 25 1 10 1-1 1 16 1 25 1 0 1 18 1 22 1-24 1 18 1 11 1 19 1-1 1 11 1-1 1 16 1 31 1-14 1 32 1 8 1-15 1 13 1 17 1-3 1 18 1-9 1 16 1 3 1-11 1 9 1-23 1 15 1 3 1-1 1-36 1 16 1 7 1-2 1 34 1 3 1-6 1 4 1-7 1-4 1-14 1 13 1 8 1-9 1-1 1-6 1-14 1 43 1-36 1 4 1 3 1 10 1 11 1 3 1-8 1-23 1 9 1-22 1 11 1-8 1 8 1-15 1 7 1 10 1-18 1 32 1-1 1-37 1 8 1 3 1-5 1 11 1-68 1 26 1 23 1-3 1 31 1-19 1-14 1 29 1-9 1-21 1 31 1 7 1-42 1 38 1-18 1 17 1-29 1 1 1-50 1 22 1 18 1-27 1 57 1-16 1 11 1-45 1-7 1 9 1-3 1 3 1 6 1-15 1 28 1 5 1-6 1-1 1-23 1 10 1 10 1-32 1 16 1-29 1 18 1-37 1 33 1 27 1-10 1-39 1-9 1 6 1 25 1-5 1-8 1-11 1 5 1 32 1-33 1 12 1-8 1-17 1 11 1 13 1-3 1-25 1 8 1 6 1 9 1-40 1 28 1-7 1 14 1-26 1 23 1-28 1-3 1 21 1-14 1-23 1 25 1-19 1 1 1-12 1 4 1-33 1 51 1-49 1 24 1 35 1-33 1-35 1 32 1-6 1-1 1 8 1-16 1 27 1 0 1-16 1 1 1-16 1 18 1 9 1-32 1-2 1 13 1 6 1 1 1-11 1 26 1-27 1 15 1-27 1 10 1 20 1-65 1 22 1 35 1-17 1-19 1 2 1 20 1 13 1-38 1 34 1-61 1 24 1 21 1-23 1 33 1-3 1-14 1-7 1 8 1 3 1-56 1 34 1-4 1-7 1 21 1-10 1 18 1 8 1-43 1 20 1 2 1-23 1 22 1 3 1-5 1-1 1 12 1-32 1 32 1-8 1-34 1 37 1-21 1-15 1 14 1 14 1-32 1 13 1-2 1-7 1 12 1-2 1-20 1 6 1 4 1 2 1-40 1 44 1 4 1-2 1-20 1-18 1 15 1-48 1 56 1-15 1 16 1-6 1-23 1 21 1-25 1 14 1 0 1-4 1-7 1-29 1 47 1-32 1-2 1 22 1 7 1-25 1-10 1 15 1-4 1 11 1-54 1 1 1 38 1-10 1 24 1-3 1-12 1-4 1 21 1 5 1-34 1 18 1-13 1 15 1-21 1 26 1-28 1 16 1 10 1-17 1-13 1 15 1-1 1-12 1-9 1 24 1-9 1 10 1-25 1 3 1-10 1 4 1 7 1 16 1-28 1 9 1 7 1-6 1 11 1-5 1-2 1-14 1-10 1 8 1-8 1 25 1-1 1-26 1 27 1-2 1-5 1-53 1 46 1-3 1-7 1 3 1-6 1 18 1-14 1-19 1 24 1-19 1 28 1-35 1 20 1-5 1 10 1-24 1-16 1 39 1-16 1 21 1-14 1 3 1-14 1-10 1 30 1-12 1 6 1-20 1 19 1-26 1-2 1 15 1 5 1 1 1-24 1 16 1-10 1-7 1-11 1 16 1 9 1 0 1 6 1-13 1 5 1-4 1 0 1-3 1 19 1 0 1-26 1 26 1-26 1 1 1 14 1 0 1-20 1 19 1 8 1-24 1 8 1 3 1-41 1 44 1 8 1-26 1 0 1 16 1-30 1 36 1-19 1-7 1 21 1-15 1-2 1 26 1-10 1-9 1-2 1-2 1 21 1-20 1-15 1 20 1-4 1 18 1-12 1-10 1-3 1 2 1-9 1 24 1 3 1-3 1-39 1 23 1-11 1 6 1 15 1-19 1 19 1-18 1-8 1 4 1 7 1 12 1-15 1 14 1-9 1 2 1 0 1-18 1 13 1-10 1-3 1 12 1 8 1-17 1-9 1 16 1-11 1-5 1 6 1 9 1 2 1-6 1-28 1 22 1-11 1-28 1 14 1 15 1 5 1-8 1 23 1-27 1 19 1-31 1 14 1 24 1-22 1 9 1 6 1-2 1-15 1 24 1-4 1-9 1 9 1-1 1-13 1-4 1 19 1-26 1 4 1 6 1 3 1 7 1-5 1-9 1 11 1 9 1-5 1-5 1-2 1 0 1-15 1-7 1 13 1 17 1-22 1 9 1 9 1 0 1-7 1-1 1 6 1 2 1-15 1-10 1 12 1-8 1 3 1 0 1-4 1-1 1 9 1-19 1 12 1-9 1 18 1 3 1-22 1 17 1 5 1-3 1-1 1-15 1 18 1-18 1-1 1 17 1-18 1 0 1 10 1 6 1-10 1 1 1-5 1-14 1 33 1-12 1 3 1-8 1 9 1-8 1 16 1-22 1 16 1-16 1 11 1-11 1 2 1 4 1-2 1 17 1 0 1-6 1-13 1 3 1 8 1-3 1-17 1 7 1-2 1 19 1-12 1 1 1-2 1 11 1-15 1 8 1 9 1-11 1 4 1 1 1 1 1 2 1-8 1 4 1 4 1 0 1 2 1-12 1 12 1-17 1 12 1 0 1 7 1-16 1-3 1 1 1 19 1-22 1 16 1-14 1 0 1 5 1 0 1 11 1-2 1-14 1 10 1 6 1-7 1-16 1 11 1 0 1-7 1-8 1 14 1 6 1 0 1 1 1-14 1-1 1 11 1 7 1-7 1-6 1-4 1 0 1 8 1 8 1-16 1 15 1-2 1 5 1-13 1 12 1-8 1-4 1 13 1-6 1-2 1 1 1-7 1 8 1-4 1-7 1 13 1-5 1 7 1-10 1-2 1-1 1 9 1-6 1-4 1 10 1-12 1 1 1 9 1 0 1-2 1-7 1 15 1-2 1-2 1-7 1 4 1 2 1-2 1 4 1 6 1-3 1 3 1-21 1 19 1 2 1 1 1-12 1 3 1-2 1 5 1-6 1 6 1-10 1 16 1-6 1-9 1-1 1 2 1 8 1-10 1 9 1 2 1-3 1-7 1 4 1 10 1-1 1-10 1 0 1 14 1-2 1-12 1 6 1 5 1 1 1-7 1-6 1 8 1-7 1-1 1 10 1 0 1-4 1 1 1 4 1 3 1-5 1 0 1-3 1-2 1 6 1 8 1-14 1 6 1 7 1-12 1 3 1 12 1-12 1 12 1-3 1-7 1 4 1 4 1 0 1-13 1 3 1 2 1 3 1 2 1-11 1 11 1-9 1 13 1-7 1-10 1 5 1-7 1 3 1 9 1-4 1-5 1 8 1 1 1-5 1 0 1 0 1 2 1-3 1 9 1-3 1-10 1 0 1-2 1 0 1 0 1 14 1-14 1 1 1 7 1 3 1 3 1 4 1-15 1 0 1 10 1-11 1 2 1 5 1-7 1 12 1-13 1 15 1-14 1 3 1-3 1 0 1 5 1-4 1 12 1-12 1-2 1 15 1-1 1-2 1-20 1 19 1-11 1 5 1 11 1-3 1-4 1 7 1-3 1-11 1 3 1-5 1-4 1 11 1-4 1 9 1-1 1 0 1-1 1 5 1-7 1 4 1-10 1 1 1 11 1-15 1 9 1 1 1-2 1-2 1 4 1-10 1 3 1 2 1-8 1 10 1-1 1-3 1 7 1-7 1 9 1-3 1-5 1-4 1-5 1 18 1-5 1-4 1-1 1 13 1-16 1 1 1 5 1 5 1-8 1 9 1 2 1 4 1-13 1 12 1-9 1 11 1-11 1 14 1-5 1-7 1 10 1-8 1-6 1 6 1 3 1 6 1-2 1-10 1 6 1 1 1-18 1 20 1-11 1 5 1-6 1 14 1-5 1 5 1-14 1 1 1 9 1 3 1 1 1-10 1-9 1 9 1 0 1 6 1-13 1-1 1 4 1-4 1 10 1 2 1-2 1-4 1-4 1 8 1-6 1 2 1-4 1 4 1-6 1 3 1 3 1-7 1 12 1-6 1 2 1 1 1-4 1 9 1-7 1-6 1 13 1 5 1-8 1-2 1 8 1-8 1 5 1 1 1 6 1-7 1-7 1 15 1-2 1 0 1-2 1-9 1 5 1-5 1 2 1-3 1 0 1 7 1 6 1 3 1 0 1-15 1-5 1 11 1 6 1 2 1-15 1 8 1 4 1-8 1 12 1-12 1 7 1-10 1 12 1 1 1 1 1 1 1 1 1-14 1-1 1 4 1-2 1 2 1 4 1-3 1-3 1 3 1-8 1 5 1 11 1 2 1-5 1 4 1-15 1 1 1 6 1 7 1-9 1 7 1-1 1-9 1 2 1-4 1 4 1 10 1-16 1 4 1 5 1-8 1 5 1 0 1 0 1-8 1 10 1-1 1 8 1-12 1-2 1 2 1 3 1-6 1 10 1 1 1-4 1-7 1 10 1 3 1-13 1 1 1 4 1 6 1-12 1 8 1-3 1 10 1-10 1-3 1 5 1 2 1-1 1 2 1-5 1-7 1 1 1 4 1-6 1 15 1 0 1-10 1 0 1-2 1 8 1 1 1-11 1 7 1-1 1-7 1 5 1-1 1 0 1 10 1-14 1-1 1 1 1 6 1 6 1-11 1-1 1 11 1-8 1 1 1 7 1-8 1 2 1 10 1-10 1 5 1-17 1 19 1-13 1 4 1 1 1 5 1 0 1-4 1 5 1-7 1 3 1 9 1-4 1-2 1 2 1-10 1 8 1-6 1 4 1 9 1 0 1-16 1 3 1-7 1 19 1-1 1-3 1-10 1-6 1 17 1-4 1-2 1-7 1 14 1-12 1 0 1 11 1-6 1 8 1-10 1 8 1 2 1-3 1-11 1 0 1 4 1 1 1-1 1 4 1-3 1 2 1-8 1 8 1-2 1 7 1-12 1 7 1 6 1 0 1-10 1 4 1-1 1 8 1-16 1 3 1 2 1 11 1-12 1-4 1 13 1 2 1-1 1 4 1-18 1 7 1 4 1 3 1 8 1-3 1-10 1 8 1-3 1 8 1 0 1-7 1 8 1-10 1 9 1-1 1-1 1 1 1 1 1 2 1 1 1-9 1-3 1-3 1 0 1 12 1-8 1 3 1-6 1 11 1-13 1 4 1 0 1 9 1-14 1 14 1-5 1-17 1 11 1 7 1-2 1 3 1-4 1-6 1 6 1-3 1-5 1 10 1-14 1 3 1 8 1-6 1 0 1 13 1-2" stroke="#7E2F8E"/>
<path class="c" d="M0 0l1 6 1 11 1 6 1 9 1 11 1 0 1 12 1 11 1 11 1 1 1 19 1 3 1 12 1 8 1 24 1-4 1 15 1 21 1 1 1 7 1 19 1 5 1 4 1-6 1 52 1-4 1-13 1 43 1 32 1-10 1 33 1-7 1 13 1 17 1-4 1 36 1-8 1 16 1-4 1 55 1-25 1 2 1 14 1 11 1 15 1-19 1 24 1-20 1-7 1-5 1 9 1 52 1-10 1 15 1-46 1 37 1-28 1 13 1-7 1-27 1 81 1 0 1-84 1 41 1 43 1-21 1-13 1-6 1 19 1 8 1 9 1-5 1-40 1 8 1 48 1-43 1-11 1 8 1 25 1-35 1-18 1 22 1 29 1-25 1-2 1 5 1 11 1 19 1-34 1 4 1 35 1 3 1-46 1-43 1 85 1 3 1-4 1-50 1 12 1 36 1-9 1-8 1 13 1 13 1-47 1 8 1 26 1-97 1 78 1-11 1-26 1 3 1 42 1-50 1 24 1-6 1-4 1 16 1 3 1-9 1-27 1-61 1 42 1 51 1-4 1-5 1-36 1-5 1 2 1-14 1-8 1-9 1 50 1-40 1 41 1-31 1-24 1 17 1 24 1-5 1-43 1 19 1-13 1 23 1-57 1 27 1-5 1 7 1-7 1 30 1-15 1 13 1-23 1 27 1 5 1-41 1-10 1 53 1-13 1 1 1-9 1 8 1-20 1 18 1 2 1-6 1-26 1 34 1 16 1-53 1 41 1-17 1 3 1-4 1 9 1-4 1-32 1 24 1-23 1 46 1-2 1-1 1-54 1 10 1-13 1 30 1 10 1 11 1-45 1 3 1-31 1 45 1 0 1-54 1 63 1 2 1-50 1 27 1-24 1 43 1-35 1-18 1 36 1-75 1 45 1 38 1-4 1-44 1 36 1-1 1-40 1 20 1 10 1-36 1 7 1 29 1-19 1-5 1 16 1-14 1-10 1-3 1 19 1-36 1 9 1 15 1-11 1 3 1 27 1-45 1-9 1 18 1-15 1-7 1 35 1-13 1 9 1-62 1 51 1-18 1 14 1 11 1 9 1-31 1 11 1-15 1-15 1 18 1-44 1 60 1-30 1 1 1 13 1-14 1 17 1-3 1-17 1-11 1 9 1 10 1-14 1-10 1 34 1-34 1 16 1-8 1-16 1 7 1 0 1 33 1-27 1-19 1 41 1-43 1 20 1 15 1 6 1-47 1 43 1-24 1 5 1-1 1 13 1-19 1 13 1-12 1-27 1 7 1-40 1 42 1 30 1-75 1 59 1-17 1 6 1 17 1-27 1 6 1-11 1 15 1-14 1 14 1-14 1 1 1 35 1-14 1 8 1-24 1-15 1 39 1-4 1-13 1-6 1-3 1 18 1-57 1 58 1-18 1-22 1 33 1-36 1 12 1-9 1 23 1-19 1 11 1-9 1 0 1-17 1-9 1-1 1 0 1 8 1 7 1-3 1 25 1-39 1 23 1-10 1-5 1 8 1 3 1-25 1 0 1 15 1 7 1-32 1 2 1 18 1-16 1 20 1-15 1 20 1-23 1-29 1 43 1-16 1 24 1-24 1-30 1 49 1-10 1-4 1 5 1-62 1 36 1 7 1 23 1 0 1-29 1 5 1 22 1-6 1-29 1-5 1 39 1-22 1 7 1 6 1-18 1-9 1 21 1-33 1 34 1-25 1-11 1 21 1-21 1 11 1-9 1 20 1-1 1-27 1 12 1 0 1 4 1-17 1-2 1 12 1 5 1 2 1-8 1 13 1-33 1 6 1 27 1-53 1-28 1 49 1 24 1-5 1-70 1 6 1 68 1-71 1 60 1-1 1-17 1 28 1-43 1 43 1-27 1-2 1 8 1 15 1-19 1 22 1-30 1 12 1-2 1-50 1 60 1-3 1-21 1 4 1 10 1-59 1 47 1 13 1-1 1-7 1 7 1-25 1-25 1 20 1 11 1 20 1-33 1 5 1 23 1-8 1-16 1-40 1 50 1 4 1-25 1 8 1 13 1-24 1 22 1-31 1 31 1-18 1 16 1 5 1-31 1 19 1 9 1-49 1 40 1-9 1 6 1 14 1-4 1-26 1 20 1-21 1 29 1-15 1-11 1 17 1-12 1 4 1-15 1-14 1 32 1-8 1 0 1-37 1 31 1 5 1-7 1-15 1 3 1 0 1 20 1-21 1 0 1 2 1 1 1 11 1-11 1 9 1-21 1 10 1-13 1-14 1 27 1-11 1 17 1-21 1-4 1-3 1 12 1-15 1 27 1-9 1-11 1 10 1 0 1-10 1-2 1 19 1-20 1 9 1-3 1 10 1-9 1-6 1 10 1-11 1 22 1-8 1 13 1-13 1-8 1-3 1 17 1 6 1-22 1 9 1 1 1-4 1-6 1-10 1 23 1-19 1 10 1 2 1-8 1-4 1-9 1 25 1-36 1 21 1-4 1-5 1 20 1-18 1 4 1-1 1 2 1-11 1 17 1-8 1 8 1-8 1 9 1 1 1-24 1 16 1-4 1-15 1 15 1 3 1 1 1-19 1 16 1 2 1-15 1-3 1 13 1-12 1 23 1-9 1-1 1-24 1 28 1-21 1 24 1-18 1-4 1 3 1 12 1-14 1 6 1 4 1-4 1 4 1-12 1-19 1 20 1-8 1 4 1 7 1-6 1 3 1 10 1-5 1 10 1-9 1-10 1 5 1-8 1 20 1-2 1-11 1-8 1 6 1 14 1 1 1-3 1-14 1-11 1 23 1-9 1-3 1 6 1-10 1 5 1 13 1-11 1 5 1-13 1-3 1 11 1 4 1-12 1 18 1-2 1-13 1 1 1 6 1-19 1 27 1 2 1-13 1-6 1 9 1-15 1 4 1 15 1-7 1 2 1 4 1 0 1-4 1 9 1-9 1 2 1 3 1-7 1-7 1-3 1-3 1 12 1-7 1 11 1 4 1-3 1-2 1 5 1-9 1 7 1-14 1 2 1 10 1-13 1 8 1-16 1 24 1-13 1 4 1-20 1 22 1-7 1 10 1-14 1-2 1 0 1 12 1 3 1-5 1-3 1 10 1-5 1 9 1-19 1 19 1-15 1 14 1-10 1 6 1 4 1 4 1-22 1 7 1 1 1-3 1 14 1 1 1-16 1 6 1-4 1 2 1 3 1 1 1-9 1 3 1-5 1 5 1 9 1-5 1 2 1-13 1 2 1 12 1-17 1 7 1-7 1 16 1-15 1 14 1-4 1-12 1 9 1-4 1 4 1-15 1 13 1-13 1 9 1 10 1 2 1-2 1 4 1-8 1-22 1 22 1 4 1-3 1-3 1 8 1-18 1-7 1 11 1 11 1-4 1-2 1-10 1 7 1-3 1-2 1 6 1-8 1 9 1 10 1-9 1 4 1-4 1-6 1 7 1-2 1 10 1 1 1 0 1-6 1 0 1-6 1-1 1 2 1 1 1-2 1 15 1-10 1 4 1 4 1 3 1-14 1 1 1 11 1-2 1 0 1 4 1 1 1-3 1-12 1 6 1 6 1 0 1-9 1 2 1-5 1-1 1 2 1 2 1 2 1 7 1-6 1 3 1-6 1 0 1 3 1-6 1 15 1-15 1 9 1-2 1-21 1 20 1-4 1-5 1 13 1-1 1-12 1-4 1 9 1-3 1-3 1 4 1 13 1-7 1-11 1 7 1-8 1 11 1-5 1-3 1 0 1 3 1 6 1-7 1 5 1-5 1 4 1-6 1 1 1-4 1 8 1-6 1-10 1 7 1 4 1 1 1-4 1 12 1-8 1 0 1-2 1-2 1 15 1-15 1 12 1 4 1-4 1-6 1 4 1-10 1 4 1 1 1 10 1-1 1-11 1-1 1-5 1 4 1 9 1-2 1 4 1-9 1 1 1 10 1 1 1-8 1 1 1 9 1-8 1-8 1 10 1-13 1 7 1-7 1 0 1 6 1 12 1-17 1 14 1 0 1-14 1 8 1-7 1 0 1 5 1 4 1-6 1 6 1-3 1-2 1 13 1-3 1-6 1-4 1 10 1-12 1 15 1-9 1-7 1 13 1-10 1 2 1 4 1-8 1 13 1-2 1-3 1-4 1-3 1 4 1-6 1 15 1-7 1-4 1-4 1-3 1 16 1-15 1-1 1 8 1 6 1-12 1 6 1 12 1-7 1-12 1 11 1 2 1 4 1-14 1 7 1 2 1-1 1 1 1-8 1-1 1 13 1-7 1 0 1 7 1-9 1 10 1 1 1-14 1 3 1 9 1-13 1 15 1-10 1-9 1 4 1 6 1 6 1-15 1 6 1 3 1 4 1 2 1-1 1-1 1-16 1 7 1-6 1 5 1-3 1 10 1-9 1-3 1 10 1-11 1 4 1 9 1-27 1 26 1-14 1 14 1-7 1 8 1-20 1 4 1 13 1-3 1-9 1 5 1-1 1 6 1 4 1-11 1 3 1 6 1-11 1-6 1 20 1-12 1 13 1 2 1-9 1 0 1 6 1-7 1 6 1-3 1 2 1 4 1-4 1 6 1-7 1-6 1 14 1-13 1 12 1-16 1 12 1 4 1-7 1 8 1-7 1-2 1 5 1 2 1-12 1 2 1 3 1-9 1 14 1-16 1 19 1-15 1 6 1 1 1 1 1-11 1 1 1 11 1-5 1-2 1 8 1-13 1 1 1 7 1-4 1 10 1-13 1 6 1 4 1-10 1 5 1 9 1-10 1 7 1-9 1 3 1-9 1 16 1 0 1-5 1 5 1-12 1 6 1 6 1-8 1 10 1-14 1 8 1 1 1 1 1-5 1-11 1 17 1 3 1-8 1-5 1 6 1-7 1 1 1-4 1-1 1 4 1-3 1 10 1 1 1 5 1 1 1-9 1 4 1-10 1 7 1 3 1-11 1 18 1-8 1-3 1-2 1 6 1-1 1-5 1 6 1 5 1-3 1-2 1-8 1 4 1 12 1-11 1 10 1-4 1-1 1 2 1-10 1 10 1 5 1-11 1 6 1 0 1-4 1-3 1 9 1 6 1 0 1-8 1 3 1 1 1 3 1-12 1 7 1-7 1 6 1-3 1 1 1 4 1-14 1 7 1 12 1-15 1 12 1-12 1 3 1 13 1-15 1 1 1 0 1 8 1 5 1-1 1-7 1 8 1-7 1-4 1 12 1-9 1 3 1-7 1-1 1-2 1 2 1 10 1-4 1-8 1 14 1-7 1 7 1 2 1-15 1 10 1-6 1 2 1 1 1-1 1-9 1 9 1 1 1 2 1-8 1 4 1 1 1 7 1 1 1-5 1-8 1 10 1-3 1-5" stroke="#77AC30"/>
</g></g>
<rect x="362.50" y="253.50" width="316.00" height="88.00" fill="none" stroke="#7c7c7c" stroke-width="1.00"/>
<path d="M362.50 341.50h4M678.50 341.50h-4M362.50 328.50h4M678.50 328.50h-4M362.50 316.50h4M678.50 316.50h-4M362.50 303.50h4M678.50 303.50h-4M362.50 291.50h4M678.50 291.50h-4M362.50 278.50h4M678.50 278.50h-4M362.50 265.50h4M678.50 265.50h-4M362.50 253.50h4M678.50 253.50h-4M362.50 341.50v-4M362.50 253.50v4M414.50 341.50v-4M414.50 253.50v4M467.50 341.50v-4M467.50 253.50v4M520.50 341.50v-4M520.50 253.50v4M572.50 341.50v-4M572.50 253.50v4M625.50 341.50v-4M625.50 253.50v4M678.50 341.50v-4M678.50 253.50v4" stroke="#7c7c7c" stroke-width="1.00" fill="none"/>
<text x="360.60" y="343.40" font-size="5.6" style="stroke-width:1.00px;stroke:#c4c4c4" text-anchor="end" textLength="9.0" lengthAdjust="spacingAndGlyphs">-100</text>
<text x="360.60" y="330.83" font-size="5.6" style="stroke-width:1.00px;stroke:#c4c4c4" text-anchor="end" textLength="2.6" lengthAdjust="spacingAndGlyphs">0</text>
<text x="360.60" y="318.26" font-size="5.6" style="stroke-width:1.00px;stroke:#c4c4c4" text-anchor="end" textLength="7.3" lengthAdjust="spacingAndGlyphs">100</text>
<text x="360.60" y="305.69" font-size="5.6" style="stroke-width:1.00px;stroke:#c4c4c4" text-anchor="end" textLength="7.3" lengthAdjust="spacingAndGlyphs">200</text>
<text x="360.60" y="293.11" font-size="5.6" style="stroke-width:1.00px;stroke:#c4c4c4" text-anchor="end" textLength="7.3" lengthAdjust="spacingAndGlyphs">300</text>
<text x="360.60" y="280.54" font-size="5.6" style="stroke-width:1.00px;stroke:#c4c4c4" text-anchor="end" textLength="7.3" lengthAdjust="spacingAndGlyphs">400</text>
<text x="360.60" y="267.97" font-size="5.6" style="stroke-width:1.00px;stroke:#c4c4c4" text-anchor="end" textLength="7.3" lengthAdjust="spacingAndGlyphs">500</text>
<text x="360.60" y="255.40" font-size="5.6" style="stroke-width:1.00px;stroke:#c4c4c4" text-anchor="end" textLength="7.3" lengthAdjust="spacingAndGlyphs">600</text>
<text x="362.10" y="349.50" font-size="5.8" style="stroke-width:1.00px;stroke:#c4c4c4" text-anchor="middle" textLength="3.0" lengthAdjust="spacingAndGlyphs">0</text>
<text x="414.82" y="349.50" font-size="5.8" style="stroke-width:1.00px;stroke:#c4c4c4" text-anchor="middle" textLength="9.3" lengthAdjust="spacingAndGlyphs">200</text>
<text x="467.53" y="349.50" font-size="5.8" style="stroke-width:1.00px;stroke:#c4c4c4" text-anchor="middle" textLength="9.3" lengthAdjust="spacingAndGlyphs">400</text>
<text x="520.25" y="349.50" font-size="5.8" style="stroke-width:1.00px;stroke:#c4c4c4" text-anchor="middle" textLength="9.3" lengthAdjust="spacingAndGlyphs">600</text>
<text x="572.97" y="349.50" font-size="5.8" style="stroke-width:1.00px;stroke:#c4c4c4" text-anchor="middle" textLength="9.3" lengthAdjust="spacingAndGlyphs">800</text>
<text x="625.68" y="349.50" font-size="5.8" style="stroke-width:1.00px;stroke:#c4c4c4" text-anchor="middle" textLength="12.4" lengthAdjust="spacingAndGlyphs">1000</text>
<text x="678.40" y="349.50" font-size="5.8" style="stroke-width:1.00px;stroke:#c4c4c4" text-anchor="middle" textLength="12.4" lengthAdjust="spacingAndGlyphs">1200</text>
<rect x="604.20" y="257.90" width="71.10" height="39.70" fill="#fff" stroke="#ffffff" stroke-width="0.10"/>
<rect x="604.50" y="257.50" width="71.00" height="40.00" fill="none" stroke="#7c7c7c" stroke-width="1.00"/>
<path d="M605.50 263.00h18.2" stroke="#0072BD" stroke-width="2" stroke-opacity="0.62"/>
<text x="624.80" y="264.70" font-size="6.0" textLength="26.1" lengthAdjust="spacingAndGlyphs">PQWGAN</text>
<path d="M605.50 270.00h18.2" stroke="#D95319" stroke-width="2" stroke-opacity="0.62"/>
<text x="624.80" y="272.50" font-size="6.0" textLength="42.6" lengthAdjust="spacingAndGlyphs">WGAN-GP-Lite</text>
<path d="M605.50 278.00h18.2" stroke="#EDB120" stroke-width="2" stroke-opacity="0.62"/>
<text x="624.80" y="280.30" font-size="6.0" textLength="38.3" lengthAdjust="spacingAndGlyphs">WGAN-GP-Big</text>
<path d="M605.50 286.00h18.2" stroke="#7E2F8E" stroke-width="2" stroke-opacity="0.62"/>
<text x="624.80" y="288.10" font-size="6.0" textLength="47.4" lengthAdjust="spacingAndGlyphs">QuantumPatchGAN</text>
<path d="M605.50 294.00h18.2" stroke="#77AC30" stroke-width="2" stroke-opacity="0.62"/>
<text x="624.80" y="295.90" font-size="6.0" textLength="33.3" lengthAdjust="spacingAndGlyphs">QINN-QGAN</text>
</g>
</svg></body></html>
